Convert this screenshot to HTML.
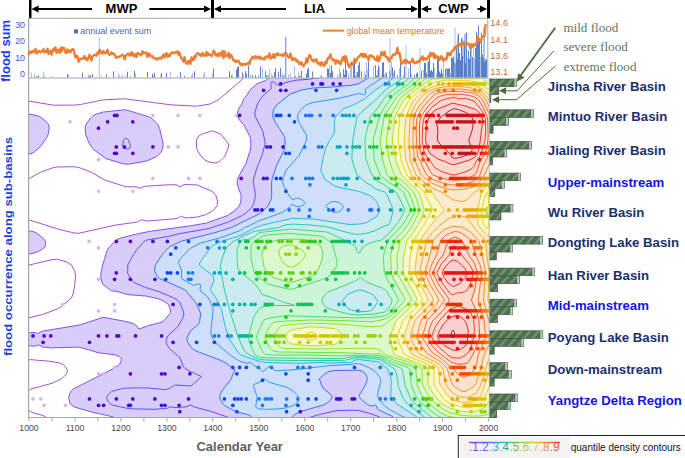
<!DOCTYPE html><html><head><meta charset="utf-8"><style>html,body{margin:0;padding:0;background:#fff;}svg{display:block;}svg{font-family:"Liberation Sans",sans-serif;}</style></head><body>
<svg width="685" height="458" viewBox="0 0 685 458">
<defs><clipPath id="pc"><rect x="28.5" y="78" width="460.5" height="339.5"/></clipPath><pattern id="hatch" patternUnits="userSpaceOnUse" width="6.5" height="6.5" patternTransform="rotate(40)"><rect width="6.5" height="6.5" fill="#4d6f4e"/><rect width="2.6" height="6.5" fill="#6f936f"/></pattern></defs>
<rect width="685" height="458" fill="#fff"/>
<g clip-path="url(#pc)">
<path fill="#d9cefb" fill-rule="evenodd" d="M504.0 428.3 L122.2 428.0 L122.0 422.0 L119.3 419.5 L113.5 417.0 L93.0 412.3 L74.5 407.1 L70.3 404.0 L68.8 398.5 L69.0 396.0 L70.0 393.1 L71.5 390.7 L73.5 388.9 L111.0 369.8 L118.3 365.5 L120.3 363.0 L121.6 360.0 L121.5 359.0 L119.2 356.5 L115.0 354.8 L98.0 352.7 L89.5 349.9 L78.5 347.1 L51.5 347.9 L42.8 347.0 L39.0 344.9 L34.5 346.2 L25.5 345.5 L23.0 344.5 L18.0 340.5 L18.0 339.0 L17.5 338.5 L18.5 338.4 L21.7 335.0 L24.5 333.4 L34.0 332.4 L38.5 333.5 L40.5 332.0 L43.0 331.1 L80.5 324.8 L103.0 317.3 L123.5 321.0 L133.4 323.5 L135.8 325.0 L139.0 329.0 L148.7 325.5 L161.0 322.4 L163.0 321.3 L165.8 318.5 L170.0 313.5 L170.4 310.0 L168.5 304.5 L163.3 301.0 L158.0 298.6 L146.5 296.1 L128.0 294.6 L117.0 291.5 L111.5 290.8 L103.0 284.5 L101.2 280.0 L100.7 274.5 L102.6 265.0 L107.2 250.5 L108.6 248.0 L114.0 242.2 L117.5 239.4 L120.5 238.1 L137.5 233.8 L151.5 231.1 L190.0 225.9 L206.5 223.0 L227.6 215.5 L233.4 211.5 L239.0 206.5 L240.8 202.0 L241.2 195.5 L237.4 185.0 L237.1 180.5 L238.6 176.5 L246.0 163.4 L250.3 150.0 L250.8 146.5 L250.6 139.5 L249.7 136.0 L243.9 125.0 L239.8 120.5 L238.3 118.0 L237.1 115.0 L237.6 112.0 L238.6 109.0 L241.8 104.0 L243.7 99.0 L247.0 95.0 L250.5 89.4 L257.0 83.7 L265.5 80.5 L272.3 76.0 L274.7 71.5 L275.1 66.0 L504.0 65.7 L504.0 428.3ZM129.5 164.1 L124.0 164.0 L106.0 158.7 L94.3 150.0 L91.7 147.5 L88.6 142.0 L85.6 134.5 L85.2 127.0 L86.2 124.0 L90.6 118.0 L92.8 116.0 L96.5 114.0 L103.4 112.0 L125.5 109.7 L149.5 117.0 L153.0 119.5 L157.9 124.5 L159.6 128.5 L163.0 143.0 L163.0 148.0 L160.9 152.5 L156.7 156.5 L147.0 160.9 L129.5 164.1ZM29.0 154.1 L21.0 154.2 L19.2 153.5 L16.0 150.8 L16.0 117.4 L19.0 115.0 L21.4 114.0 L28.5 114.0 L39.0 116.2 L45.6 121.0 L49.0 125.6 L49.1 130.0 L47.8 135.5 L42.5 143.9 L39.7 147.5 L35.5 151.2 L32.5 153.1 L29.0 154.1ZM30.0 254.0 L26.0 254.5 L21.5 254.2 L18.7 253.0 L16.0 250.7 L16.0 234.1 L20.2 231.0 L22.5 230.5 L27.5 230.4 L34.5 231.9 L41.7 237.0 L45.3 241.0 L45.6 245.0 L44.0 248.0 L37.3 252.0 L30.0 254.0Z"/>
<path fill="#d9cefb" fill-rule="evenodd" d="M504.0 428.2 L384.0 428.0 L384.0 426.0 L386.0 423.3 L386.3 422.0 L385.7 420.5 L384.2 419.0 L376.0 415.5 L368.3 413.0 L359.5 410.6 L353.5 410.2 L337.0 410.5 L319.3 414.5 L310.8 417.0 L306.3 419.5 L304.6 421.5 L305.0 423.7 L307.0 426.0 L307.0 428.0 L234.6 428.0 L234.3 422.0 L232.5 420.0 L228.7 417.5 L211.5 411.5 L194.4 407.0 L191.0 404.9 L185.5 406.9 L175.0 407.6 L171.0 406.8 L167.0 408.2 L155.0 409.3 L133.0 408.9 L125.7 408.0 L112.5 405.0 L110.0 403.5 L107.7 401.0 L106.6 397.5 L107.6 395.5 L111.6 391.5 L116.2 390.0 L124.5 388.2 L138.5 387.9 L147.0 387.9 L165.5 389.6 L169.4 388.5 L173.5 385.8 L175.5 385.0 L191.0 386.0 L201.5 376.5 L198.5 375.0 L197.5 375.0 L192.0 372.0 L191.0 372.0 L184.5 368.0 L183.5 367.0 L179.8 357.5 L169.3 348.5 L166.4 343.5 L166.2 340.5 L167.2 337.0 L170.0 333.5 L177.5 327.2 L183.3 317.0 L183.8 314.5 L183.5 312.0 L179.9 302.5 L177.4 300.0 L173.0 297.6 L159.5 291.8 L145.7 287.5 L134.9 283.0 L131.7 280.0 L127.7 273.5 L127.8 265.0 L132.3 256.5 L136.5 250.2 L143.2 242.5 L146.0 240.2 L168.0 236.6 L180.5 233.5 L205.0 229.5 L213.7 227.0 L228.5 222.0 L242.2 215.5 L246.5 212.5 L252.6 206.5 L254.1 203.0 L255.4 195.5 L253.3 183.0 L253.5 179.5 L256.9 168.0 L262.3 154.5 L265.3 143.0 L262.7 131.0 L255.3 117.0 L254.8 113.0 L257.1 105.0 L259.7 100.0 L266.0 92.7 L270.9 89.0 L271.2 87.5 L270.7 83.5 L271.5 81.8 L273.5 81.8 L277.5 85.0 L279.0 85.2 L286.0 82.4 L296.5 80.2 L308.5 79.3 L328.0 76.3 L328.6 75.5 L324.2 71.5 L323.8 66.0 L504.3 66.0 L504.0 428.2ZM128.0 149.0 L124.5 148.4 L122.6 146.5 L123.3 141.0 L124.0 139.5 L125.5 138.3 L127.0 138.6 L128.3 140.0 L130.3 145.0 L130.1 148.0 L128.0 149.0Z"/>
<path fill="#cedffc" fill-rule="evenodd" d="M504.0 428.2 L396.5 428.0 L396.2 421.5 L393.0 416.7 L378.5 409.8 L377.5 409.0 L376.5 406.0 L375.5 405.1 L371.5 406.2 L367.5 404.5 L362.5 400.5 L359.1 396.5 L359.6 394.5 L365.5 385.0 L367.3 379.5 L366.6 376.0 L365.1 373.5 L361.7 371.0 L358.5 370.1 L334.8 370.5 L329.1 371.5 L326.2 373.0 L320.5 377.5 L319.0 379.5 L320.0 380.0 L321.2 384.5 L323.7 389.0 L329.7 393.5 L331.7 396.0 L332.0 397.5 L330.5 400.0 L327.1 403.0 L323.6 405.0 L298.5 412.1 L294.2 415.0 L283.0 426.0 L261.0 426.0 L250.0 415.5 L247.0 414.4 L236.0 411.9 L224.7 405.5 L222.3 403.0 L219.7 397.5 L220.4 393.5 L222.0 390.7 L230.8 379.5 L235.0 369.9 L225.2 362.5 L219.9 360.0 L197.5 351.5 L192.8 349.0 L190.4 346.5 L187.3 341.5 L186.8 338.0 L190.3 331.0 L198.2 324.5 L199.5 322.8 L200.6 313.5 L198.4 307.5 L195.5 302.5 L185.5 290.3 L162.3 280.0 L158.9 278.0 L156.7 275.5 L155.4 273.0 L154.4 270.0 L154.6 268.0 L156.2 263.5 L162.3 254.5 L168.0 248.0 L170.9 246.0 L182.0 241.0 L215.0 232.6 L231.4 227.5 L259.5 213.7 L267.5 206.7 L270.0 202.0 L271.6 197.5 L271.6 182.5 L272.2 178.5 L276.8 165.0 L283.9 150.5 L285.2 142.5 L284.4 136.5 L274.2 120.5 L272.6 116.0 L272.6 113.0 L273.8 109.0 L276.2 105.5 L290.0 94.2 L301.0 90.1 L312.0 88.1 L334.0 86.8 L351.5 85.2 L358.0 84.0 L363.7 81.0 L371.0 75.9 L373.0 72.5 L373.3 66.0 L504.2 66.0 L504.0 428.2Z"/>
<path fill="#cedffc" fill-rule="evenodd" d="M504.0 428.2 L413.6 428.0 L413.4 422.5 L412.0 420.6 L400.5 415.5 L395.5 412.5 L391.5 410.8 L385.3 406.5 L383.3 404.5 L378.8 398.5 L377.6 395.5 L380.8 381.5 L380.7 379.5 L379.6 377.0 L376.6 373.0 L373.1 370.0 L369.0 367.6 L359.5 363.7 L356.5 363.5 L351.0 364.4 L330.5 365.5 L283.0 370.6 L275.0 370.6 L271.5 367.1 L269.5 366.7 L267.5 367.6 L263.5 371.5 L259.0 368.0 L253.7 365.5 L251.5 362.7 L250.5 362.4 L247.0 363.3 L239.5 361.1 L230.2 355.0 L219.2 346.0 L215.4 342.0 L211.9 337.0 L211.0 334.5 L210.9 331.5 L213.1 313.0 L213.0 309.0 L208.4 298.0 L200.3 291.0 L200.0 289.5 L200.8 286.5 L200.5 284.8 L199.0 283.9 L194.5 285.4 L193.0 285.3 L188.0 282.0 L182.6 279.5 L181.4 278.0 L181.6 270.0 L178.4 263.5 L178.2 262.0 L181.3 257.5 L191.4 247.5 L202.0 242.4 L219.6 238.0 L237.8 231.5 L242.0 229.5 L244.5 227.4 L248.0 226.4 L259.5 220.6 L279.9 213.5 L286.9 209.5 L292.0 204.2 L296.2 206.5 L298.0 206.8 L301.5 206.1 L304.0 204.5 L304.8 203.5 L304.3 202.0 L302.3 200.0 L299.5 198.5 L296.5 198.2 L292.5 199.9 L286.5 191.8 L283.4 185.0 L282.5 181.5 L283.3 177.5 L286.0 170.2 L299.1 155.5 L306.7 140.0 L306.4 135.0 L299.5 123.5 L298.2 120.0 L297.3 116.0 L299.1 112.5 L301.1 109.5 L304.6 106.0 L307.2 104.5 L312.5 102.6 L340.0 98.1 L359.5 93.4 L363.5 94.8 L364.9 94.5 L365.7 93.0 L365.3 90.0 L366.1 88.5 L383.5 77.0 L385.8 72.5 L386.0 66.0 L504.2 66.0 L504.0 428.2ZM336.5 212.5 L340.2 211.0 L343.4 207.5 L342.7 205.5 L340.2 203.0 L336.0 201.5 L332.5 201.6 L329.8 202.5 L326.2 205.5 L326.1 206.5 L329.3 210.0 L333.5 212.2 L336.5 212.5ZM275.5 409.0 L264.5 409.4 L258.5 408.6 L256.1 407.5 L255.8 406.0 L257.2 397.0 L253.6 386.5 L254.0 384.5 L262.0 381.0 L265.5 378.8 L268.2 381.5 L270.0 382.5 L287.0 387.3 L293.0 390.9 L296.7 394.5 L298.3 397.5 L298.5 399.0 L297.3 402.5 L294.6 405.0 L286.0 408.0 L275.5 409.0Z"/>
<path fill="#cbecee" fill-rule="evenodd" d="M504.0 428.1 L422.6 428.0 L422.0 422.5 L420.0 419.5 L415.5 416.0 L396.4 403.5 L392.0 399.0 L390.5 394.0 L391.3 379.5 L389.0 372.1 L386.8 368.0 L380.1 362.5 L378.5 361.8 L359.5 359.6 L355.0 360.0 L352.1 362.0 L349.5 362.4 L327.0 363.0 L321.0 362.3 L300.0 363.3 L265.5 362.5 L258.5 361.2 L241.5 355.4 L238.3 352.5 L229.7 339.5 L224.9 325.5 L221.6 309.5 L215.6 297.5 L210.4 290.0 L210.5 288.5 L213.9 281.5 L213.2 276.5 L211.5 274.4 L200.0 266.0 L199.3 265.0 L199.4 263.5 L200.5 261.5 L210.2 248.0 L213.2 245.5 L218.6 242.5 L239.5 235.8 L253.0 228.8 L261.5 225.3 L292.0 218.5 L313.0 219.0 L349.5 224.5 L360.0 224.0 L366.5 222.7 L376.5 216.7 L378.6 213.5 L379.3 208.5 L377.0 202.0 L373.0 197.5 L369.8 195.5 L359.5 191.5 L340.5 187.7 L334.7 186.0 L324.5 179.0 L323.0 174.5 L321.0 171.0 L321.1 169.0 L322.7 159.5 L325.6 148.5 L329.3 141.0 L332.7 136.0 L334.7 132.0 L334.3 122.0 L334.9 118.5 L336.1 116.0 L343.9 108.5 L353.5 104.9 L365.0 98.7 L375.4 90.0 L393.7 78.0 L395.1 76.5 L396.5 73.5 L397.5 66.0 L504.2 66.0 L504.0 428.1Z"/>
<path fill="#cbecee" fill-rule="evenodd" d="M504.0 428.1 L434.2 428.0 L433.3 423.5 L432.3 421.5 L426.0 418.4 L408.3 404.5 L404.5 400.5 L403.0 398.0 L398.4 386.5 L396.7 374.0 L395.3 370.5 L392.4 367.5 L379.5 359.2 L360.0 357.7 L354.0 358.2 L344.5 360.4 L300.5 360.6 L265.5 360.0 L260.0 359.5 L255.0 357.9 L245.7 352.5 L243.0 348.0 L238.1 337.0 L232.0 318.2 L224.5 290.2 L220.3 266.0 L221.0 262.5 L225.6 249.0 L228.0 246.0 L233.2 241.5 L244.3 235.5 L253.0 231.6 L278.9 227.5 L285.0 224.9 L292.0 224.1 L312.0 225.1 L327.0 226.7 L349.5 233.1 L355.5 234.2 L360.5 234.3 L369.5 232.6 L389.1 224.5 L390.1 222.5 L393.2 210.0 L387.4 195.5 L386.4 193.5 L384.8 192.0 L375.5 189.1 L371.5 185.6 L366.3 183.0 L356.8 174.5 L351.8 159.5 L352.6 141.0 L356.6 118.5 L357.5 116.0 L364.0 109.8 L375.0 100.7 L386.3 89.0 L392.3 85.5 L401.8 78.5 L404.0 74.6 L407.5 72.0 L409.1 66.0 L504.1 66.0 L504.0 428.1ZM366.5 311.5 L369.8 311.0 L372.7 309.5 L377.4 302.5 L377.4 301.0 L374.7 297.0 L373.0 295.0 L370.7 293.5 L362.0 290.3 L358.0 290.1 L348.1 294.0 L342.7 300.5 L342.6 302.5 L347.2 307.5 L350.0 309.5 L358.5 311.8 L366.5 311.5Z"/>
<path fill="#ccf5d8" fill-rule="evenodd" d="M504.0 428.1 L450.3 428.0 L450.0 426.5 L449.9 428.0 L445.6 428.0 L444.7 423.0 L443.4 421.0 L441.0 419.8 L434.5 418.5 L431.5 417.0 L415.0 403.7 L411.3 400.0 L405.2 385.5 L402.6 371.0 L401.8 369.0 L399.7 367.5 L391.2 364.0 L380.0 357.6 L360.0 356.4 L348.5 357.2 L343.5 358.5 L260.9 357.5 L256.5 356.1 L254.4 354.0 L251.9 348.5 L248.5 338.5 L248.6 334.5 L253.7 317.0 L256.5 312.1 L261.0 307.0 L270.0 306.0 L270.5 305.5 L295.0 305.5 L289.0 303.5 L285.5 303.0 L284.0 302.0 L281.5 301.5 L280.0 300.5 L277.5 300.0 L276.0 299.0 L261.5 294.0 L260.9 292.0 L255.5 284.5 L239.4 271.0 L238.2 269.0 L237.6 266.5 L236.8 250.5 L238.1 246.5 L242.2 240.0 L249.5 239.2 L254.9 236.5 L258.1 233.5 L260.5 232.5 L286.5 229.4 L292.0 229.2 L323.5 231.5 L329.4 233.0 L348.1 242.0 L355.2 246.0 L355.8 246.5 L356.7 251.0 L358.0 252.5 L359.5 253.0 L361.0 251.5 L363.0 246.8 L363.8 246.0 L370.0 243.0 L380.5 240.3 L382.5 239.4 L390.5 232.1 L398.0 222.5 L404.3 211.5 L404.7 210.0 L404.3 208.0 L396.6 192.5 L388.0 187.6 L383.0 183.9 L377.5 181.7 L371.6 174.5 L366.1 160.0 L364.9 142.5 L365.1 138.5 L370.3 116.5 L377.8 108.0 L384.0 99.0 L390.3 92.0 L407.8 79.5 L410.3 75.5 L418.5 73.3 L423.5 73.5 L425.0 73.0 L426.0 71.0 L426.9 66.0 L504.1 66.0 L504.0 428.1ZM359.4 315.0 L374.0 314.0 L384.0 312.3 L386.3 311.0 L390.7 305.0 L392.1 301.0 L391.5 299.0 L386.0 290.5 L382.5 288.2 L367.0 282.4 L360.5 277.3 L354.5 281.5 L327.8 292.0 L325.4 294.0 L322.7 298.0 L321.8 300.5 L322.1 301.5 L324.5 306.0 L327.0 307.9 L334.5 310.4 L350.5 314.4 L359.4 315.0Z"/>
<path fill="#ccf5d8" fill-rule="evenodd" d="M504.0 428.1 L462.8 428.0 L461.6 422.0 L460.2 420.0 L444.0 418.1 L437.8 416.0 L428.3 409.0 L419.3 401.0 L417.2 398.5 L414.0 392.3 L411.3 385.5 L410.1 370.5 L409.2 368.5 L405.4 366.5 L393.5 362.5 L388.5 359.8 L384.5 358.6 L380.0 355.9 L372.0 356.0 L359.5 355.1 L343.0 355.9 L309.5 355.1 L272.5 355.0 L267.1 354.5 L264.2 353.5 L262.5 351.5 L256.6 338.0 L257.1 334.5 L263.0 321.5 L265.0 319.5 L268.5 318.2 L286.0 315.7 L353.5 317.8 L372.5 317.6 L383.5 316.1 L387.0 314.8 L389.5 312.8 L396.6 303.5 L398.4 300.5 L398.1 298.5 L388.0 281.0 L384.4 272.5 L383.3 256.5 L387.6 240.5 L402.7 225.0 L410.0 212.0 L410.5 209.0 L403.4 192.0 L397.5 187.4 L389.0 182.6 L381.2 176.0 L379.7 174.0 L374.1 159.5 L373.2 139.0 L379.9 115.5 L384.5 107.0 L394.7 93.5 L409.1 83.5 L416.5 76.3 L420.0 75.5 L434.5 74.5 L436.8 73.0 L438.5 69.8 L439.5 73.0 L441.5 73.8 L443.0 73.5 L444.0 71.6 L445.1 66.0 L504.1 66.0 L504.0 428.1ZM292.5 289.1 L288.0 289.1 L267.4 284.0 L261.0 279.0 L254.0 272.0 L250.9 257.5 L251.1 246.0 L251.7 244.5 L253.6 242.5 L262.0 236.4 L266.5 234.9 L290.0 233.4 L319.0 235.9 L321.9 236.5 L324.5 237.9 L330.1 242.0 L332.3 244.5 L335.9 256.5 L337.1 263.5 L335.8 267.5 L331.0 274.6 L327.9 277.0 L320.5 280.1 L292.5 289.1Z"/>
<path fill="#ddf8cc" fill-rule="evenodd" d="M504.0 428.0 L480.0 428.0 L479.0 422.9 L478.5 421.5 L477.5 420.9 L476.9 422.0 L476.9 428.0 L474.6 428.0 L472.8 421.0 L470.5 418.8 L450.0 416.8 L446.0 415.5 L441.0 413.0 L429.1 404.0 L425.2 400.0 L422.7 396.5 L419.9 392.0 L417.2 385.5 L415.7 369.0 L413.5 367.0 L409.5 365.1 L395.0 360.5 L389.6 358.0 L385.0 356.9 L381.0 354.4 L379.0 353.8 L372.5 354.1 L344.0 352.8 L280.5 352.0 L275.0 351.5 L272.5 350.7 L270.5 348.9 L266.2 341.0 L265.0 337.5 L265.9 333.5 L270.9 324.5 L273.0 322.8 L277.5 321.7 L311.0 320.0 L344.0 320.6 L371.0 321.9 L380.0 320.3 L386.0 318.6 L391.0 315.6 L404.3 301.0 L404.9 299.5 L404.5 298.0 L393.6 279.0 L391.3 273.5 L390.6 255.5 L393.8 240.5 L404.0 230.1 L407.6 225.5 L414.2 213.0 L415.1 209.0 L411.6 198.5 L408.3 191.5 L402.0 185.6 L390.0 177.5 L387.4 175.0 L386.4 173.0 L382.4 159.0 L380.1 141.0 L384.1 117.5 L385.3 114.5 L397.5 96.2 L402.4 92.0 L412.5 85.3 L421.0 77.7 L427.0 76.3 L452.5 75.4 L454.4 73.5 L456.1 66.0 L460.3 66.0 L460.5 70.8 L461.0 70.7 L461.5 69.4 L462.1 66.0 L504.0 66.0 L504.0 428.0ZM292.5 282.1 L288.0 282.0 L273.4 277.5 L270.0 275.2 L265.6 270.5 L263.9 266.5 L262.0 254.5 L263.6 247.5 L266.0 244.5 L270.0 242.5 L278.0 239.8 L290.0 239.1 L301.5 239.3 L305.5 240.0 L316.4 243.5 L319.3 245.0 L320.9 246.5 L322.4 251.0 L322.7 257.5 L319.0 268.0 L316.0 273.2 L311.6 276.0 L292.5 282.1Z"/>
<path fill="#ddf8cc" fill-rule="evenodd" d="M480.0 416.0 L468.5 416.1 L459.0 415.0 L450.5 413.0 L442.0 408.6 L431.0 399.6 L422.9 386.5 L422.1 383.5 L422.0 370.0 L421.0 368.0 L417.9 366.0 L410.0 362.6 L385.5 354.6 L381.5 351.3 L377.5 348.9 L368.5 348.2 L312.0 349.0 L283.5 348.4 L280.5 347.6 L278.2 345.5 L274.9 340.0 L274.1 336.5 L276.5 331.1 L280.0 326.6 L282.5 325.5 L288.5 324.7 L311.0 323.1 L340.5 324.2 L368.5 326.6 L381.5 326.2 L384.0 324.8 L397.5 314.4 L402.0 309.2 L410.4 301.5 L411.4 300.0 L411.0 298.0 L397.4 273.5 L397.1 256.0 L400.4 240.5 L409.3 230.5 L412.5 225.7 L418.7 213.0 L419.5 209.0 L416.5 199.0 L413.7 192.0 L404.5 182.7 L394.5 175.0 L392.2 169.5 L389.1 159.0 L386.2 140.5 L390.2 116.0 L398.9 100.5 L401.3 97.5 L406.8 92.5 L416.7 86.0 L426.0 78.4 L429.5 77.6 L435.0 77.1 L460.0 76.8 L464.5 76.1 L470.0 76.4 L471.5 75.7 L472.3 74.5 L474.1 66.0 L504.0 66.0 L504.0 412.5 L491.0 412.6 L486.5 414.8 L480.0 416.0ZM293.0 267.0 L291.0 267.2 L287.0 265.5 L283.0 262.4 L281.0 259.2 L279.2 254.5 L279.0 250.0 L280.0 248.5 L283.9 246.0 L289.5 244.6 L293.0 245.4 L301.9 250.0 L305.4 254.0 L304.4 257.5 L302.4 260.5 L299.5 263.0 L293.0 267.0Z"/>
<path fill="#f9f8ca" fill-rule="evenodd" d="M471.0 411.6 L468.0 411.9 L462.5 411.3 L451.5 408.8 L443.5 404.5 L439.7 401.5 L433.5 393.8 L428.5 385.5 L428.0 383.0 L427.9 370.0 L427.1 368.0 L424.2 366.0 L417.5 362.8 L396.8 355.5 L394.3 354.0 L393.1 352.0 L389.9 338.0 L390.1 336.0 L395.8 321.0 L413.0 304.9 L417.0 300.0 L415.9 296.5 L403.4 273.5 L403.1 270.5 L403.5 257.0 L406.9 240.5 L412.0 234.3 L418.3 224.5 L422.0 217.0 L424.2 210.0 L421.7 200.5 L419.0 192.5 L401.2 174.5 L396.1 161.0 L392.2 140.0 L395.0 117.5 L395.7 115.0 L400.5 105.8 L405.0 98.8 L411.2 93.0 L428.0 81.4 L431.1 79.5 L434.5 78.7 L446.5 78.1 L479.0 78.5 L482.0 78.0 L483.0 78.4 L487.0 82.9 L488.5 83.9 L496.0 82.3 L504.0 81.3 L504.0 399.9 L490.5 400.1 L489.0 401.3 L486.5 405.8 L485.0 407.3 L478.5 410.7 L471.0 411.6ZM487.3 214.5 L488.0 209.9 L487.5 206.9 L487.0 206.5 L485.7 210.5 L486.5 214.2 L487.0 215.0 L487.3 214.5ZM319.0 345.5 L309.0 345.8 L291.5 343.9 L289.4 343.0 L287.4 341.0 L285.8 338.0 L285.8 336.0 L287.6 332.5 L290.8 330.0 L310.5 326.7 L334.5 328.5 L337.6 330.0 L341.5 334.0 L341.5 339.0 L336.1 344.0 L333.0 344.7 L319.0 345.5Z"/>
<path fill="#f9f8ca" fill-rule="evenodd" d="M470.5 407.1 L463.0 407.0 L453.0 404.7 L449.5 403.2 L444.0 399.6 L434.3 385.0 L433.9 370.0 L433.0 368.0 L424.7 363.0 L407.3 356.0 L403.8 354.0 L402.2 351.0 L397.3 337.5 L398.0 334.0 L403.3 320.0 L419.0 304.5 L422.4 300.0 L421.8 297.5 L409.3 273.0 L409.9 257.0 L413.7 240.0 L423.7 225.5 L427.5 218.0 L432.4 210.0 L431.9 208.0 L424.1 192.5 L407.8 176.0 L406.1 173.5 L403.4 167.0 L401.2 159.5 L398.2 140.5 L399.8 117.0 L400.7 114.5 L408.8 100.5 L416.2 93.0 L422.5 88.7 L434.0 82.4 L446.0 80.2 L466.0 80.4 L476.5 81.9 L478.5 82.7 L482.0 85.5 L490.5 90.6 L504.0 89.2 L504.0 385.2 L492.0 385.2 L490.0 385.7 L488.5 387.9 L485.0 397.5 L483.0 401.0 L478.5 405.0 L470.5 407.1ZM487.8 228.5 L488.8 224.5 L489.2 209.5 L488.0 194.5 L487.5 192.6 L487.0 192.4 L486.0 193.8 L484.1 199.5 L481.5 211.0 L483.2 224.5 L486.0 228.0 L487.0 228.7 L487.8 228.5ZM313.0 340.0 L307.2 339.5 L304.8 338.0 L304.4 337.0 L306.0 334.5 L308.5 332.8 L311.0 332.0 L313.5 332.5 L316.4 334.5 L317.6 337.0 L315.4 339.0 L313.0 340.0Z"/>
<path fill="#fbebcc" fill-rule="evenodd" d="M470.0 402.6 L464.0 402.7 L460.5 402.2 L453.0 400.1 L450.1 398.0 L444.8 392.0 L440.3 385.0 L438.9 370.0 L438.2 368.0 L435.0 365.3 L427.5 361.2 L415.1 356.0 L411.8 354.0 L407.0 345.8 L403.9 337.0 L409.4 320.0 L425.0 304.1 L427.9 300.0 L427.5 298.0 L418.2 280.5 L414.7 272.5 L416.4 257.5 L419.8 241.0 L423.0 235.7 L435.5 218.9 L443.3 211.5 L444.2 209.5 L437.5 200.8 L432.4 193.0 L424.0 187.1 L416.5 180.5 L412.2 176.0 L410.5 173.0 L405.8 160.0 L404.1 141.5 L405.8 117.0 L413.0 101.0 L420.8 93.0 L424.5 90.5 L430.0 87.9 L436.5 85.7 L447.0 83.4 L462.5 83.5 L473.5 85.6 L480.5 88.1 L484.5 90.2 L491.0 96.5 L504.0 96.8 L504.0 372.2 L492.5 371.7 L490.0 372.4 L487.5 376.9 L482.5 392.0 L479.2 398.0 L476.5 400.4 L470.0 402.6ZM488.8 235.5 L489.9 229.0 L490.0 209.0 L489.2 190.5 L488.5 186.6 L487.5 185.2 L485.5 186.8 L481.3 193.0 L477.3 210.5 L478.3 225.0 L483.5 231.8 L487.5 235.6 L488.8 235.5Z"/>
<path fill="#fbebcc" fill-rule="evenodd" d="M504.0 228.0 L494.0 227.9 L493.0 227.3 L492.5 226.0 L491.5 216.0 L490.2 187.0 L489.5 181.0 L488.5 178.5 L487.5 178.5 L486.5 179.3 L479.0 188.8 L472.9 193.5 L467.5 199.6 L465.0 200.9 L462.0 201.6 L458.5 200.5 L453.5 200.0 L441.3 192.0 L431.5 187.3 L424.0 182.4 L417.3 176.5 L415.3 174.0 L410.8 162.0 L409.9 158.5 L409.0 140.0 L410.4 116.5 L413.1 109.0 L416.0 103.8 L424.4 94.0 L427.9 91.5 L436.0 88.4 L447.5 86.4 L460.0 86.4 L472.0 88.1 L479.5 90.3 L483.0 92.4 L485.5 95.1 L490.0 101.8 L491.5 103.0 L504.0 103.2 L504.0 228.0ZM467.5 397.5 L462.5 397.5 L459.0 396.5 L455.0 394.6 L451.5 391.7 L446.0 384.5 L443.1 369.5 L442.2 367.5 L439.8 365.0 L435.0 361.9 L419.6 354.0 L414.1 345.5 L410.4 337.0 L415.4 320.0 L430.6 304.0 L433.4 300.0 L433.1 298.5 L429.5 292.5 L419.8 273.0 L420.4 268.5 L426.6 240.5 L432.0 232.7 L440.5 224.6 L449.0 218.5 L457.5 215.4 L465.0 216.9 L467.5 218.1 L474.7 228.5 L485.4 240.5 L489.2 272.5 L488.0 298.5 L488.4 302.0 L490.5 307.6 L492.0 309.0 L504.0 309.2 L504.0 355.2 L492.5 355.2 L490.4 356.0 L488.5 359.8 L481.0 384.5 L479.0 388.8 L475.5 393.3 L470.0 396.8 L467.5 397.5Z"/>
<path fill="#fce1cc" fill-rule="evenodd" d="M453.5 190.0 L450.0 189.6 L442.0 187.4 L433.0 183.9 L425.0 178.4 L420.4 173.5 L415.0 161.2 L414.2 158.0 L412.9 139.5 L413.4 118.0 L414.6 114.0 L419.6 105.5 L430.8 93.0 L436.0 90.8 L445.0 89.2 L460.0 88.9 L473.5 90.7 L480.0 93.4 L484.9 98.5 L489.5 107.6 L491.0 109.2 L504.0 109.6 L504.0 172.0 L493.0 171.6 L490.0 162.7 L484.8 174.5 L477.0 184.9 L472.5 187.1 L464.5 189.3 L453.5 190.0ZM465.0 391.5 L462.5 391.5 L460.0 390.6 L453.0 385.2 L451.0 381.5 L447.4 369.5 L446.4 367.5 L440.5 361.7 L429.3 355.5 L426.8 353.5 L421.0 345.7 L416.9 337.0 L419.8 324.5 L421.4 320.0 L436.0 304.5 L438.7 300.5 L438.3 298.5 L430.5 285.5 L424.8 273.0 L425.3 270.0 L430.0 255.0 L433.0 241.1 L434.6 238.5 L442.5 230.5 L450.5 226.8 L453.0 226.2 L461.0 226.8 L464.0 227.8 L471.5 232.7 L478.8 240.5 L485.8 272.5 L483.6 300.5 L489.5 323.5 L490.5 326.2 L492.0 327.6 L504.0 327.7 L504.0 343.0 L492.0 343.0 L490.5 343.5 L489.0 344.8 L483.9 355.5 L480.7 369.0 L476.0 383.7 L472.7 387.0 L465.0 391.5Z"/>
<path fill="#fce1cc" fill-rule="evenodd" d="M457.5 185.0 L452.0 185.0 L445.0 183.6 L434.5 180.3 L430.0 177.7 L427.3 175.5 L425.5 173.0 L420.0 160.6 L417.9 157.0 L417.4 155.0 L416.2 135.0 L416.5 120.5 L417.7 116.0 L420.5 110.7 L424.3 105.5 L433.5 95.3 L437.0 93.2 L445.0 91.7 L460.5 91.3 L472.5 93.0 L476.0 94.3 L479.9 97.0 L482.7 100.0 L488.5 112.4 L491.4 117.5 L489.8 142.0 L487.7 156.0 L487.0 158.4 L483.0 166.0 L479.9 175.0 L477.0 179.2 L474.5 180.9 L466.0 183.7 L457.5 185.0ZM464.0 377.0 L462.0 376.8 L459.0 374.9 L442.5 359.4 L431.5 352.0 L423.3 339.0 L422.4 336.5 L427.0 320.5 L441.8 304.5 L444.2 300.5 L443.7 298.5 L437.7 290.5 L430.3 276.0 L429.3 272.5 L430.3 268.5 L432.0 263.7 L436.5 255.0 L441.0 240.0 L446.0 235.0 L454.0 231.6 L458.5 231.9 L461.0 232.7 L468.6 238.0 L471.2 240.5 L475.8 255.5 L480.0 264.8 L481.8 273.0 L478.2 300.0 L483.9 320.0 L485.8 337.0 L478.2 355.0 L476.2 365.5 L475.0 368.7 L470.0 374.2 L467.0 376.1 L464.0 377.0Z"/>
<path fill="#fcd9cd" fill-rule="evenodd" d="M458.0 180.0 L453.0 180.2 L444.5 178.8 L436.5 176.4 L432.5 174.6 L430.2 171.5 L421.2 154.5 L420.4 152.0 L419.4 139.5 L419.5 125.0 L419.8 121.5 L421.4 115.5 L428.3 106.0 L436.1 98.5 L439.5 96.3 L446.6 94.5 L461.5 94.2 L472.0 96.1 L475.0 97.3 L478.6 100.0 L481.0 103.3 L484.0 108.8 L487.6 118.0 L488.2 136.5 L487.3 145.0 L485.0 154.0 L480.2 161.0 L476.5 172.7 L474.8 175.0 L470.6 177.0 L466.0 178.6 L458.0 180.0ZM461.5 364.1 L459.0 364.4 L451.0 362.2 L438.0 352.1 L432.5 346.5 L428.7 339.5 L427.8 336.5 L429.5 328.4 L432.6 321.0 L444.5 308.5 L449.3 300.5 L447.7 297.0 L439.5 286.0 L433.8 274.5 L433.5 271.5 L438.0 261.3 L443.1 255.0 L448.1 241.0 L451.0 238.6 L455.0 237.0 L459.0 238.3 L462.7 241.5 L469.2 255.5 L474.0 262.5 L477.7 273.0 L474.6 290.0 L471.5 300.0 L476.0 310.4 L478.8 319.5 L479.8 337.0 L474.4 351.5 L469.0 361.6 L467.0 363.1 L461.5 364.1Z"/>
<path fill="#fcd9cd" fill-rule="evenodd" d="M454.5 175.0 L448.8 174.0 L441.0 171.3 L434.5 167.4 L430.0 160.5 L426.8 157.0 L425.2 154.0 L423.6 150.0 L422.1 140.0 L422.8 124.5 L424.0 118.0 L425.8 114.5 L432.0 107.1 L440.5 100.8 L447.2 98.5 L453.0 97.6 L455.5 97.8 L459.0 99.0 L465.5 98.4 L474.0 100.9 L481.5 110.1 L485.0 117.0 L485.5 119.5 L485.6 133.0 L485.0 139.7 L482.4 150.0 L480.0 156.0 L476.7 160.5 L473.8 166.5 L472.0 168.5 L467.0 171.3 L454.5 175.0ZM453.5 294.6 L452.0 294.6 L450.5 293.8 L443.2 284.5 L437.5 274.5 L437.0 272.5 L441.0 264.3 L449.0 255.5 L451.5 247.6 L454.0 245.7 L456.0 246.9 L465.1 259.5 L470.5 265.7 L473.5 272.5 L470.3 284.0 L467.3 290.0 L464.5 291.8 L461.0 292.7 L457.5 292.8 L453.5 294.6ZM460.0 358.1 L452.5 357.8 L448.2 355.5 L444.2 351.5 L440.1 348.5 L435.9 344.0 L432.7 339.0 L431.9 336.5 L435.2 327.0 L438.7 321.5 L450.0 309.0 L457.5 306.4 L460.5 306.8 L468.0 309.7 L470.0 311.3 L473.6 319.5 L474.4 330.0 L473.9 337.0 L470.1 350.0 L466.0 354.8 L460.0 358.1Z"/>
<path fill="#fcced0" fill-rule="evenodd" d="M454.5 164.5 L450.5 164.3 L443.0 160.7 L438.0 159.1 L430.6 154.0 L428.0 149.8 L425.5 140.5 L426.6 123.5 L429.5 116.4 L433.4 111.5 L435.0 110.2 L452.5 103.1 L466.0 106.2 L476.0 109.5 L480.0 113.5 L482.2 118.0 L482.7 120.5 L479.8 144.0 L478.4 151.0 L476.6 155.5 L475.0 157.0 L470.0 159.9 L454.5 164.5ZM454.5 286.1 L452.5 286.3 L448.0 283.0 L444.0 277.5 L442.4 273.0 L444.0 268.5 L447.5 264.0 L450.0 261.7 L453.5 259.9 L457.5 261.4 L461.0 264.3 L465.1 268.5 L467.0 273.0 L465.4 277.5 L463.9 279.5 L459.0 284.0 L454.5 286.1ZM458.0 350.0 L455.0 350.4 L452.5 350.0 L444.0 345.5 L439.2 340.5 L437.5 336.5 L439.5 330.5 L443.1 324.5 L445.6 321.5 L450.5 317.1 L457.0 315.3 L460.2 316.5 L465.4 321.0 L468.3 330.0 L467.3 341.0 L465.5 345.9 L462.1 348.5 L458.0 350.0Z"/>
<path fill="#fcced0" fill-rule="evenodd" d="M457.5 158.1 L454.0 158.3 L452.0 157.3 L447.9 151.5 L439.8 144.0 L437.8 141.0 L437.3 139.0 L437.9 131.0 L436.8 123.5 L437.3 122.0 L440.8 117.0 L449.0 111.1 L453.5 108.8 L458.5 109.5 L465.9 112.5 L470.0 115.5 L472.4 118.0 L473.5 122.0 L472.4 129.5 L468.9 140.0 L469.2 142.0 L471.8 147.5 L472.1 150.5 L470.3 153.0 L467.8 155.0 L457.5 158.1ZM453.0 337.6 L451.5 337.0 L451.0 335.5 L451.5 332.0 L453.0 330.0 L454.3 332.0 L454.6 335.5 L454.0 337.0 L453.0 337.6Z"/>
<g fill="none" stroke-width="1">
<path stroke="#aa50d2" d="M158.5 66.0 L158.2 73.5 L156.6 74.5 L154.0 75.0 L152.5 74.5 L151.5 73.0 L149.9 66.0M16.0 100.0 L21.0 100.9 L29.5 101.2 L53.5 105.2 L74.5 105.1 L80.5 104.5 L103.0 99.9 L125.0 98.8 L170.5 104.8 L196.5 106.2 L210.0 104.0 L218.9 99.5 L241.1 80.5 L244.6 76.5 L243.7 75.5 L241.0 75.2 L200.0 75.5 L195.0 74.9 L185.0 75.5 L180.0 74.0 L169.0 75.4 L167.5 74.9 L166.1 73.5 L164.2 66.0M216.0 163.0 L220.0 161.3 L224.8 156.5 L228.0 148.4 L228.8 145.0 L227.2 142.0 L220.5 133.9 L212.5 130.8 L201.5 134.3 L198.8 136.0 L196.4 140.0 L196.6 147.5 L197.2 150.0 L200.2 155.0 L205.0 160.2 L210.0 162.2 L216.0 163.0M16.0 215.6 L20.6 219.0 L29.5 220.0 L59.0 229.4 L73.0 232.7 L78.0 233.4 L115.0 225.2 L137.4 222.0 L141.5 219.7 L146.5 221.0 L175.0 218.8 L178.4 218.0 L181.5 216.1 L183.9 217.5 L186.0 218.0 L197.7 217.0 L206.2 214.5 L213.8 210.0 L217.2 205.5 L217.7 202.0 L216.2 196.0 L212.5 191.5 L197.0 184.9 L185.0 184.5 L183.1 185.0 L180.0 187.0 L176.0 184.7 L167.5 184.8 L145.0 186.3 L142.4 187.0 L140.0 188.4 L136.0 186.8 L126.0 186.8 L105.0 180.2 L91.7 172.5 L81.8 168.5 L78.5 167.5 L73.0 166.7 L57.0 167.0 L52.1 168.0 L40.5 172.3 L29.0 178.6 L20.5 180.1 L16.0 183.5M16.0 315.0 L18.3 317.0 L20.5 318.1 L28.2 318.0 L42.5 314.5 L58.7 308.5 L69.0 300.3 L72.0 296.9 L73.1 294.0 L74.6 286.0 L75.6 276.5 L74.9 271.5 L71.5 265.0 L66.0 261.7 L56.5 259.2 L50.2 260.0 L29.0 265.1 L21.0 265.5 L18.7 266.5 L16.0 268.9M49.3 428.0 L49.8 421.5 L49.3 420.0 L48.1 418.5 L43.0 415.5 L32.1 412.5 L25.0 407.5 L25.0 405.5 L24.5 405.0 L24.5 396.0 L24.0 395.5 L24.0 394.0 L30.9 389.0 L52.0 383.3 L61.2 379.0 L64.7 376.0 L66.7 373.0 L67.4 371.0 L66.4 368.0 L63.3 364.5 L59.6 363.0 L50.5 361.3 L31.0 359.7 L25.8 360.0 L23.4 361.5 L20.5 364.3 L16.0 364.5"/>
<path stroke="#8250f0" d="M122.2 428.0 L122.0 422.0 L119.3 419.5 L113.5 417.0 L93.0 412.3 L74.5 407.1 L70.3 404.0 L68.8 398.5 L69.0 396.0 L70.0 393.1 L71.5 390.7 L73.5 388.9 L111.0 369.8 L118.3 365.5 L120.3 363.0 L121.6 360.0 L121.5 359.0 L119.2 356.5 L115.0 354.8 L98.0 352.7 L89.5 349.9 L78.5 347.1 L51.5 347.9 L42.8 347.0 L39.0 344.9 L34.5 346.2 L25.5 345.5 L23.0 344.5 L18.0 340.5 L18.0 339.0 L17.5 338.5 L18.5 338.4 L21.7 335.0 L24.5 333.4 L34.0 332.4 L38.5 333.5 L40.5 332.0 L43.0 331.1 L80.5 324.8 L103.0 317.3 L123.5 321.0 L133.4 323.5 L135.8 325.0 L139.0 329.0 L148.7 325.5 L161.0 322.4 L163.0 321.3 L165.8 318.5 L170.0 313.5 L170.4 310.0 L168.5 304.5 L163.3 301.0 L158.0 298.6 L146.5 296.1 L128.0 294.6 L117.0 291.5 L111.5 290.8 L103.0 284.5 L101.2 280.0 L100.7 274.5 L102.6 265.0 L107.2 250.5 L108.6 248.0 L114.0 242.2 L117.5 239.4 L120.5 238.1 L137.5 233.8 L151.5 231.1 L190.0 225.9 L206.5 223.0 L227.6 215.5 L233.4 211.5 L239.0 206.5 L240.8 202.0 L241.2 195.5 L237.4 185.0 L237.1 180.5 L238.6 176.5 L246.0 163.4 L250.3 150.0 L250.8 146.5 L250.6 139.5 L249.7 136.0 L243.9 125.0 L239.8 120.5 L238.3 118.0 L237.1 115.0 L237.6 112.0 L238.6 109.0 L241.8 104.0 L243.7 99.0 L247.0 95.0 L250.5 89.4 L257.0 83.7 L265.5 80.5 L272.3 76.0 L274.7 71.5 L275.1 66.0M129.5 164.1 L124.0 164.0 L106.0 158.7 L94.3 150.0 L91.7 147.5 L88.6 142.0 L85.6 134.5 L85.2 127.0 L86.2 124.0 L90.6 118.0 L92.8 116.0 L96.5 114.0 L103.4 112.0 L125.5 109.7 L149.5 117.0 L153.0 119.5 L157.9 124.5 L159.6 128.5 L163.0 143.0 L163.0 148.0 L160.9 152.5 L156.7 156.5 L147.0 160.9 L129.5 164.1M16.0 117.4 L19.9 114.5 L22.5 113.9 L28.8 114.0 L38.5 116.0 L41.9 118.0 L47.0 122.5 L48.8 125.0 L49.2 128.5 L48.3 134.0 L46.8 137.5 L40.5 146.6 L34.5 151.9 L32.0 153.3 L29.4 154.0 L22.5 154.4 L19.2 153.5 L16.0 150.8M16.0 234.1 L19.3 231.5 L22.1 230.5 L28.0 230.5 L33.5 231.6 L36.4 233.0 L42.8 238.0 L45.3 241.0 L45.7 243.5 L45.0 246.8 L42.7 249.0 L37.3 252.0 L32.2 253.5 L27.5 254.4 L22.0 254.3 L19.5 253.5 L16.0 250.7"/>
<path stroke="#5f50fa" d="M234.6 428.0 L234.3 422.0 L232.5 420.0 L228.7 417.5 L211.5 411.5 L194.4 407.0 L191.0 404.9 L185.5 406.9 L175.0 407.6 L171.0 406.8 L167.0 408.2 L155.0 409.3 L133.0 408.9 L125.7 408.0 L112.5 405.0 L110.0 403.5 L107.7 401.0 L106.6 397.5 L107.6 395.5 L111.6 391.5 L116.2 390.0 L124.5 388.2 L138.5 387.9 L147.0 387.9 L165.5 389.6 L169.4 388.5 L173.5 385.8 L175.5 385.0 L191.0 386.0 L201.5 376.5 L198.5 375.0 L197.5 375.0 L192.0 372.0 L191.0 372.0 L184.5 368.0 L183.5 367.0 L179.8 357.5 L169.3 348.5 L166.4 343.5 L166.2 340.5 L167.2 337.0 L170.0 333.5 L177.5 327.2 L183.3 317.0 L183.8 314.5 L183.5 312.0 L179.9 302.5 L177.4 300.0 L173.0 297.6 L159.5 291.8 L145.7 287.5 L134.9 283.0 L131.7 280.0 L127.7 273.5 L127.8 265.0 L132.3 256.5 L136.5 250.2 L143.2 242.5 L146.0 240.2 L167.5 236.6 L180.0 233.6 L208.9 228.5 L228.5 222.0 L241.2 216.0 L245.3 213.5 L251.3 208.0 L253.6 204.5 L255.3 196.0 L255.2 192.5 L253.3 183.0 L253.6 179.0 L257.0 167.6 L262.3 154.5 L265.3 143.0 L262.7 131.0 L254.8 115.5 L255.0 112.0 L257.7 103.5 L260.0 99.5 L264.5 94.2 L270.9 89.0 L271.2 87.5 L270.7 83.5 L271.5 81.8 L273.5 81.8 L277.5 85.0 L279.0 85.2 L286.0 82.4 L296.5 80.2 L308.5 79.3 L328.0 76.3 L328.6 75.5 L324.2 71.5 L323.8 66.0M128.0 149.0 L124.5 148.4 L122.6 146.5 L123.3 141.0 L124.0 139.5 L125.5 138.3 L127.0 138.6 L128.3 140.0 L130.3 145.0 L130.1 148.0 L128.0 149.0M384.0 428.0 L384.0 426.0 L386.0 423.3 L386.3 422.0 L385.7 420.5 L384.2 419.0 L376.0 415.5 L368.3 413.0 L359.5 410.6 L353.5 410.2 L337.0 410.5 L319.3 414.5 L310.8 417.0 L306.3 419.5 L304.6 421.5 L305.0 423.7 L307.0 426.0 L307.0 428.0"/>
<path stroke="#3c6efa" d="M396.5 428.0 L396.2 421.5 L393.0 416.7 L378.5 409.8 L377.5 409.0 L376.5 406.0 L375.5 405.1 L371.5 406.2 L367.5 404.5 L362.5 400.5 L359.1 396.5 L359.6 394.5 L365.5 385.0 L367.3 379.5 L366.6 376.0 L365.1 373.5 L362.0 371.1 L359.0 370.2 L335.0 370.5 L329.1 371.5 L326.2 373.0 L320.5 377.5 L319.0 379.5 L320.0 380.0 L321.2 384.5 L323.7 389.0 L329.7 393.5 L331.7 396.0 L332.0 397.5 L330.5 400.0 L327.1 403.0 L323.6 405.0 L298.5 412.1 L294.2 415.0 L283.0 426.0 L261.0 426.0 L249.9 415.5 L246.5 414.2 L236.5 412.1 L224.7 405.5 L222.6 403.5 L220.6 400.0 L219.6 397.0 L219.9 395.0 L221.8 391.0 L230.8 379.5 L235.0 369.9 L225.2 362.5 L219.9 360.0 L198.5 352.0 L193.5 349.5 L190.8 347.0 L187.5 342.0 L186.8 338.0 L190.3 331.0 L198.2 324.5 L199.6 322.5 L200.6 313.5 L198.1 307.0 L195.5 302.5 L186.0 290.7 L183.2 289.0 L159.5 278.5 L156.4 275.0 L154.4 270.0 L155.7 264.5 L159.8 258.0 L163.9 252.5 L170.0 246.5 L181.5 241.1 L215.0 232.6 L231.4 227.5 L259.5 213.7 L267.7 206.5 L270.5 200.8 L271.7 197.0 L271.6 182.5 L272.2 178.5 L276.8 165.0 L283.9 150.5 L285.0 144.5 L285.1 140.0 L284.4 136.5 L274.5 121.0 L272.5 115.5 L273.6 109.5 L277.2 104.5 L290.3 94.0 L301.4 90.0 L313.0 88.0 L332.5 87.0 L351.0 85.3 L359.0 83.6 L368.4 78.0 L371.0 75.9 L373.0 72.5 L373.3 66.0"/>
<path stroke="#3296f5" d="M413.6 428.0 L413.4 422.5 L412.0 420.6 L400.5 415.5 L395.5 412.5 L391.5 410.8 L385.3 406.5 L383.3 404.5 L378.8 398.5 L377.6 395.5 L377.9 392.5 L380.7 382.0 L380.7 379.5 L379.9 377.5 L377.1 373.5 L373.8 370.5 L369.5 367.9 L361.5 364.4 L356.5 363.5 L351.0 364.4 L330.5 365.5 L292.0 369.9 L277.0 370.8 L274.5 370.4 L271.5 367.1 L269.5 366.7 L267.5 367.6 L263.5 371.5 L259.0 368.0 L253.7 365.5 L251.5 362.7 L250.5 362.4 L247.0 363.3 L241.9 362.0 L237.5 360.0 L231.5 356.0 L218.1 345.0 L213.4 339.5 L211.4 336.0 L210.9 331.0 L213.1 310.0 L212.4 307.0 L209.0 299.0 L207.1 296.5 L200.3 291.0 L200.0 289.5 L200.8 286.0 L200.0 284.2 L198.5 283.9 L193.5 285.4 L182.0 279.0 L181.3 277.5 L181.6 270.0 L178.2 262.5 L180.4 258.5 L190.0 248.5 L200.6 243.0 L219.6 238.0 L239.0 231.0 L242.0 229.5 L244.5 227.4 L248.0 226.4 L259.5 220.6 L280.9 213.0 L286.9 209.5 L292.0 204.2 L296.2 206.5 L298.0 206.8 L301.5 206.1 L304.0 204.5 L304.8 203.5 L304.3 202.0 L302.3 200.0 L299.5 198.5 L296.5 198.2 L292.5 199.9 L286.5 191.8 L283.4 185.0 L282.5 181.5 L283.3 177.5 L286.0 170.2 L299.1 155.5 L306.7 140.0 L306.4 135.0 L299.5 123.5 L298.2 120.0 L297.3 116.0 L299.1 112.5 L301.1 109.5 L304.6 106.0 L307.2 104.5 L312.5 102.6 L340.0 98.1 L359.5 93.4 L363.5 94.8 L364.9 94.5 L365.7 93.0 L365.3 90.0 L366.1 88.5 L383.5 77.0 L385.8 72.5 L386.0 66.0M336.5 212.5 L340.2 211.0 L343.4 207.5 L342.7 205.5 L340.2 203.0 L336.0 201.5 L332.5 201.6 L329.8 202.5 L326.2 205.5 L326.1 206.5 L329.3 210.0 L333.5 212.2 L336.5 212.5M275.5 409.0 L264.5 409.4 L258.5 408.6 L256.1 407.5 L255.8 406.0 L257.2 397.0 L253.6 386.5 L254.0 384.5 L262.0 381.0 L265.5 378.8 L268.2 381.5 L270.0 382.5 L287.0 387.3 L293.0 390.9 L296.7 394.5 L298.3 397.5 L298.5 399.0 L297.3 402.5 L294.6 405.0 L286.0 408.0 L275.5 409.0"/>
<path stroke="#28b9dc" d="M422.6 428.0 L422.0 422.5 L420.0 419.5 L415.5 416.0 L396.4 403.5 L392.0 399.0 L390.6 394.5 L391.4 381.5 L390.5 376.3 L387.2 368.5 L379.0 361.9 L359.5 359.6 L355.0 360.0 L352.1 362.0 L349.5 362.4 L327.0 363.0 L321.0 362.3 L300.0 363.3 L265.5 362.5 L257.0 360.7 L240.5 354.8 L237.9 352.0 L229.7 339.5 L224.9 325.5 L221.6 309.5 L215.6 297.5 L210.4 290.0 L210.5 288.5 L213.9 281.5 L213.2 276.5 L211.0 274.0 L200.0 266.0 L199.2 264.5 L200.2 262.0 L209.8 248.5 L213.2 245.5 L218.6 242.5 L239.5 235.8 L253.0 228.8 L261.5 225.3 L292.0 218.5 L313.0 219.0 L349.5 224.5 L360.0 224.0 L366.5 222.7 L376.5 216.7 L378.6 213.5 L379.3 208.5 L377.0 202.0 L373.0 197.5 L369.8 195.5 L359.5 191.5 L340.5 187.7 L334.7 186.0 L324.5 179.0 L323.0 174.5 L321.0 171.0 L321.1 169.0 L322.7 159.5 L325.6 148.5 L329.3 141.0 L332.7 136.0 L334.7 132.0 L334.3 122.0 L334.9 118.5 L336.1 116.0 L343.9 108.5 L353.5 104.9 L365.0 98.7 L375.4 90.0 L393.7 78.0 L395.1 76.5 L396.5 73.5 L397.5 66.0"/>
<path stroke="#28c8b4" d="M434.2 428.0 L433.3 423.5 L432.3 421.5 L426.0 418.4 L408.3 404.5 L404.5 400.5 L403.0 398.0 L398.4 386.5 L396.7 374.0 L395.3 370.5 L393.1 368.0 L380.0 359.4 L360.0 357.7 L354.0 358.2 L344.5 360.4 L301.0 360.6 L266.0 360.0 L260.5 359.5 L256.0 358.3 L245.7 352.5 L243.9 350.0 L238.3 337.5 L231.5 316.5 L224.0 288.1 L220.3 266.5 L220.8 263.0 L225.2 250.0 L227.5 246.5 L233.2 241.5 L244.3 235.5 L254.0 231.3 L278.9 227.5 L285.0 224.9 L292.5 224.1 L312.0 225.1 L327.0 226.7 L349.5 233.1 L355.5 234.2 L360.5 234.3 L369.5 232.6 L376.7 230.0 L382.0 227.1 L389.0 224.7 L390.1 222.5 L393.2 210.0 L387.4 195.5 L386.4 193.5 L384.8 192.0 L375.5 189.1 L371.5 185.6 L366.3 183.0 L356.8 174.5 L351.8 159.5 L352.7 140.5 L356.6 118.5 L357.5 116.0 L364.0 109.8 L375.0 100.7 L386.3 89.0 L392.3 85.5 L401.8 78.5 L404.0 74.6 L407.5 72.0 L409.1 66.0M366.5 311.5 L369.8 311.0 L372.7 309.5 L377.4 302.5 L377.4 301.0 L374.7 297.0 L373.0 295.0 L370.7 293.5 L362.0 290.3 L358.0 290.1 L348.1 294.0 L342.7 300.5 L342.6 302.5 L347.2 307.5 L350.0 309.5 L358.5 311.8 L366.5 311.5"/>
<path stroke="#3cd782" d="M445.6 428.0 L444.7 423.0 L443.4 421.0 L441.0 419.8 L434.5 418.5 L431.5 417.0 L415.0 403.7 L411.3 400.0 L405.2 385.5 L402.6 371.0 L401.8 369.0 L399.7 367.5 L391.2 364.0 L380.0 357.6 L360.0 356.4 L348.5 357.2 L343.5 358.5 L265.0 357.8 L259.5 357.2 L255.7 355.5 L253.8 353.0 L251.9 348.5 L248.8 339.5 L248.3 336.5 L253.6 317.5 L257.5 310.8 L261.0 307.0 L270.0 306.0 L270.5 305.5 L295.0 305.5 L289.0 303.5 L285.5 303.0 L284.0 302.0 L281.5 301.5 L280.0 300.5 L277.5 300.0 L276.0 299.0 L261.5 294.0 L260.9 292.0 L255.5 284.5 L239.0 270.5 L237.7 267.5 L237.2 260.5 L237.0 249.5 L238.1 246.5 L241.7 240.5 L243.5 239.5 L247.5 239.7 L250.0 239.0 L255.0 236.4 L258.5 233.2 L261.5 232.3 L290.5 229.1 L326.5 231.9 L340.0 238.0 L355.2 246.0 L355.8 246.5 L356.7 251.0 L359.0 253.1 L360.7 252.0 L363.0 246.8 L363.8 246.0 L370.0 243.0 L381.5 240.0 L390.0 232.6 L398.5 221.7 L404.1 212.0 L404.7 209.0 L396.6 192.5 L388.0 187.6 L383.0 183.9 L377.5 181.7 L371.4 174.0 L366.0 159.5 L364.9 141.5 L365.7 135.5 L370.3 116.5 L377.5 108.4 L382.7 100.5 L388.2 94.0 L392.5 90.3 L407.8 79.5 L410.3 75.5 L418.5 73.3 L423.5 73.5 L425.0 73.0 L426.0 71.0 L426.9 66.0M359.4 315.0 L374.0 314.0 L384.0 312.3 L386.3 311.0 L390.7 305.0 L392.1 301.0 L391.5 299.0 L386.0 290.5 L382.5 288.2 L367.0 282.4 L360.5 277.3 L354.5 281.5 L327.8 292.0 L325.4 294.0 L322.7 298.0 L321.8 300.5 L322.1 301.5 L324.5 306.0 L327.0 307.9 L334.5 310.4 L350.5 314.4 L359.4 315.0M450.3 428.0 L450.0 426.5 L449.9 428.0"/>
<path stroke="#50e15a" d="M462.8 428.0 L461.6 422.0 L460.2 420.0 L444.5 418.2 L439.0 416.6 L429.0 409.6 L418.5 400.2 L414.5 393.4 L411.3 385.5 L409.8 369.5 L408.6 368.0 L406.6 367.0 L394.0 362.7 L379.0 355.6 L372.5 356.1 L359.0 355.1 L343.0 355.9 L309.5 355.1 L272.5 355.0 L266.5 354.4 L264.2 353.5 L262.2 351.0 L257.3 340.0 L256.5 337.0 L257.3 334.0 L263.0 321.4 L265.0 319.5 L269.0 318.1 L286.0 315.7 L353.5 317.8 L372.5 317.6 L383.5 316.1 L387.0 314.8 L389.5 312.8 L396.6 303.5 L398.4 300.5 L398.1 298.5 L388.0 281.0 L384.4 272.5 L383.3 256.5 L387.6 240.5 L402.7 225.0 L410.0 212.0 L410.5 209.0 L403.4 192.0 L397.5 187.4 L389.0 182.6 L381.2 176.0 L379.7 174.0 L374.1 159.5 L373.2 139.0 L379.9 115.5 L384.5 107.0 L394.7 93.5 L409.1 83.5 L416.5 76.3 L420.0 75.5 L434.5 74.5 L436.8 73.0 L438.5 69.8 L439.5 73.0 L441.5 73.8 L443.0 73.5 L444.0 71.6 L445.1 66.0M292.5 289.1 L288.0 289.1 L267.4 284.0 L261.0 279.0 L254.0 272.0 L250.9 257.5 L251.1 246.0 L251.7 244.5 L253.6 242.5 L262.0 236.4 L266.5 234.9 L290.0 233.4 L319.0 235.9 L321.9 236.5 L324.5 237.9 L330.1 242.0 L332.3 244.5 L335.9 256.5 L337.1 263.5 L335.8 267.5 L331.0 274.6 L327.9 277.0 L320.5 280.1 L292.5 289.1"/>
<path stroke="#6ee13c" d="M474.6 428.0 L472.8 421.0 L471.0 419.0 L468.5 418.3 L452.0 417.1 L447.2 416.0 L440.5 412.6 L427.5 402.5 L424.4 399.0 L421.0 393.9 L417.4 386.0 L415.7 369.0 L414.3 367.5 L411.0 365.7 L395.0 360.5 L389.6 358.0 L385.0 356.9 L379.5 353.9 L372.5 354.1 L344.0 352.8 L280.5 352.0 L275.0 351.5 L272.1 350.5 L270.2 348.5 L265.9 340.5 L264.9 337.0 L265.9 333.5 L271.0 324.4 L273.5 322.6 L278.0 321.6 L311.0 320.0 L344.0 320.6 L371.0 321.9 L380.0 320.3 L386.0 318.6 L391.0 315.6 L404.3 301.0 L404.9 299.5 L404.5 298.0 L393.6 279.0 L391.3 273.5 L390.6 255.5 L393.8 240.5 L404.0 230.1 L407.6 225.5 L414.2 213.0 L415.1 209.0 L411.6 198.5 L408.3 191.5 L402.0 185.6 L390.0 177.5 L387.4 175.0 L386.4 173.0 L382.4 159.0 L380.1 141.0 L384.1 117.5 L385.3 114.5 L397.5 96.2 L402.4 92.0 L412.5 85.3 L421.0 77.7 L427.0 76.3 L452.5 75.4 L454.4 73.5 L456.1 66.0M460.3 66.0 L460.5 70.8 L461.0 70.7 L461.5 69.4 L462.1 66.0M292.5 282.1 L288.0 282.0 L273.4 277.5 L270.0 275.2 L265.6 270.5 L263.9 266.5 L262.0 254.5 L263.6 247.5 L266.0 244.5 L270.0 242.5 L278.0 239.8 L290.0 239.1 L301.5 239.3 L305.5 240.0 L316.4 243.5 L319.3 245.0 L320.9 246.5 L322.4 251.0 L322.7 257.5 L319.0 268.0 L316.0 273.2 L311.6 276.0 L292.5 282.1M480.0 428.0 L479.0 422.9 L478.5 421.5 L477.5 420.9 L476.9 422.0 L476.9 428.0"/>
<path stroke="#96e128" d="M504.0 412.5 L491.0 412.6 L487.0 414.6 L481.0 415.9 L471.0 416.1 L460.0 415.2 L449.5 412.5 L441.5 408.2 L432.4 401.0 L429.8 398.0 L422.4 385.0 L422.0 370.5 L421.0 368.0 L417.9 366.0 L410.0 362.6 L385.5 354.6 L381.5 351.3 L377.5 348.9 L368.5 348.2 L312.0 349.0 L283.5 348.4 L280.5 347.6 L278.6 346.0 L275.4 341.0 L274.1 337.5 L275.1 333.5 L279.5 327.0 L282.5 325.5 L288.0 324.7 L311.0 323.1 L340.5 324.2 L368.5 326.6 L381.5 326.2 L384.0 324.8 L397.5 314.4 L402.0 309.2 L410.8 301.0 L411.4 299.5 L411.0 298.0 L397.4 273.5 L397.1 256.0 L400.4 240.5 L409.3 230.5 L412.5 225.7 L418.7 213.0 L419.5 209.0 L416.5 199.0 L413.7 192.0 L404.0 182.3 L395.0 175.5 L392.9 171.5 L389.2 159.5 L386.2 140.5 L389.9 117.0 L398.6 101.0 L400.8 98.0 L406.8 92.5 L416.7 86.0 L425.5 78.7 L428.5 77.7 L434.0 77.2 L460.0 76.8 L464.5 76.1 L470.5 76.3 L471.8 75.5 L472.5 74.0 L474.1 66.0M293.0 267.0 L291.0 267.2 L287.0 265.5 L283.0 262.4 L281.0 259.2 L279.2 254.5 L279.0 250.0 L280.0 248.5 L283.9 246.0 L289.5 244.6 L293.0 245.4 L301.9 250.0 L305.4 254.0 L304.4 257.5 L302.4 260.5 L299.5 263.0 L293.0 267.0"/>
<path stroke="#bedc1e" d="M504.0 399.9 L490.5 400.1 L489.0 401.3 L485.5 406.9 L478.0 410.8 L469.0 411.9 L466.0 411.8 L459.5 410.8 L449.5 407.9 L443.0 404.2 L438.2 400.0 L433.0 393.1 L429.2 387.0 L428.1 384.0 L428.0 370.5 L427.1 368.0 L424.2 366.0 L417.5 362.8 L396.8 355.5 L394.3 354.0 L393.0 351.5 L389.9 337.5 L395.8 321.0 L413.0 304.9 L417.0 300.0 L415.9 296.5 L403.4 273.5 L403.1 270.5 L403.5 257.0 L406.9 240.5 L412.0 234.3 L418.3 224.5 L422.0 217.0 L424.2 210.0 L421.7 200.5 L419.0 192.5 L401.2 174.5 L396.1 161.0 L392.2 140.0 L394.9 118.0 L395.7 115.0 L402.5 102.1 L405.0 98.8 L411.9 92.5 L429.0 80.7 L432.5 79.0 L445.5 78.2 L478.5 78.5 L482.0 78.0 L483.0 78.4 L487.0 82.9 L488.5 83.9 L496.0 82.3 L504.0 81.3M487.3 214.5 L488.0 209.9 L487.5 206.9 L487.0 206.5 L485.7 210.5 L486.5 214.2 L487.0 215.0 L487.3 214.5M319.0 345.5 L309.0 345.8 L291.5 343.9 L289.4 343.0 L287.4 341.0 L285.8 338.0 L285.8 336.0 L287.6 332.5 L290.8 330.0 L310.5 326.7 L334.5 328.5 L337.6 330.0 L341.5 334.0 L341.5 339.0 L336.1 344.0 L333.0 344.7 L319.0 345.5"/>
<path stroke="#e1d21e" d="M504.0 385.2 L492.0 385.2 L490.0 385.7 L488.5 387.9 L483.8 400.0 L480.0 404.0 L478.0 405.2 L470.0 407.2 L466.0 407.3 L460.5 406.6 L451.0 404.0 L445.8 401.0 L443.5 399.0 L434.7 386.0 L434.0 383.0 L433.9 370.0 L433.0 368.0 L424.7 363.0 L407.3 356.0 L403.8 354.0 L398.7 342.0 L397.3 337.0 L401.9 323.0 L403.3 320.0 L419.0 304.5 L422.4 300.0 L421.8 297.5 L409.3 273.0 L409.9 257.0 L413.7 240.0 L423.7 225.5 L427.5 218.0 L432.4 210.0 L431.9 208.0 L424.1 192.5 L407.8 176.0 L406.1 173.5 L403.3 166.5 L401.2 159.5 L398.1 140.0 L399.6 118.5 L400.2 115.5 L408.8 100.5 L413.0 95.8 L422.0 89.0 L435.5 81.9 L446.5 80.1 L467.0 80.4 L477.5 82.2 L490.5 90.6 L504.0 89.2M487.8 228.5 L488.8 224.5 L489.2 209.5 L488.0 194.5 L487.5 192.6 L487.0 192.4 L486.0 193.8 L484.1 199.5 L481.5 211.0 L483.2 224.5 L486.0 228.0 L487.0 228.7 L487.8 228.5M313.0 340.0 L307.2 339.5 L304.8 338.0 L304.4 337.0 L306.0 334.5 L308.5 332.8 L311.0 332.0 L313.5 332.5 L316.4 334.5 L317.6 337.0 L315.4 339.0 L313.0 340.0"/>
<path stroke="#f0be28" d="M504.0 372.2 L492.5 371.7 L490.0 372.4 L487.5 376.9 L482.3 392.5 L479.0 398.2 L477.0 400.1 L471.0 402.4 L467.5 402.8 L461.5 402.4 L453.5 400.2 L450.6 398.5 L446.0 393.5 L440.5 385.5 L439.7 382.5 L438.9 370.0 L438.2 368.0 L435.0 365.3 L427.5 361.2 L415.1 356.0 L411.8 354.0 L407.0 345.8 L403.9 337.0 L409.4 320.0 L425.0 304.1 L427.9 300.0 L427.5 298.0 L418.2 280.5 L414.7 272.5 L416.4 257.5 L419.8 241.0 L423.0 235.7 L435.5 218.9 L443.3 211.5 L444.2 209.5 L437.5 200.8 L432.4 193.0 L424.0 187.1 L416.5 180.5 L412.2 176.0 L410.5 173.0 L405.8 160.0 L404.1 141.0 L405.6 118.5 L406.4 115.0 L413.3 100.5 L421.5 92.5 L429.5 88.1 L436.0 85.8 L445.5 83.6 L462.0 83.5 L473.5 85.6 L480.5 88.1 L484.5 90.2 L491.0 96.5 L504.0 96.8M488.8 235.5 L489.9 229.0 L490.0 209.0 L489.2 190.5 L488.5 186.6 L487.5 185.2 L485.5 186.8 L481.3 193.0 L477.3 210.5 L478.3 225.0 L483.5 231.8 L487.5 235.6 L488.8 235.5"/>
<path stroke="#f5a52d" d="M504.0 228.0 L494.0 227.9 L493.0 227.3 L492.5 226.0 L491.5 216.0 L490.2 187.0 L489.5 181.0 L488.5 178.5 L487.5 178.5 L486.5 179.3 L479.0 188.8 L473.4 193.0 L466.5 200.3 L462.0 201.6 L453.0 199.8 L442.1 192.5 L432.5 187.9 L426.0 183.9 L416.0 175.0 L410.2 160.0 L409.0 140.0 L410.3 117.0 L412.7 110.0 L415.0 105.3 L418.9 100.0 L425.0 93.5 L430.0 90.5 L436.5 88.3 L447.5 86.4 L460.0 86.4 L472.5 88.1 L479.5 90.3 L483.0 92.4 L491.0 102.8 L493.0 103.2 L504.0 103.2M504.0 355.2 L492.5 355.2 L490.5 355.9 L488.0 361.3 L480.8 385.0 L477.5 391.3 L475.5 393.3 L469.0 397.2 L462.0 397.4 L457.0 395.7 L454.0 393.9 L451.0 391.2 L446.8 386.0 L445.4 382.5 L443.1 369.5 L441.9 367.0 L439.5 364.8 L434.5 361.6 L419.6 354.0 L414.7 346.5 L410.8 338.5 L410.6 335.0 L415.1 320.5 L431.1 303.5 L433.4 300.0 L433.1 298.5 L429.5 292.5 L419.8 273.0 L420.2 269.0 L426.4 241.0 L428.0 238.0 L433.2 231.5 L440.0 225.0 L448.5 218.7 L457.5 215.4 L461.5 216.0 L467.0 217.7 L475.0 228.9 L485.1 240.0 L485.9 242.5 L486.9 255.5 L489.2 272.5 L488.0 298.5 L488.4 302.0 L490.5 307.6 L492.0 309.0 L504.0 309.2"/>
<path stroke="#f58c32" d="M504.0 172.0 L493.0 171.6 L490.0 162.7 L483.8 176.0 L478.0 183.9 L474.5 186.3 L464.0 189.4 L453.5 190.0 L449.5 189.5 L439.0 186.4 L431.0 182.7 L424.0 177.6 L420.4 173.5 L414.3 159.0 L412.9 139.0 L413.4 118.0 L414.5 114.2 L420.0 105.0 L429.0 94.5 L431.0 92.9 L435.5 90.9 L446.0 89.1 L455.5 88.8 L461.0 89.0 L474.0 90.8 L479.4 93.0 L482.5 95.6 L485.6 99.5 L489.2 107.0 L491.0 109.2 L504.0 109.6M504.0 343.0 L492.0 343.0 L490.5 343.5 L489.0 344.8 L483.9 355.5 L480.7 369.0 L476.0 383.7 L474.5 385.6 L470.5 388.5 L466.5 391.0 L464.0 391.6 L459.5 390.3 L453.0 385.2 L451.2 382.0 L447.4 369.5 L446.0 367.0 L440.0 361.4 L427.3 354.0 L420.0 343.9 L417.3 338.5 L416.9 336.5 L420.8 321.0 L422.6 318.5 L436.0 304.5 L438.7 300.5 L438.5 299.0 L430.2 285.0 L425.3 274.5 L424.8 272.0 L430.0 255.0 L433.2 240.5 L435.5 237.5 L443.2 230.0 L452.5 226.2 L462.5 227.2 L471.0 232.3 L478.5 240.0 L479.6 243.0 L485.7 272.0 L483.5 300.0 L489.5 323.5 L490.5 326.2 L492.0 327.6 L504.0 327.7"/>
<path stroke="#f57337" d="M457.5 185.0 L452.0 185.0 L445.0 183.6 L434.5 180.3 L430.0 177.7 L427.3 175.5 L425.5 173.0 L420.0 160.6 L417.9 157.0 L417.4 155.0 L416.2 135.0 L416.5 120.5 L417.7 116.0 L420.5 110.7 L424.3 105.5 L433.5 95.3 L437.0 93.2 L445.0 91.7 L460.5 91.3 L472.5 93.0 L476.0 94.3 L479.9 97.0 L482.7 100.0 L488.5 112.4 L491.4 117.5 L489.8 142.0 L487.7 156.0 L487.0 158.4 L483.0 166.0 L479.9 175.0 L477.0 179.2 L474.5 180.9 L466.0 183.7 L457.5 185.0M464.0 377.0 L462.0 376.8 L459.0 374.9 L442.5 359.4 L431.5 352.0 L423.3 339.0 L422.4 336.5 L427.0 320.5 L441.8 304.5 L444.2 300.5 L443.7 298.5 L437.7 290.5 L430.3 276.0 L429.3 272.5 L430.3 268.5 L432.0 263.7 L436.5 255.0 L441.0 240.0 L446.0 235.0 L454.0 231.6 L458.5 231.9 L461.0 232.7 L468.6 238.0 L471.2 240.5 L475.8 255.5 L480.0 264.8 L481.8 273.0 L478.2 300.0 L483.9 320.0 L485.8 337.0 L478.2 355.0 L476.2 365.5 L475.0 368.7 L470.0 374.2 L467.0 376.1 L464.0 377.0"/>
<path stroke="#f05a37" d="M458.0 180.0 L453.0 180.2 L444.5 178.8 L436.5 176.4 L432.5 174.6 L430.2 171.5 L421.2 154.5 L420.4 152.0 L419.4 139.5 L419.5 125.0 L419.8 121.5 L421.4 115.5 L428.3 106.0 L436.1 98.5 L439.5 96.3 L446.6 94.5 L461.5 94.2 L472.0 96.1 L475.0 97.3 L478.6 100.0 L481.0 103.3 L484.0 108.8 L487.6 118.0 L488.2 136.5 L487.3 145.0 L485.0 154.0 L480.2 161.0 L476.5 172.7 L474.8 175.0 L470.6 177.0 L466.0 178.6 L458.0 180.0M461.5 364.1 L459.0 364.4 L451.0 362.2 L438.0 352.1 L432.5 346.5 L428.7 339.5 L427.8 336.5 L429.5 328.4 L432.6 321.0 L444.5 308.5 L449.3 300.5 L447.7 297.0 L439.5 286.0 L433.8 274.5 L433.5 271.5 L438.0 261.3 L443.1 255.0 L448.1 241.0 L451.0 238.6 L455.0 237.0 L459.0 238.3 L462.7 241.5 L469.2 255.5 L474.0 262.5 L477.7 273.0 L474.6 290.0 L471.5 300.0 L476.0 310.4 L478.8 319.5 L479.8 337.0 L474.4 351.5 L469.0 361.6 L467.0 363.1 L461.5 364.1"/>
<path stroke="#eb4137" d="M454.5 175.0 L448.8 174.0 L441.0 171.3 L434.5 167.4 L430.0 160.5 L426.8 157.0 L425.2 154.0 L423.6 150.0 L422.1 140.0 L422.8 124.5 L424.0 118.0 L425.8 114.5 L432.0 107.1 L440.5 100.8 L447.2 98.5 L453.0 97.6 L455.5 97.8 L459.0 99.0 L465.5 98.4 L474.0 100.9 L481.5 110.1 L485.0 117.0 L485.5 119.5 L485.6 133.0 L485.0 139.7 L482.4 150.0 L480.0 156.0 L476.7 160.5 L473.8 166.5 L472.0 168.5 L467.0 171.3 L454.5 175.0M453.5 294.6 L452.0 294.6 L450.5 293.8 L443.2 284.5 L437.5 274.5 L437.0 272.5 L441.0 264.3 L449.0 255.5 L451.5 247.6 L454.0 245.7 L456.0 246.9 L465.1 259.5 L470.5 265.7 L473.5 272.5 L470.3 284.0 L467.3 290.0 L464.5 291.8 L461.0 292.7 L457.5 292.8 L453.5 294.6M460.0 358.1 L452.5 357.8 L448.2 355.5 L444.2 351.5 L440.1 348.5 L435.9 344.0 L432.7 339.0 L431.9 336.5 L435.2 327.0 L438.7 321.5 L450.0 309.0 L457.5 306.4 L460.5 306.8 L468.0 309.7 L470.0 311.3 L473.6 319.5 L474.4 330.0 L473.9 337.0 L470.1 350.0 L466.0 354.8 L460.0 358.1"/>
<path stroke="#e12d32" d="M454.5 164.5 L450.5 164.3 L443.0 160.7 L438.0 159.1 L430.6 154.0 L428.0 149.8 L425.5 140.5 L426.6 123.5 L429.5 116.4 L433.4 111.5 L435.0 110.2 L452.5 103.1 L466.0 106.2 L476.0 109.5 L480.0 113.5 L482.2 118.0 L482.7 120.5 L479.8 144.0 L478.4 151.0 L476.6 155.5 L475.0 157.0 L470.0 159.9 L454.5 164.5M454.5 286.1 L452.5 286.3 L448.0 283.0 L444.0 277.5 L442.4 273.0 L444.0 268.5 L447.5 264.0 L450.0 261.7 L453.5 259.9 L457.5 261.4 L461.0 264.3 L465.1 268.5 L467.0 273.0 L465.4 277.5 L463.9 279.5 L459.0 284.0 L454.5 286.1M458.0 350.0 L455.0 350.4 L452.5 350.0 L444.0 345.5 L439.2 340.5 L437.5 336.5 L439.5 330.5 L443.1 324.5 L445.6 321.5 L450.5 317.1 L457.0 315.3 L460.2 316.5 L465.4 321.0 L468.3 330.0 L467.3 341.0 L465.5 345.9 L462.1 348.5 L458.0 350.0"/>
<path stroke="#aa282d" d="M457.5 158.1 L454.0 158.3 L452.0 157.3 L447.9 151.5 L439.8 144.0 L437.8 141.0 L437.3 139.0 L437.9 131.0 L436.8 123.5 L437.3 122.0 L440.8 117.0 L449.0 111.1 L453.5 108.8 L458.5 109.5 L465.9 112.5 L470.0 115.5 L472.4 118.0 L473.5 122.0 L472.4 129.5 L468.9 140.0 L469.2 142.0 L471.8 147.5 L472.1 150.5 L470.3 153.0 L467.8 155.0 L457.5 158.1M453.0 337.6 L451.5 337.0 L451.0 335.5 L451.5 332.0 L453.0 330.0 L454.3 332.0 L454.6 335.5 L454.0 337.0 L453.0 337.6"/>
</g></g>
<g>
<circle cx="280.7" cy="83.9" r="1.85" fill="#5800cc"/>
<circle cx="312.6" cy="83.9" r="1.85" fill="#3410e4"/>
<circle cx="320.9" cy="83.9" r="1.85" fill="#3410e4"/>
<circle cx="322.6" cy="83.9" r="1.85" fill="#3410e4"/>
<circle cx="333.2" cy="83.9" r="1.85" fill="#3410e4"/>
<circle cx="340.1" cy="83.9" r="1.85" fill="#3410e4"/>
<circle cx="385.4" cy="83.9" r="1.85" fill="#1a78ee"/>
<circle cx="388.8" cy="83.9" r="1.85" fill="#12a2cc"/>
<circle cx="397.4" cy="83.9" r="1.85" fill="#10b2a0"/>
<circle cx="399.1" cy="83.9" r="1.85" fill="#10b2a0"/>
<circle cx="402.5" cy="83.9" r="1.85" fill="#14c25c"/>
<circle cx="414.5" cy="83.9" r="1.85" fill="#22cc18"/>
<circle cx="419.7" cy="83.9" r="1.85" fill="#5cd010"/>
<circle cx="430.0" cy="83.9" r="1.85" fill="#c4cc0c"/>
<circle cx="438.5" cy="83.9" r="1.85" fill="#dcc004"/>
<circle cx="443.0" cy="83.9" r="1.85" fill="#dcc004"/>
<circle cx="448.8" cy="83.9" r="1.85" fill="#e8ac00"/>
<circle cx="454.0" cy="83.9" r="1.85" fill="#e8ac00"/>
<circle cx="456.2" cy="83.9" r="1.85" fill="#e8ac00"/>
<circle cx="458.5" cy="83.9" r="1.85" fill="#e8ac00"/>
<circle cx="460.7" cy="83.9" r="1.85" fill="#e8ac00"/>
<circle cx="462.9" cy="83.9" r="1.85" fill="#dcc004"/>
<circle cx="465.2" cy="83.9" r="1.85" fill="#dcc004"/>
<circle cx="467.4" cy="83.9" r="1.85" fill="#dcc004"/>
<circle cx="469.6" cy="83.9" r="1.85" fill="#dcc004"/>
<circle cx="471.8" cy="83.9" r="1.85" fill="#dcc004"/>
<circle cx="474.1" cy="83.9" r="1.85" fill="#dcc004"/>
<circle cx="476.3" cy="83.9" r="1.85" fill="#dcc004"/>
<circle cx="478.5" cy="83.9" r="1.85" fill="#dcc004"/>
<circle cx="480.8" cy="83.9" r="1.85" fill="#c4cc0c"/>
<circle cx="483.0" cy="83.9" r="1.85" fill="#c4cc0c"/>
<circle cx="484.8" cy="83.9" r="1.85" fill="#c4cc0c"/>
<circle cx="263.6" cy="90.3" r="1.85" fill="#5800cc"/>
<circle cx="280.7" cy="90.3" r="1.85" fill="#3410e4"/>
<circle cx="285.9" cy="90.3" r="1.85" fill="#3410e4"/>
<circle cx="316.0" cy="90.3" r="1.85" fill="#1444f0"/>
<circle cx="336.6" cy="90.3" r="1.85" fill="#1444f0"/>
<circle cx="423.1" cy="90.3" r="1.85" fill="#dcc004"/>
<circle cx="424.8" cy="90.3" r="1.85" fill="#dcc004"/>
<circle cx="438.5" cy="90.3" r="1.85" fill="#f09000"/>
<circle cx="444.7" cy="90.3" r="1.85" fill="#f07000"/>
<circle cx="453.3" cy="90.3" r="1.85" fill="#f07000"/>
<circle cx="474.6" cy="90.3" r="1.85" fill="#f09000"/>
<circle cx="479.7" cy="90.3" r="1.85" fill="#e8ac00"/>
<circle cx="390.5" cy="96.7" r="1.85" fill="#14c25c"/>
<circle cx="408.7" cy="96.7" r="1.85" fill="#c4cc0c"/>
<circle cx="114.6" cy="115.4" r="1.85" fill="#5800cc"/>
<circle cx="117.0" cy="115.4" r="1.85" fill="#5800cc"/>
<circle cx="152.9" cy="115.4" r="1.85" fill="#d6b8e2"/>
<circle cx="178.1" cy="115.4" r="1.85" fill="#d6b8e2"/>
<circle cx="199.9" cy="115.4" r="1.85" fill="#d6b8e2"/>
<circle cx="236.9" cy="115.4" r="1.85" fill="#d6b8e2"/>
<circle cx="239.6" cy="115.4" r="1.85" fill="#5800cc"/>
<circle cx="276.3" cy="115.4" r="1.85" fill="#1444f0"/>
<circle cx="278.3" cy="115.4" r="1.85" fill="#1444f0"/>
<circle cx="280.7" cy="115.4" r="1.85" fill="#1444f0"/>
<circle cx="289.3" cy="115.4" r="1.85" fill="#1444f0"/>
<circle cx="305.8" cy="115.4" r="1.85" fill="#1a78ee"/>
<circle cx="309.2" cy="115.4" r="1.85" fill="#1a78ee"/>
<circle cx="311.6" cy="115.4" r="1.85" fill="#1a78ee"/>
<circle cx="320.2" cy="115.4" r="1.85" fill="#1a78ee"/>
<circle cx="333.2" cy="115.4" r="1.85" fill="#1a78ee"/>
<circle cx="342.5" cy="115.4" r="1.85" fill="#12a2cc"/>
<circle cx="345.9" cy="115.4" r="1.85" fill="#12a2cc"/>
<circle cx="349.3" cy="115.4" r="1.85" fill="#12a2cc"/>
<circle cx="353.8" cy="115.4" r="1.85" fill="#12a2cc"/>
<circle cx="375.0" cy="115.4" r="1.85" fill="#14c25c"/>
<circle cx="378.5" cy="115.4" r="1.85" fill="#14c25c"/>
<circle cx="385.4" cy="115.4" r="1.85" fill="#22cc18"/>
<circle cx="387.1" cy="115.4" r="1.85" fill="#5cd010"/>
<circle cx="390.5" cy="115.4" r="1.85" fill="#5cd010"/>
<circle cx="399.1" cy="115.4" r="1.85" fill="#c4cc0c"/>
<circle cx="402.5" cy="115.4" r="1.85" fill="#dcc004"/>
<circle cx="407.7" cy="115.4" r="1.85" fill="#e8ac00"/>
<circle cx="411.1" cy="115.4" r="1.85" fill="#f09000"/>
<circle cx="414.5" cy="115.4" r="1.85" fill="#f07000"/>
<circle cx="419.7" cy="115.4" r="1.85" fill="#f04c00"/>
<circle cx="426.5" cy="115.4" r="1.85" fill="#f01010"/>
<circle cx="428.8" cy="115.4" r="1.85" fill="#f01010"/>
<circle cx="431.1" cy="115.4" r="1.85" fill="#e41414"/>
<circle cx="433.4" cy="115.4" r="1.85" fill="#e41414"/>
<circle cx="438.5" cy="115.4" r="1.85" fill="#e41414"/>
<circle cx="447.1" cy="115.4" r="1.85" fill="#c01616"/>
<circle cx="449.4" cy="115.4" r="1.85" fill="#c01616"/>
<circle cx="451.7" cy="115.4" r="1.85" fill="#c01616"/>
<circle cx="454.0" cy="115.4" r="1.85" fill="#c01616"/>
<circle cx="456.2" cy="115.4" r="1.85" fill="#c01616"/>
<circle cx="458.5" cy="115.4" r="1.85" fill="#c01616"/>
<circle cx="460.8" cy="115.4" r="1.85" fill="#c01616"/>
<circle cx="463.1" cy="115.4" r="1.85" fill="#c01616"/>
<circle cx="465.4" cy="115.4" r="1.85" fill="#c01616"/>
<circle cx="467.7" cy="115.4" r="1.85" fill="#c01616"/>
<circle cx="470.0" cy="115.4" r="1.85" fill="#e41414"/>
<circle cx="472.3" cy="115.4" r="1.85" fill="#e41414"/>
<circle cx="474.5" cy="115.4" r="1.85" fill="#e41414"/>
<circle cx="476.8" cy="115.4" r="1.85" fill="#e41414"/>
<circle cx="479.1" cy="115.4" r="1.85" fill="#e41414"/>
<circle cx="481.4" cy="115.4" r="1.85" fill="#f01010"/>
<circle cx="483.1" cy="115.4" r="1.85" fill="#f01010"/>
<circle cx="70.0" cy="121.8" r="1.85" fill="#d6b8e2"/>
<circle cx="107.6" cy="121.8" r="1.85" fill="#5800cc"/>
<circle cx="132.8" cy="121.8" r="1.85" fill="#5800cc"/>
<circle cx="294.5" cy="121.8" r="1.85" fill="#1444f0"/>
<circle cx="364.8" cy="121.8" r="1.85" fill="#10b2a0"/>
<circle cx="371.0" cy="121.8" r="1.85" fill="#14c25c"/>
<circle cx="390.5" cy="121.8" r="1.85" fill="#98d00e"/>
<circle cx="395.6" cy="121.8" r="1.85" fill="#c4cc0c"/>
<circle cx="426.5" cy="121.8" r="1.85" fill="#f01010"/>
<circle cx="436.8" cy="121.8" r="1.85" fill="#e41414"/>
<circle cx="439.0" cy="121.8" r="1.85" fill="#c01616"/>
<circle cx="441.2" cy="121.8" r="1.85" fill="#c01616"/>
<circle cx="443.4" cy="121.8" r="1.85" fill="#c01616"/>
<circle cx="445.7" cy="121.8" r="1.85" fill="#c01616"/>
<circle cx="447.9" cy="121.8" r="1.85" fill="#c01616"/>
<circle cx="450.1" cy="121.8" r="1.85" fill="#c01616"/>
<circle cx="452.3" cy="121.8" r="1.85" fill="#c01616"/>
<circle cx="457.4" cy="121.8" r="1.85" fill="#c01616"/>
<circle cx="459.9" cy="121.8" r="1.85" fill="#c01616"/>
<circle cx="462.3" cy="121.8" r="1.85" fill="#c01616"/>
<circle cx="464.8" cy="121.8" r="1.85" fill="#c01616"/>
<circle cx="467.2" cy="121.8" r="1.85" fill="#c01616"/>
<circle cx="469.7" cy="121.8" r="1.85" fill="#c01616"/>
<circle cx="472.1" cy="121.8" r="1.85" fill="#c01616"/>
<circle cx="474.6" cy="121.8" r="1.85" fill="#e41414"/>
<circle cx="479.7" cy="121.8" r="1.85" fill="#e41414"/>
<circle cx="483.1" cy="121.8" r="1.85" fill="#f01010"/>
<circle cx="98.5" cy="128.2" r="1.85" fill="#5800cc"/>
<circle cx="388.8" cy="128.2" r="1.85" fill="#98d00e"/>
<circle cx="414.5" cy="128.2" r="1.85" fill="#f07000"/>
<circle cx="426.5" cy="128.2" r="1.85" fill="#e41414"/>
<circle cx="454.0" cy="128.2" r="1.85" fill="#c01616"/>
<circle cx="457.4" cy="128.2" r="1.85" fill="#c01616"/>
<circle cx="116.3" cy="146.9" r="1.85" fill="#5800cc"/>
<circle cx="124.4" cy="146.9" r="1.85" fill="#3410e4"/>
<circle cx="152.9" cy="146.9" r="1.85" fill="#5800cc"/>
<circle cx="168.4" cy="146.9" r="1.85" fill="#d6b8e2"/>
<circle cx="178.1" cy="146.9" r="1.85" fill="#d6b8e2"/>
<circle cx="267.0" cy="146.9" r="1.85" fill="#3410e4"/>
<circle cx="270.4" cy="146.9" r="1.85" fill="#3410e4"/>
<circle cx="283.1" cy="146.9" r="1.85" fill="#3410e4"/>
<circle cx="304.7" cy="146.9" r="1.85" fill="#1a78ee"/>
<circle cx="318.5" cy="146.9" r="1.85" fill="#1a78ee"/>
<circle cx="321.9" cy="146.9" r="1.85" fill="#1a78ee"/>
<circle cx="337.3" cy="146.9" r="1.85" fill="#12a2cc"/>
<circle cx="340.1" cy="146.9" r="1.85" fill="#12a2cc"/>
<circle cx="346.9" cy="146.9" r="1.85" fill="#12a2cc"/>
<circle cx="352.8" cy="146.9" r="1.85" fill="#10b2a0"/>
<circle cx="356.2" cy="146.9" r="1.85" fill="#10b2a0"/>
<circle cx="359.6" cy="146.9" r="1.85" fill="#10b2a0"/>
<circle cx="369.9" cy="146.9" r="1.85" fill="#14c25c"/>
<circle cx="373.4" cy="146.9" r="1.85" fill="#14c25c"/>
<circle cx="376.8" cy="146.9" r="1.85" fill="#22cc18"/>
<circle cx="387.1" cy="146.9" r="1.85" fill="#5cd010"/>
<circle cx="390.5" cy="146.9" r="1.85" fill="#98d00e"/>
<circle cx="395.6" cy="146.9" r="1.85" fill="#c4cc0c"/>
<circle cx="400.8" cy="146.9" r="1.85" fill="#dcc004"/>
<circle cx="409.4" cy="146.9" r="1.85" fill="#e8ac00"/>
<circle cx="412.8" cy="146.9" r="1.85" fill="#f09000"/>
<circle cx="416.2" cy="146.9" r="1.85" fill="#f07000"/>
<circle cx="419.7" cy="146.9" r="1.85" fill="#f04c00"/>
<circle cx="424.8" cy="146.9" r="1.85" fill="#f01010"/>
<circle cx="428.2" cy="146.9" r="1.85" fill="#e41414"/>
<circle cx="433.4" cy="146.9" r="1.85" fill="#e41414"/>
<circle cx="435.7" cy="146.9" r="1.85" fill="#e41414"/>
<circle cx="438.0" cy="146.9" r="1.85" fill="#e41414"/>
<circle cx="440.3" cy="146.9" r="1.85" fill="#e41414"/>
<circle cx="442.5" cy="146.9" r="1.85" fill="#c01616"/>
<circle cx="444.8" cy="146.9" r="1.85" fill="#c01616"/>
<circle cx="447.1" cy="146.9" r="1.85" fill="#c01616"/>
<circle cx="449.4" cy="146.9" r="1.85" fill="#c01616"/>
<circle cx="451.7" cy="146.9" r="1.85" fill="#c01616"/>
<circle cx="454.0" cy="146.9" r="1.85" fill="#c01616"/>
<circle cx="456.3" cy="146.9" r="1.85" fill="#c01616"/>
<circle cx="458.5" cy="146.9" r="1.85" fill="#c01616"/>
<circle cx="460.8" cy="146.9" r="1.85" fill="#c01616"/>
<circle cx="463.1" cy="146.9" r="1.85" fill="#c01616"/>
<circle cx="465.4" cy="146.9" r="1.85" fill="#c01616"/>
<circle cx="467.7" cy="146.9" r="1.85" fill="#c01616"/>
<circle cx="470.0" cy="146.9" r="1.85" fill="#c01616"/>
<circle cx="472.3" cy="146.9" r="1.85" fill="#e41414"/>
<circle cx="474.5" cy="146.9" r="1.85" fill="#e41414"/>
<circle cx="476.8" cy="146.9" r="1.85" fill="#e41414"/>
<circle cx="479.1" cy="146.9" r="1.85" fill="#e41414"/>
<circle cx="481.4" cy="146.9" r="1.85" fill="#f01010"/>
<circle cx="484.8" cy="146.9" r="1.85" fill="#f02800"/>
<circle cx="488.0" cy="146.9" r="1.85" fill="#f04c00"/>
<circle cx="114.6" cy="153.3" r="1.85" fill="#5800cc"/>
<circle cx="116.3" cy="153.3" r="1.85" fill="#5800cc"/>
<circle cx="132.8" cy="153.3" r="1.85" fill="#5800cc"/>
<circle cx="285.9" cy="153.3" r="1.85" fill="#1444f0"/>
<circle cx="289.3" cy="153.3" r="1.85" fill="#1444f0"/>
<circle cx="346.9" cy="153.3" r="1.85" fill="#12a2cc"/>
<circle cx="382.6" cy="153.3" r="1.85" fill="#5cd010"/>
<circle cx="392.2" cy="153.3" r="1.85" fill="#98d00e"/>
<circle cx="395.6" cy="153.3" r="1.85" fill="#c4cc0c"/>
<circle cx="423.1" cy="153.3" r="1.85" fill="#f02800"/>
<circle cx="445.4" cy="153.3" r="1.85" fill="#e41414"/>
<circle cx="452.3" cy="153.3" r="1.85" fill="#c01616"/>
<circle cx="459.1" cy="153.3" r="1.85" fill="#c01616"/>
<circle cx="461.3" cy="153.3" r="1.85" fill="#c01616"/>
<circle cx="463.5" cy="153.3" r="1.85" fill="#c01616"/>
<circle cx="465.7" cy="153.3" r="1.85" fill="#c01616"/>
<circle cx="468.0" cy="153.3" r="1.85" fill="#c01616"/>
<circle cx="470.2" cy="153.3" r="1.85" fill="#c01616"/>
<circle cx="472.4" cy="153.3" r="1.85" fill="#e41414"/>
<circle cx="474.6" cy="153.3" r="1.85" fill="#e41414"/>
<circle cx="481.4" cy="153.3" r="1.85" fill="#f01010"/>
<circle cx="483.6" cy="153.3" r="1.85" fill="#f02800"/>
<circle cx="485.8" cy="153.3" r="1.85" fill="#f04c00"/>
<circle cx="488.0" cy="153.3" r="1.85" fill="#f04c00"/>
<circle cx="98.5" cy="159.7" r="1.85" fill="#d6b8e2"/>
<circle cx="414.5" cy="159.7" r="1.85" fill="#f07000"/>
<circle cx="423.1" cy="159.7" r="1.85" fill="#f04c00"/>
<circle cx="428.2" cy="159.7" r="1.85" fill="#f02800"/>
<circle cx="479.7" cy="159.7" r="1.85" fill="#f02800"/>
<circle cx="152.9" cy="178.4" r="1.85" fill="#d6b8e2"/>
<circle cx="188.5" cy="178.4" r="1.85" fill="#d6b8e2"/>
<circle cx="199.9" cy="178.4" r="1.85" fill="#d6b8e2"/>
<circle cx="241.2" cy="178.4" r="1.85" fill="#5800cc"/>
<circle cx="263.6" cy="178.4" r="1.85" fill="#3410e4"/>
<circle cx="267.0" cy="178.4" r="1.85" fill="#3410e4"/>
<circle cx="276.3" cy="178.4" r="1.85" fill="#1444f0"/>
<circle cx="280.7" cy="178.4" r="1.85" fill="#1444f0"/>
<circle cx="292.0" cy="178.4" r="1.85" fill="#1a78ee"/>
<circle cx="305.8" cy="178.4" r="1.85" fill="#1a78ee"/>
<circle cx="309.2" cy="178.4" r="1.85" fill="#1a78ee"/>
<circle cx="312.6" cy="178.4" r="1.85" fill="#1a78ee"/>
<circle cx="333.2" cy="178.4" r="1.85" fill="#12a2cc"/>
<circle cx="337.3" cy="178.4" r="1.85" fill="#12a2cc"/>
<circle cx="340.8" cy="178.4" r="1.85" fill="#12a2cc"/>
<circle cx="343.5" cy="178.4" r="1.85" fill="#12a2cc"/>
<circle cx="345.9" cy="178.4" r="1.85" fill="#12a2cc"/>
<circle cx="348.3" cy="178.4" r="1.85" fill="#12a2cc"/>
<circle cx="357.2" cy="178.4" r="1.85" fill="#12a2cc"/>
<circle cx="375.0" cy="178.4" r="1.85" fill="#14c25c"/>
<circle cx="378.5" cy="178.4" r="1.85" fill="#14c25c"/>
<circle cx="391.5" cy="178.4" r="1.85" fill="#5cd010"/>
<circle cx="395.6" cy="178.4" r="1.85" fill="#5cd010"/>
<circle cx="411.1" cy="178.4" r="1.85" fill="#dcc004"/>
<circle cx="414.5" cy="178.4" r="1.85" fill="#e8ac00"/>
<circle cx="419.0" cy="178.4" r="1.85" fill="#e8ac00"/>
<circle cx="430.0" cy="178.4" r="1.85" fill="#f07000"/>
<circle cx="440.2" cy="178.4" r="1.85" fill="#f04c00"/>
<circle cx="450.5" cy="178.4" r="1.85" fill="#f02800"/>
<circle cx="452.8" cy="178.4" r="1.85" fill="#f02800"/>
<circle cx="455.2" cy="178.4" r="1.85" fill="#f02800"/>
<circle cx="457.5" cy="178.4" r="1.85" fill="#f02800"/>
<circle cx="459.9" cy="178.4" r="1.85" fill="#f02800"/>
<circle cx="462.2" cy="178.4" r="1.85" fill="#f02800"/>
<circle cx="464.6" cy="178.4" r="1.85" fill="#f02800"/>
<circle cx="466.9" cy="178.4" r="1.85" fill="#f02800"/>
<circle cx="469.2" cy="178.4" r="1.85" fill="#f04c00"/>
<circle cx="471.6" cy="178.4" r="1.85" fill="#f04c00"/>
<circle cx="473.9" cy="178.4" r="1.85" fill="#f04c00"/>
<circle cx="476.3" cy="178.4" r="1.85" fill="#f04c00"/>
<circle cx="478.6" cy="178.4" r="1.85" fill="#f07000"/>
<circle cx="481.0" cy="178.4" r="1.85" fill="#f07000"/>
<circle cx="483.3" cy="178.4" r="1.85" fill="#f09000"/>
<circle cx="485.7" cy="178.4" r="1.85" fill="#f09000"/>
<circle cx="488.0" cy="178.4" r="1.85" fill="#f09000"/>
<circle cx="309.9" cy="184.8" r="1.85" fill="#1a78ee"/>
<circle cx="345.9" cy="184.8" r="1.85" fill="#12a2cc"/>
<circle cx="396.3" cy="184.8" r="1.85" fill="#22cc18"/>
<circle cx="416.2" cy="184.8" r="1.85" fill="#dcc004"/>
<circle cx="424.8" cy="184.8" r="1.85" fill="#e8ac00"/>
<circle cx="428.2" cy="184.8" r="1.85" fill="#f09000"/>
<circle cx="445.4" cy="184.8" r="1.85" fill="#f07000"/>
<circle cx="457.4" cy="184.8" r="1.85" fill="#f04c00"/>
<circle cx="459.8" cy="184.8" r="1.85" fill="#f04c00"/>
<circle cx="462.1" cy="184.8" r="1.85" fill="#f04c00"/>
<circle cx="464.5" cy="184.8" r="1.85" fill="#f07000"/>
<circle cx="466.8" cy="184.8" r="1.85" fill="#f07000"/>
<circle cx="469.2" cy="184.8" r="1.85" fill="#f07000"/>
<circle cx="471.5" cy="184.8" r="1.85" fill="#f07000"/>
<circle cx="473.9" cy="184.8" r="1.85" fill="#f07000"/>
<circle cx="476.2" cy="184.8" r="1.85" fill="#f07000"/>
<circle cx="478.6" cy="184.8" r="1.85" fill="#f09000"/>
<circle cx="480.9" cy="184.8" r="1.85" fill="#f09000"/>
<circle cx="483.3" cy="184.8" r="1.85" fill="#e8ac00"/>
<circle cx="485.6" cy="184.8" r="1.85" fill="#e8ac00"/>
<circle cx="488.0" cy="184.8" r="1.85" fill="#e8ac00"/>
<circle cx="98.5" cy="191.2" r="1.85" fill="#dcc4e6"/>
<circle cx="132.8" cy="191.2" r="1.85" fill="#dcc4e6"/>
<circle cx="285.9" cy="191.2" r="1.85" fill="#1444f0"/>
<circle cx="390.5" cy="191.2" r="1.85" fill="#10b2a0"/>
<circle cx="392.2" cy="191.2" r="1.85" fill="#10b2a0"/>
<circle cx="426.5" cy="191.2" r="1.85" fill="#dcc004"/>
<circle cx="430.0" cy="191.2" r="1.85" fill="#dcc004"/>
<circle cx="445.4" cy="191.2" r="1.85" fill="#f09000"/>
<circle cx="481.4" cy="191.2" r="1.85" fill="#e8ac00"/>
<circle cx="255.0" cy="209.9" r="1.85" fill="#3410e4"/>
<circle cx="257.7" cy="209.9" r="1.85" fill="#3410e4"/>
<circle cx="261.9" cy="209.9" r="1.85" fill="#3410e4"/>
<circle cx="270.4" cy="209.9" r="1.85" fill="#1444f0"/>
<circle cx="272.8" cy="209.9" r="1.85" fill="#1444f0"/>
<circle cx="289.3" cy="209.9" r="1.85" fill="#1a78ee"/>
<circle cx="298.9" cy="209.9" r="1.85" fill="#1a78ee"/>
<circle cx="309.9" cy="209.9" r="1.85" fill="#1a78ee"/>
<circle cx="328.8" cy="209.9" r="1.85" fill="#1a78ee"/>
<circle cx="333.2" cy="209.9" r="1.85" fill="#1444f0"/>
<circle cx="348.3" cy="209.9" r="1.85" fill="#1a78ee"/>
<circle cx="369.9" cy="209.9" r="1.85" fill="#1a78ee"/>
<circle cx="371.6" cy="209.9" r="1.85" fill="#1a78ee"/>
<circle cx="378.5" cy="209.9" r="1.85" fill="#1a78ee"/>
<circle cx="390.5" cy="209.9" r="1.85" fill="#12a2cc"/>
<circle cx="400.8" cy="209.9" r="1.85" fill="#10b2a0"/>
<circle cx="411.1" cy="209.9" r="1.85" fill="#22cc18"/>
<circle cx="414.5" cy="209.9" r="1.85" fill="#22cc18"/>
<circle cx="419.0" cy="209.9" r="1.85" fill="#5cd010"/>
<circle cx="426.5" cy="209.9" r="1.85" fill="#c4cc0c"/>
<circle cx="430.0" cy="209.9" r="1.85" fill="#c4cc0c"/>
<circle cx="435.1" cy="209.9" r="1.85" fill="#dcc004"/>
<circle cx="448.8" cy="209.9" r="1.85" fill="#e8ac00"/>
<circle cx="457.4" cy="209.9" r="1.85" fill="#e8ac00"/>
<circle cx="464.3" cy="209.9" r="1.85" fill="#e8ac00"/>
<circle cx="466.7" cy="209.9" r="1.85" fill="#e8ac00"/>
<circle cx="469.2" cy="209.9" r="1.85" fill="#e8ac00"/>
<circle cx="471.6" cy="209.9" r="1.85" fill="#e8ac00"/>
<circle cx="474.1" cy="209.9" r="1.85" fill="#e8ac00"/>
<circle cx="476.5" cy="209.9" r="1.85" fill="#e8ac00"/>
<circle cx="479.0" cy="209.9" r="1.85" fill="#dcc004"/>
<circle cx="481.4" cy="209.9" r="1.85" fill="#dcc004"/>
<circle cx="484.8" cy="209.9" r="1.85" fill="#c4cc0c"/>
<circle cx="309.2" cy="216.3" r="1.85" fill="#1a78ee"/>
<circle cx="424.1" cy="216.3" r="1.85" fill="#c4cc0c"/>
<circle cx="433.4" cy="216.3" r="1.85" fill="#dcc004"/>
<circle cx="454.0" cy="216.3" r="1.85" fill="#e8ac00"/>
<circle cx="459.1" cy="216.3" r="1.85" fill="#f09000"/>
<circle cx="467.7" cy="216.3" r="1.85" fill="#e8ac00"/>
<circle cx="470.0" cy="216.3" r="1.85" fill="#e8ac00"/>
<circle cx="472.2" cy="216.3" r="1.85" fill="#e8ac00"/>
<circle cx="474.5" cy="216.3" r="1.85" fill="#e8ac00"/>
<circle cx="476.7" cy="216.3" r="1.85" fill="#e8ac00"/>
<circle cx="479.0" cy="216.3" r="1.85" fill="#dcc004"/>
<circle cx="481.2" cy="216.3" r="1.85" fill="#dcc004"/>
<circle cx="483.5" cy="216.3" r="1.85" fill="#c4cc0c"/>
<circle cx="485.7" cy="216.3" r="1.85" fill="#c4cc0c"/>
<circle cx="488.0" cy="216.3" r="1.85" fill="#c4cc0c"/>
<circle cx="89.1" cy="241.4" r="1.85" fill="#d6b8e2"/>
<circle cx="116.3" cy="241.4" r="1.85" fill="#5800cc"/>
<circle cx="130.4" cy="241.4" r="1.85" fill="#5800cc"/>
<circle cx="152.9" cy="241.4" r="1.85" fill="#3410e4"/>
<circle cx="167.4" cy="241.4" r="1.85" fill="#3410e4"/>
<circle cx="188.5" cy="241.4" r="1.85" fill="#1444f0"/>
<circle cx="217.0" cy="241.4" r="1.85" fill="#1a78ee"/>
<circle cx="224.4" cy="241.4" r="1.85" fill="#12a2cc"/>
<circle cx="239.6" cy="241.4" r="1.85" fill="#10b2a0"/>
<circle cx="245.6" cy="241.4" r="1.85" fill="#14c25c"/>
<circle cx="248.0" cy="241.4" r="1.85" fill="#14c25c"/>
<circle cx="256.3" cy="241.4" r="1.85" fill="#22cc18"/>
<circle cx="258.4" cy="241.4" r="1.85" fill="#22cc18"/>
<circle cx="261.9" cy="241.4" r="1.85" fill="#22cc18"/>
<circle cx="267.0" cy="241.4" r="1.85" fill="#22cc18"/>
<circle cx="270.4" cy="241.4" r="1.85" fill="#22cc18"/>
<circle cx="279.0" cy="241.4" r="1.85" fill="#5cd010"/>
<circle cx="282.4" cy="241.4" r="1.85" fill="#5cd010"/>
<circle cx="287.6" cy="241.4" r="1.85" fill="#5cd010"/>
<circle cx="291.0" cy="241.4" r="1.85" fill="#5cd010"/>
<circle cx="301.3" cy="241.4" r="1.85" fill="#5cd010"/>
<circle cx="303.9" cy="241.4" r="1.85" fill="#5cd010"/>
<circle cx="306.5" cy="241.4" r="1.85" fill="#5cd010"/>
<circle cx="309.0" cy="241.4" r="1.85" fill="#22cc18"/>
<circle cx="311.6" cy="241.4" r="1.85" fill="#22cc18"/>
<circle cx="315.0" cy="241.4" r="1.85" fill="#22cc18"/>
<circle cx="320.2" cy="241.4" r="1.85" fill="#22cc18"/>
<circle cx="332.2" cy="241.4" r="1.85" fill="#14c25c"/>
<circle cx="334.6" cy="241.4" r="1.85" fill="#14c25c"/>
<circle cx="337.1" cy="241.4" r="1.85" fill="#14c25c"/>
<circle cx="339.5" cy="241.4" r="1.85" fill="#14c25c"/>
<circle cx="342.0" cy="241.4" r="1.85" fill="#14c25c"/>
<circle cx="344.4" cy="241.4" r="1.85" fill="#14c25c"/>
<circle cx="346.9" cy="241.4" r="1.85" fill="#10b2a0"/>
<circle cx="349.3" cy="241.4" r="1.85" fill="#10b2a0"/>
<circle cx="354.5" cy="241.4" r="1.85" fill="#10b2a0"/>
<circle cx="362.0" cy="241.4" r="1.85" fill="#10b2a0"/>
<circle cx="387.1" cy="241.4" r="1.85" fill="#14c25c"/>
<circle cx="393.9" cy="241.4" r="1.85" fill="#22cc18"/>
<circle cx="398.4" cy="241.4" r="1.85" fill="#5cd010"/>
<circle cx="412.8" cy="241.4" r="1.85" fill="#c4cc0c"/>
<circle cx="415.2" cy="241.4" r="1.85" fill="#dcc004"/>
<circle cx="417.5" cy="241.4" r="1.85" fill="#dcc004"/>
<circle cx="419.9" cy="241.4" r="1.85" fill="#dcc004"/>
<circle cx="422.2" cy="241.4" r="1.85" fill="#e8ac00"/>
<circle cx="424.6" cy="241.4" r="1.85" fill="#e8ac00"/>
<circle cx="427.0" cy="241.4" r="1.85" fill="#f09000"/>
<circle cx="429.3" cy="241.4" r="1.85" fill="#f09000"/>
<circle cx="431.7" cy="241.4" r="1.85" fill="#f09000"/>
<circle cx="442.0" cy="241.4" r="1.85" fill="#f04c00"/>
<circle cx="444.4" cy="241.4" r="1.85" fill="#f04c00"/>
<circle cx="446.7" cy="241.4" r="1.85" fill="#f04c00"/>
<circle cx="449.1" cy="241.4" r="1.85" fill="#f02800"/>
<circle cx="451.4" cy="241.4" r="1.85" fill="#f02800"/>
<circle cx="453.8" cy="241.4" r="1.85" fill="#f02800"/>
<circle cx="456.1" cy="241.4" r="1.85" fill="#f02800"/>
<circle cx="458.4" cy="241.4" r="1.85" fill="#f02800"/>
<circle cx="460.8" cy="241.4" r="1.85" fill="#f02800"/>
<circle cx="471.1" cy="241.4" r="1.85" fill="#f04c00"/>
<circle cx="474.6" cy="241.4" r="1.85" fill="#f07000"/>
<circle cx="483.1" cy="241.4" r="1.85" fill="#f09000"/>
<circle cx="488.0" cy="241.4" r="1.85" fill="#e8ac00"/>
<circle cx="98.5" cy="247.8" r="1.85" fill="#d6b8e2"/>
<circle cx="175.8" cy="247.8" r="1.85" fill="#1444f0"/>
<circle cx="207.7" cy="247.8" r="1.85" fill="#1a78ee"/>
<circle cx="219.4" cy="247.8" r="1.85" fill="#12a2cc"/>
<circle cx="224.4" cy="247.8" r="1.85" fill="#12a2cc"/>
<circle cx="246.3" cy="247.8" r="1.85" fill="#14c25c"/>
<circle cx="258.4" cy="247.8" r="1.85" fill="#22cc18"/>
<circle cx="265.3" cy="247.8" r="1.85" fill="#5cd010"/>
<circle cx="296.2" cy="247.8" r="1.85" fill="#98d00e"/>
<circle cx="308.2" cy="247.8" r="1.85" fill="#5cd010"/>
<circle cx="381.9" cy="247.8" r="1.85" fill="#14c25c"/>
<circle cx="392.2" cy="247.8" r="1.85" fill="#22cc18"/>
<circle cx="411.1" cy="247.8" r="1.85" fill="#c4cc0c"/>
<circle cx="420.7" cy="247.8" r="1.85" fill="#e8ac00"/>
<circle cx="433.4" cy="247.8" r="1.85" fill="#f07000"/>
<circle cx="436.8" cy="247.8" r="1.85" fill="#f07000"/>
<circle cx="450.5" cy="247.8" r="1.85" fill="#f02800"/>
<circle cx="453.0" cy="247.8" r="1.85" fill="#f01010"/>
<circle cx="455.4" cy="247.8" r="1.85" fill="#f01010"/>
<circle cx="457.9" cy="247.8" r="1.85" fill="#f02800"/>
<circle cx="460.3" cy="247.8" r="1.85" fill="#f02800"/>
<circle cx="462.8" cy="247.8" r="1.85" fill="#f02800"/>
<circle cx="465.2" cy="247.8" r="1.85" fill="#f02800"/>
<circle cx="467.7" cy="247.8" r="1.85" fill="#f04c00"/>
<circle cx="474.6" cy="247.8" r="1.85" fill="#f07000"/>
<circle cx="476.9" cy="247.8" r="1.85" fill="#f07000"/>
<circle cx="479.1" cy="247.8" r="1.85" fill="#f07000"/>
<circle cx="481.4" cy="247.8" r="1.85" fill="#f09000"/>
<circle cx="170.7" cy="254.2" r="1.85" fill="#1444f0"/>
<circle cx="285.9" cy="254.2" r="1.85" fill="#98d00e"/>
<circle cx="289.3" cy="254.2" r="1.85" fill="#98d00e"/>
<circle cx="296.2" cy="254.2" r="1.85" fill="#98d00e"/>
<circle cx="421.4" cy="254.2" r="1.85" fill="#e8ac00"/>
<circle cx="426.5" cy="254.2" r="1.85" fill="#f09000"/>
<circle cx="452.3" cy="254.2" r="1.85" fill="#f01010"/>
<circle cx="459.1" cy="254.2" r="1.85" fill="#f01010"/>
<circle cx="474.6" cy="254.2" r="1.85" fill="#f04c00"/>
<circle cx="481.4" cy="254.2" r="1.85" fill="#f07000"/>
<circle cx="116.3" cy="272.9" r="1.85" fill="#5800cc"/>
<circle cx="167.4" cy="272.9" r="1.85" fill="#1444f0"/>
<circle cx="170.7" cy="272.9" r="1.85" fill="#1444f0"/>
<circle cx="177.4" cy="272.9" r="1.85" fill="#1444f0"/>
<circle cx="188.5" cy="272.9" r="1.85" fill="#1a78ee"/>
<circle cx="192.5" cy="272.9" r="1.85" fill="#1a78ee"/>
<circle cx="214.4" cy="272.9" r="1.85" fill="#12a2cc"/>
<circle cx="219.4" cy="272.9" r="1.85" fill="#12a2cc"/>
<circle cx="226.1" cy="272.9" r="1.85" fill="#10b2a0"/>
<circle cx="239.6" cy="272.9" r="1.85" fill="#10b2a0"/>
<circle cx="244.6" cy="272.9" r="1.85" fill="#14c25c"/>
<circle cx="256.3" cy="272.9" r="1.85" fill="#22cc18"/>
<circle cx="257.7" cy="272.9" r="1.85" fill="#22cc18"/>
<circle cx="260.1" cy="272.9" r="1.85" fill="#22cc18"/>
<circle cx="265.3" cy="272.9" r="1.85" fill="#22cc18"/>
<circle cx="267.6" cy="272.9" r="1.85" fill="#5cd010"/>
<circle cx="269.9" cy="272.9" r="1.85" fill="#5cd010"/>
<circle cx="272.2" cy="272.9" r="1.85" fill="#5cd010"/>
<circle cx="280.7" cy="272.9" r="1.85" fill="#5cd010"/>
<circle cx="289.3" cy="272.9" r="1.85" fill="#5cd010"/>
<circle cx="292.7" cy="272.9" r="1.85" fill="#5cd010"/>
<circle cx="301.3" cy="272.9" r="1.85" fill="#5cd010"/>
<circle cx="303.0" cy="272.9" r="1.85" fill="#5cd010"/>
<circle cx="309.9" cy="272.9" r="1.85" fill="#5cd010"/>
<circle cx="315.0" cy="272.9" r="1.85" fill="#5cd010"/>
<circle cx="332.2" cy="272.9" r="1.85" fill="#22cc18"/>
<circle cx="334.6" cy="272.9" r="1.85" fill="#14c25c"/>
<circle cx="337.0" cy="272.9" r="1.85" fill="#14c25c"/>
<circle cx="339.4" cy="272.9" r="1.85" fill="#14c25c"/>
<circle cx="341.8" cy="272.9" r="1.85" fill="#14c25c"/>
<circle cx="344.2" cy="272.9" r="1.85" fill="#14c25c"/>
<circle cx="347.6" cy="272.9" r="1.85" fill="#14c25c"/>
<circle cx="354.5" cy="272.9" r="1.85" fill="#14c25c"/>
<circle cx="359.6" cy="272.9" r="1.85" fill="#14c25c"/>
<circle cx="364.8" cy="272.9" r="1.85" fill="#14c25c"/>
<circle cx="387.1" cy="272.9" r="1.85" fill="#22cc18"/>
<circle cx="390.5" cy="272.9" r="1.85" fill="#22cc18"/>
<circle cx="395.6" cy="272.9" r="1.85" fill="#5cd010"/>
<circle cx="402.5" cy="272.9" r="1.85" fill="#98d00e"/>
<circle cx="409.4" cy="272.9" r="1.85" fill="#c4cc0c"/>
<circle cx="411.8" cy="272.9" r="1.85" fill="#dcc004"/>
<circle cx="414.3" cy="272.9" r="1.85" fill="#dcc004"/>
<circle cx="416.7" cy="272.9" r="1.85" fill="#e8ac00"/>
<circle cx="419.2" cy="272.9" r="1.85" fill="#e8ac00"/>
<circle cx="421.6" cy="272.9" r="1.85" fill="#f09000"/>
<circle cx="424.1" cy="272.9" r="1.85" fill="#f09000"/>
<circle cx="426.5" cy="272.9" r="1.85" fill="#f07000"/>
<circle cx="433.4" cy="272.9" r="1.85" fill="#f04c00"/>
<circle cx="445.4" cy="272.9" r="1.85" fill="#e41414"/>
<circle cx="447.6" cy="272.9" r="1.85" fill="#e41414"/>
<circle cx="449.9" cy="272.9" r="1.85" fill="#e41414"/>
<circle cx="452.1" cy="272.9" r="1.85" fill="#e41414"/>
<circle cx="454.4" cy="272.9" r="1.85" fill="#e41414"/>
<circle cx="456.6" cy="272.9" r="1.85" fill="#e41414"/>
<circle cx="458.9" cy="272.9" r="1.85" fill="#e41414"/>
<circle cx="461.1" cy="272.9" r="1.85" fill="#e41414"/>
<circle cx="463.4" cy="272.9" r="1.85" fill="#e41414"/>
<circle cx="465.6" cy="272.9" r="1.85" fill="#e41414"/>
<circle cx="467.9" cy="272.9" r="1.85" fill="#f01010"/>
<circle cx="470.1" cy="272.9" r="1.85" fill="#f01010"/>
<circle cx="472.4" cy="272.9" r="1.85" fill="#f01010"/>
<circle cx="474.6" cy="272.9" r="1.85" fill="#f02800"/>
<circle cx="476.9" cy="272.9" r="1.85" fill="#f02800"/>
<circle cx="479.1" cy="272.9" r="1.85" fill="#f04c00"/>
<circle cx="481.4" cy="272.9" r="1.85" fill="#f04c00"/>
<circle cx="484.8" cy="272.9" r="1.85" fill="#f07000"/>
<circle cx="98.5" cy="279.3" r="1.85" fill="#d6b8e2"/>
<circle cx="114.6" cy="279.3" r="1.85" fill="#5800cc"/>
<circle cx="130.4" cy="279.3" r="1.85" fill="#5800cc"/>
<circle cx="154.9" cy="279.3" r="1.85" fill="#3410e4"/>
<circle cx="165.7" cy="279.3" r="1.85" fill="#1444f0"/>
<circle cx="188.5" cy="279.3" r="1.85" fill="#1a78ee"/>
<circle cx="190.9" cy="279.3" r="1.85" fill="#1a78ee"/>
<circle cx="232.8" cy="279.3" r="1.85" fill="#10b2a0"/>
<circle cx="256.7" cy="279.3" r="1.85" fill="#14c25c"/>
<circle cx="265.3" cy="279.3" r="1.85" fill="#22cc18"/>
<circle cx="285.9" cy="279.3" r="1.85" fill="#5cd010"/>
<circle cx="291.0" cy="279.3" r="1.85" fill="#5cd010"/>
<circle cx="308.2" cy="279.3" r="1.85" fill="#22cc18"/>
<circle cx="309.9" cy="279.3" r="1.85" fill="#22cc18"/>
<circle cx="327.0" cy="279.3" r="1.85" fill="#14c25c"/>
<circle cx="335.6" cy="279.3" r="1.85" fill="#14c25c"/>
<circle cx="406.0" cy="279.3" r="1.85" fill="#98d00e"/>
<circle cx="411.1" cy="279.3" r="1.85" fill="#c4cc0c"/>
<circle cx="419.7" cy="279.3" r="1.85" fill="#e8ac00"/>
<circle cx="423.1" cy="279.3" r="1.85" fill="#f09000"/>
<circle cx="440.2" cy="279.3" r="1.85" fill="#f02800"/>
<circle cx="454.0" cy="279.3" r="1.85" fill="#e41414"/>
<circle cx="460.8" cy="279.3" r="1.85" fill="#e41414"/>
<circle cx="467.7" cy="279.3" r="1.85" fill="#f01010"/>
<circle cx="470.0" cy="279.3" r="1.85" fill="#f01010"/>
<circle cx="472.2" cy="279.3" r="1.85" fill="#f02800"/>
<circle cx="474.5" cy="279.3" r="1.85" fill="#f02800"/>
<circle cx="476.7" cy="279.3" r="1.85" fill="#f02800"/>
<circle cx="479.0" cy="279.3" r="1.85" fill="#f04c00"/>
<circle cx="481.2" cy="279.3" r="1.85" fill="#f04c00"/>
<circle cx="483.5" cy="279.3" r="1.85" fill="#f07000"/>
<circle cx="485.7" cy="279.3" r="1.85" fill="#f09000"/>
<circle cx="488.0" cy="279.3" r="1.85" fill="#f09000"/>
<circle cx="285.9" cy="285.7" r="1.85" fill="#22cc18"/>
<circle cx="287.6" cy="285.7" r="1.85" fill="#22cc18"/>
<circle cx="299.6" cy="285.7" r="1.85" fill="#22cc18"/>
<circle cx="392.2" cy="285.7" r="1.85" fill="#22cc18"/>
<circle cx="418.0" cy="285.7" r="1.85" fill="#dcc004"/>
<circle cx="424.8" cy="285.7" r="1.85" fill="#e8ac00"/>
<circle cx="471.1" cy="285.7" r="1.85" fill="#f02800"/>
<circle cx="62.6" cy="304.4" r="1.85" fill="#dcc4e6"/>
<circle cx="114.6" cy="304.4" r="1.85" fill="#d6b8e2"/>
<circle cx="173.1" cy="304.4" r="1.85" fill="#5800cc"/>
<circle cx="199.9" cy="304.4" r="1.85" fill="#1444f0"/>
<circle cx="214.4" cy="304.4" r="1.85" fill="#1a78ee"/>
<circle cx="217.7" cy="304.4" r="1.85" fill="#1a78ee"/>
<circle cx="224.4" cy="304.4" r="1.85" fill="#12a2cc"/>
<circle cx="232.8" cy="304.4" r="1.85" fill="#10b2a0"/>
<circle cx="239.6" cy="304.4" r="1.85" fill="#10b2a0"/>
<circle cx="244.6" cy="304.4" r="1.85" fill="#10b2a0"/>
<circle cx="251.3" cy="304.4" r="1.85" fill="#10b2a0"/>
<circle cx="255.0" cy="304.4" r="1.85" fill="#10b2a0"/>
<circle cx="265.3" cy="304.4" r="1.85" fill="#14c25c"/>
<circle cx="267.6" cy="304.4" r="1.85" fill="#14c25c"/>
<circle cx="269.9" cy="304.4" r="1.85" fill="#14c25c"/>
<circle cx="272.2" cy="304.4" r="1.85" fill="#14c25c"/>
<circle cx="297.9" cy="304.4" r="1.85" fill="#14c25c"/>
<circle cx="300.2" cy="304.4" r="1.85" fill="#14c25c"/>
<circle cx="302.5" cy="304.4" r="1.85" fill="#14c25c"/>
<circle cx="304.8" cy="304.4" r="1.85" fill="#14c25c"/>
<circle cx="307.0" cy="304.4" r="1.85" fill="#14c25c"/>
<circle cx="309.3" cy="304.4" r="1.85" fill="#14c25c"/>
<circle cx="311.6" cy="304.4" r="1.85" fill="#14c25c"/>
<circle cx="339.0" cy="304.4" r="1.85" fill="#10b2a0"/>
<circle cx="344.2" cy="304.4" r="1.85" fill="#12a2cc"/>
<circle cx="369.9" cy="304.4" r="1.85" fill="#12a2cc"/>
<circle cx="381.2" cy="304.4" r="1.85" fill="#10b2a0"/>
<circle cx="408.7" cy="304.4" r="1.85" fill="#98d00e"/>
<circle cx="416.2" cy="304.4" r="1.85" fill="#c4cc0c"/>
<circle cx="423.1" cy="304.4" r="1.85" fill="#dcc004"/>
<circle cx="431.7" cy="304.4" r="1.85" fill="#f09000"/>
<circle cx="447.1" cy="304.4" r="1.85" fill="#f04c00"/>
<circle cx="449.4" cy="304.4" r="1.85" fill="#f02800"/>
<circle cx="451.7" cy="304.4" r="1.85" fill="#f02800"/>
<circle cx="454.0" cy="304.4" r="1.85" fill="#f02800"/>
<circle cx="456.2" cy="304.4" r="1.85" fill="#f02800"/>
<circle cx="458.5" cy="304.4" r="1.85" fill="#f02800"/>
<circle cx="460.8" cy="304.4" r="1.85" fill="#f02800"/>
<circle cx="479.7" cy="304.4" r="1.85" fill="#f07000"/>
<circle cx="98.5" cy="310.8" r="1.85" fill="#d6b8e2"/>
<circle cx="114.6" cy="310.8" r="1.85" fill="#d6b8e2"/>
<circle cx="232.8" cy="310.8" r="1.85" fill="#10b2a0"/>
<circle cx="291.0" cy="310.8" r="1.85" fill="#14c25c"/>
<circle cx="325.3" cy="310.8" r="1.85" fill="#14c25c"/>
<circle cx="357.9" cy="310.8" r="1.85" fill="#12a2cc"/>
<circle cx="391.5" cy="310.8" r="1.85" fill="#22cc18"/>
<circle cx="395.6" cy="310.8" r="1.85" fill="#22cc18"/>
<circle cx="424.8" cy="310.8" r="1.85" fill="#e8ac00"/>
<circle cx="435.1" cy="310.8" r="1.85" fill="#f07000"/>
<circle cx="450.5" cy="310.8" r="1.85" fill="#f01010"/>
<circle cx="452.8" cy="310.8" r="1.85" fill="#f01010"/>
<circle cx="455.2" cy="310.8" r="1.85" fill="#f01010"/>
<circle cx="457.5" cy="310.8" r="1.85" fill="#f01010"/>
<circle cx="459.9" cy="310.8" r="1.85" fill="#f01010"/>
<circle cx="462.2" cy="310.8" r="1.85" fill="#f01010"/>
<circle cx="464.6" cy="310.8" r="1.85" fill="#f01010"/>
<circle cx="466.9" cy="310.8" r="1.85" fill="#f01010"/>
<circle cx="469.2" cy="310.8" r="1.85" fill="#f01010"/>
<circle cx="471.6" cy="310.8" r="1.85" fill="#f02800"/>
<circle cx="473.9" cy="310.8" r="1.85" fill="#f02800"/>
<circle cx="476.3" cy="310.8" r="1.85" fill="#f02800"/>
<circle cx="478.6" cy="310.8" r="1.85" fill="#f04c00"/>
<circle cx="481.0" cy="310.8" r="1.85" fill="#f04c00"/>
<circle cx="483.3" cy="310.8" r="1.85" fill="#f07000"/>
<circle cx="485.7" cy="310.8" r="1.85" fill="#f07000"/>
<circle cx="488.0" cy="310.8" r="1.85" fill="#f09000"/>
<circle cx="285.9" cy="317.2" r="1.85" fill="#22cc18"/>
<circle cx="411.1" cy="317.2" r="1.85" fill="#dcc004"/>
<circle cx="424.8" cy="317.2" r="1.85" fill="#f07000"/>
<circle cx="448.8" cy="317.2" r="1.85" fill="#f01010"/>
<circle cx="457.4" cy="317.2" r="1.85" fill="#e41414"/>
<circle cx="467.7" cy="317.2" r="1.85" fill="#f01010"/>
<circle cx="474.6" cy="317.2" r="1.85" fill="#f02800"/>
<circle cx="481.4" cy="317.2" r="1.85" fill="#f04c00"/>
<circle cx="33.0" cy="335.9" r="1.85" fill="#5800cc"/>
<circle cx="44.1" cy="335.9" r="1.85" fill="#5800cc"/>
<circle cx="50.8" cy="335.9" r="1.85" fill="#5800cc"/>
<circle cx="98.5" cy="335.9" r="1.85" fill="#5800cc"/>
<circle cx="106.9" cy="335.9" r="1.85" fill="#5800cc"/>
<circle cx="117.0" cy="335.9" r="1.85" fill="#5800cc"/>
<circle cx="118.7" cy="335.9" r="1.85" fill="#5800cc"/>
<circle cx="135.5" cy="335.9" r="1.85" fill="#5800cc"/>
<circle cx="161.6" cy="335.9" r="1.85" fill="#5800cc"/>
<circle cx="214.4" cy="335.9" r="1.85" fill="#1a78ee"/>
<circle cx="218.7" cy="335.9" r="1.85" fill="#1a78ee"/>
<circle cx="227.8" cy="335.9" r="1.85" fill="#1a78ee"/>
<circle cx="231.2" cy="335.9" r="1.85" fill="#12a2cc"/>
<circle cx="239.6" cy="335.9" r="1.85" fill="#10b2a0"/>
<circle cx="241.7" cy="335.9" r="1.85" fill="#10b2a0"/>
<circle cx="243.8" cy="335.9" r="1.85" fill="#10b2a0"/>
<circle cx="245.9" cy="335.9" r="1.85" fill="#10b2a0"/>
<circle cx="248.0" cy="335.9" r="1.85" fill="#10b2a0"/>
<circle cx="251.3" cy="335.9" r="1.85" fill="#14c25c"/>
<circle cx="267.0" cy="335.9" r="1.85" fill="#5cd010"/>
<circle cx="269.5" cy="335.9" r="1.85" fill="#5cd010"/>
<circle cx="271.9" cy="335.9" r="1.85" fill="#5cd010"/>
<circle cx="274.4" cy="335.9" r="1.85" fill="#5cd010"/>
<circle cx="276.8" cy="335.9" r="1.85" fill="#98d00e"/>
<circle cx="279.3" cy="335.9" r="1.85" fill="#98d00e"/>
<circle cx="281.7" cy="335.9" r="1.85" fill="#98d00e"/>
<circle cx="284.2" cy="335.9" r="1.85" fill="#98d00e"/>
<circle cx="294.5" cy="335.9" r="1.85" fill="#c4cc0c"/>
<circle cx="296.8" cy="335.9" r="1.85" fill="#c4cc0c"/>
<circle cx="299.1" cy="335.9" r="1.85" fill="#c4cc0c"/>
<circle cx="301.3" cy="335.9" r="1.85" fill="#c4cc0c"/>
<circle cx="303.6" cy="335.9" r="1.85" fill="#c4cc0c"/>
<circle cx="305.9" cy="335.9" r="1.85" fill="#dcc004"/>
<circle cx="308.2" cy="335.9" r="1.85" fill="#dcc004"/>
<circle cx="310.4" cy="335.9" r="1.85" fill="#dcc004"/>
<circle cx="312.7" cy="335.9" r="1.85" fill="#dcc004"/>
<circle cx="315.0" cy="335.9" r="1.85" fill="#dcc004"/>
<circle cx="320.2" cy="335.9" r="1.85" fill="#c4cc0c"/>
<circle cx="322.4" cy="335.9" r="1.85" fill="#c4cc0c"/>
<circle cx="324.5" cy="335.9" r="1.85" fill="#c4cc0c"/>
<circle cx="326.6" cy="335.9" r="1.85" fill="#c4cc0c"/>
<circle cx="328.8" cy="335.9" r="1.85" fill="#c4cc0c"/>
<circle cx="332.2" cy="335.9" r="1.85" fill="#c4cc0c"/>
<circle cx="334.4" cy="335.9" r="1.85" fill="#c4cc0c"/>
<circle cx="336.6" cy="335.9" r="1.85" fill="#c4cc0c"/>
<circle cx="338.8" cy="335.9" r="1.85" fill="#c4cc0c"/>
<circle cx="341.0" cy="335.9" r="1.85" fill="#c4cc0c"/>
<circle cx="343.2" cy="335.9" r="1.85" fill="#c4cc0c"/>
<circle cx="345.4" cy="335.9" r="1.85" fill="#c4cc0c"/>
<circle cx="347.6" cy="335.9" r="1.85" fill="#c4cc0c"/>
<circle cx="354.5" cy="335.9" r="1.85" fill="#98d00e"/>
<circle cx="357.9" cy="335.9" r="1.85" fill="#98d00e"/>
<circle cx="368.2" cy="335.9" r="1.85" fill="#98d00e"/>
<circle cx="370.5" cy="335.9" r="1.85" fill="#98d00e"/>
<circle cx="372.7" cy="335.9" r="1.85" fill="#98d00e"/>
<circle cx="375.0" cy="335.9" r="1.85" fill="#98d00e"/>
<circle cx="380.2" cy="335.9" r="1.85" fill="#98d00e"/>
<circle cx="390.5" cy="335.9" r="1.85" fill="#c4cc0c"/>
<circle cx="393.1" cy="335.9" r="1.85" fill="#c4cc0c"/>
<circle cx="395.6" cy="335.9" r="1.85" fill="#c4cc0c"/>
<circle cx="402.5" cy="335.9" r="1.85" fill="#dcc004"/>
<circle cx="412.8" cy="335.9" r="1.85" fill="#f09000"/>
<circle cx="415.3" cy="335.9" r="1.85" fill="#f09000"/>
<circle cx="417.7" cy="335.9" r="1.85" fill="#f07000"/>
<circle cx="420.2" cy="335.9" r="1.85" fill="#f07000"/>
<circle cx="422.6" cy="335.9" r="1.85" fill="#f07000"/>
<circle cx="425.1" cy="335.9" r="1.85" fill="#f04c00"/>
<circle cx="427.5" cy="335.9" r="1.85" fill="#f04c00"/>
<circle cx="430.0" cy="335.9" r="1.85" fill="#f02800"/>
<circle cx="440.2" cy="335.9" r="1.85" fill="#e41414"/>
<circle cx="442.5" cy="335.9" r="1.85" fill="#e41414"/>
<circle cx="444.8" cy="335.9" r="1.85" fill="#e41414"/>
<circle cx="447.1" cy="335.9" r="1.85" fill="#e41414"/>
<circle cx="449.4" cy="335.9" r="1.85" fill="#e41414"/>
<circle cx="451.7" cy="335.9" r="1.85" fill="#c01616"/>
<circle cx="454.0" cy="335.9" r="1.85" fill="#c01616"/>
<circle cx="456.3" cy="335.9" r="1.85" fill="#e41414"/>
<circle cx="458.5" cy="335.9" r="1.85" fill="#e41414"/>
<circle cx="460.8" cy="335.9" r="1.85" fill="#e41414"/>
<circle cx="463.1" cy="335.9" r="1.85" fill="#e41414"/>
<circle cx="465.4" cy="335.9" r="1.85" fill="#e41414"/>
<circle cx="467.7" cy="335.9" r="1.85" fill="#e41414"/>
<circle cx="470.0" cy="335.9" r="1.85" fill="#f01010"/>
<circle cx="472.3" cy="335.9" r="1.85" fill="#f01010"/>
<circle cx="474.6" cy="335.9" r="1.85" fill="#f02800"/>
<circle cx="479.7" cy="335.9" r="1.85" fill="#f02800"/>
<circle cx="481.8" cy="335.9" r="1.85" fill="#f04c00"/>
<circle cx="483.9" cy="335.9" r="1.85" fill="#f04c00"/>
<circle cx="485.9" cy="335.9" r="1.85" fill="#f04c00"/>
<circle cx="488.0" cy="335.9" r="1.85" fill="#f07000"/>
<circle cx="43.1" cy="342.3" r="1.85" fill="#5800cc"/>
<circle cx="89.5" cy="342.3" r="1.85" fill="#5800cc"/>
<circle cx="173.1" cy="342.3" r="1.85" fill="#3410e4"/>
<circle cx="196.6" cy="342.3" r="1.85" fill="#1444f0"/>
<circle cx="214.4" cy="342.3" r="1.85" fill="#1444f0"/>
<circle cx="251.3" cy="342.3" r="1.85" fill="#14c25c"/>
<circle cx="265.3" cy="342.3" r="1.85" fill="#22cc18"/>
<circle cx="275.6" cy="342.3" r="1.85" fill="#5cd010"/>
<circle cx="279.0" cy="342.3" r="1.85" fill="#98d00e"/>
<circle cx="284.2" cy="342.3" r="1.85" fill="#98d00e"/>
<circle cx="299.6" cy="342.3" r="1.85" fill="#c4cc0c"/>
<circle cx="308.2" cy="342.3" r="1.85" fill="#c4cc0c"/>
<circle cx="320.2" cy="342.3" r="1.85" fill="#c4cc0c"/>
<circle cx="327.0" cy="342.3" r="1.85" fill="#c4cc0c"/>
<circle cx="330.5" cy="342.3" r="1.85" fill="#c4cc0c"/>
<circle cx="340.8" cy="342.3" r="1.85" fill="#98d00e"/>
<circle cx="356.2" cy="342.3" r="1.85" fill="#98d00e"/>
<circle cx="364.8" cy="342.3" r="1.85" fill="#98d00e"/>
<circle cx="390.5" cy="342.3" r="1.85" fill="#98d00e"/>
<circle cx="395.0" cy="342.3" r="1.85" fill="#c4cc0c"/>
<circle cx="404.2" cy="342.3" r="1.85" fill="#dcc004"/>
<circle cx="407.7" cy="342.3" r="1.85" fill="#e8ac00"/>
<circle cx="419.7" cy="342.3" r="1.85" fill="#f07000"/>
<circle cx="430.0" cy="342.3" r="1.85" fill="#f02800"/>
<circle cx="432.4" cy="342.3" r="1.85" fill="#f02800"/>
<circle cx="434.8" cy="342.3" r="1.85" fill="#f01010"/>
<circle cx="437.2" cy="342.3" r="1.85" fill="#f01010"/>
<circle cx="439.6" cy="342.3" r="1.85" fill="#f01010"/>
<circle cx="442.0" cy="342.3" r="1.85" fill="#e41414"/>
<circle cx="444.4" cy="342.3" r="1.85" fill="#e41414"/>
<circle cx="446.8" cy="342.3" r="1.85" fill="#e41414"/>
<circle cx="449.2" cy="342.3" r="1.85" fill="#e41414"/>
<circle cx="451.6" cy="342.3" r="1.85" fill="#e41414"/>
<circle cx="454.0" cy="342.3" r="1.85" fill="#e41414"/>
<circle cx="460.8" cy="342.3" r="1.85" fill="#e41414"/>
<circle cx="463.1" cy="342.3" r="1.85" fill="#e41414"/>
<circle cx="465.3" cy="342.3" r="1.85" fill="#e41414"/>
<circle cx="467.6" cy="342.3" r="1.85" fill="#f01010"/>
<circle cx="469.9" cy="342.3" r="1.85" fill="#f01010"/>
<circle cx="472.1" cy="342.3" r="1.85" fill="#f01010"/>
<circle cx="474.4" cy="342.3" r="1.85" fill="#f02800"/>
<circle cx="476.7" cy="342.3" r="1.85" fill="#f02800"/>
<circle cx="478.9" cy="342.3" r="1.85" fill="#f04c00"/>
<circle cx="481.2" cy="342.3" r="1.85" fill="#f04c00"/>
<circle cx="483.5" cy="342.3" r="1.85" fill="#f04c00"/>
<circle cx="485.7" cy="342.3" r="1.85" fill="#f07000"/>
<circle cx="488.0" cy="342.3" r="1.85" fill="#f07000"/>
<circle cx="395.6" cy="348.7" r="1.85" fill="#c4cc0c"/>
<circle cx="411.1" cy="348.7" r="1.85" fill="#e8ac00"/>
<circle cx="416.2" cy="348.7" r="1.85" fill="#f09000"/>
<circle cx="421.4" cy="348.7" r="1.85" fill="#f09000"/>
<circle cx="457.4" cy="348.7" r="1.85" fill="#e41414"/>
<circle cx="471.1" cy="348.7" r="1.85" fill="#f02800"/>
<circle cx="477.9" cy="348.7" r="1.85" fill="#f04c00"/>
<circle cx="483.1" cy="348.7" r="1.85" fill="#f07000"/>
<circle cx="114.6" cy="367.4" r="1.85" fill="#d6b8e2"/>
<circle cx="179.1" cy="367.4" r="1.85" fill="#5800cc"/>
<circle cx="232.8" cy="367.4" r="1.85" fill="#1444f0"/>
<circle cx="239.6" cy="367.4" r="1.85" fill="#1444f0"/>
<circle cx="246.3" cy="367.4" r="1.85" fill="#1444f0"/>
<circle cx="258.4" cy="367.4" r="1.85" fill="#1a78ee"/>
<circle cx="271.5" cy="367.4" r="1.85" fill="#1a78ee"/>
<circle cx="297.9" cy="367.4" r="1.85" fill="#1a78ee"/>
<circle cx="303.0" cy="367.4" r="1.85" fill="#1a78ee"/>
<circle cx="309.9" cy="367.4" r="1.85" fill="#1a78ee"/>
<circle cx="354.5" cy="367.4" r="1.85" fill="#1444f0"/>
<circle cx="380.2" cy="367.4" r="1.85" fill="#1a78ee"/>
<circle cx="415.5" cy="367.4" r="1.85" fill="#5cd010"/>
<circle cx="424.8" cy="367.4" r="1.85" fill="#98d00e"/>
<circle cx="430.0" cy="367.4" r="1.85" fill="#c4cc0c"/>
<circle cx="433.4" cy="367.4" r="1.85" fill="#dcc004"/>
<circle cx="450.5" cy="367.4" r="1.85" fill="#f07000"/>
<circle cx="452.8" cy="367.4" r="1.85" fill="#f04c00"/>
<circle cx="455.1" cy="367.4" r="1.85" fill="#f04c00"/>
<circle cx="457.4" cy="367.4" r="1.85" fill="#f04c00"/>
<circle cx="459.7" cy="367.4" r="1.85" fill="#f04c00"/>
<circle cx="462.0" cy="367.4" r="1.85" fill="#f04c00"/>
<circle cx="464.3" cy="367.4" r="1.85" fill="#f04c00"/>
<circle cx="474.6" cy="367.4" r="1.85" fill="#f04c00"/>
<circle cx="481.4" cy="367.4" r="1.85" fill="#f07000"/>
<circle cx="98.5" cy="373.8" r="1.85" fill="#d6b8e2"/>
<circle cx="103.6" cy="373.8" r="1.85" fill="#d6b8e2"/>
<circle cx="130.4" cy="373.8" r="1.85" fill="#5800cc"/>
<circle cx="161.6" cy="373.8" r="1.85" fill="#5800cc"/>
<circle cx="165.0" cy="373.8" r="1.85" fill="#5800cc"/>
<circle cx="189.9" cy="373.8" r="1.85" fill="#3410e4"/>
<circle cx="236.9" cy="373.8" r="1.85" fill="#1444f0"/>
<circle cx="285.9" cy="373.8" r="1.85" fill="#1444f0"/>
<circle cx="308.2" cy="373.8" r="1.85" fill="#1444f0"/>
<circle cx="391.5" cy="373.8" r="1.85" fill="#12a2cc"/>
<circle cx="411.1" cy="373.8" r="1.85" fill="#22cc18"/>
<circle cx="428.2" cy="373.8" r="1.85" fill="#98d00e"/>
<circle cx="440.2" cy="373.8" r="1.85" fill="#e8ac00"/>
<circle cx="452.3" cy="373.8" r="1.85" fill="#f07000"/>
<circle cx="460.8" cy="373.8" r="1.85" fill="#f04c00"/>
<circle cx="463.1" cy="373.8" r="1.85" fill="#f04c00"/>
<circle cx="465.3" cy="373.8" r="1.85" fill="#f04c00"/>
<circle cx="467.6" cy="373.8" r="1.85" fill="#f04c00"/>
<circle cx="469.9" cy="373.8" r="1.85" fill="#f04c00"/>
<circle cx="472.1" cy="373.8" r="1.85" fill="#f07000"/>
<circle cx="474.4" cy="373.8" r="1.85" fill="#f07000"/>
<circle cx="476.7" cy="373.8" r="1.85" fill="#f07000"/>
<circle cx="478.9" cy="373.8" r="1.85" fill="#f07000"/>
<circle cx="481.2" cy="373.8" r="1.85" fill="#f09000"/>
<circle cx="483.5" cy="373.8" r="1.85" fill="#f09000"/>
<circle cx="485.7" cy="373.8" r="1.85" fill="#e8ac00"/>
<circle cx="488.0" cy="373.8" r="1.85" fill="#e8ac00"/>
<circle cx="262.5" cy="380.2" r="1.85" fill="#1444f0"/>
<circle cx="308.2" cy="380.2" r="1.85" fill="#1444f0"/>
<circle cx="419.0" cy="380.2" r="1.85" fill="#5cd010"/>
<circle cx="445.4" cy="380.2" r="1.85" fill="#f09000"/>
<circle cx="457.4" cy="380.2" r="1.85" fill="#f07000"/>
<circle cx="484.8" cy="380.2" r="1.85" fill="#e8ac00"/>
<circle cx="33.0" cy="398.9" r="1.85" fill="#d6b8e2"/>
<circle cx="40.8" cy="398.9" r="1.85" fill="#d6b8e2"/>
<circle cx="89.5" cy="398.9" r="1.85" fill="#5800cc"/>
<circle cx="116.3" cy="398.9" r="1.85" fill="#3410e4"/>
<circle cx="132.8" cy="398.9" r="1.85" fill="#3410e4"/>
<circle cx="154.9" cy="398.9" r="1.85" fill="#3410e4"/>
<circle cx="188.5" cy="398.9" r="1.85" fill="#3410e4"/>
<circle cx="224.4" cy="398.9" r="1.85" fill="#1444f0"/>
<circle cx="234.5" cy="398.9" r="1.85" fill="#1444f0"/>
<circle cx="237.9" cy="398.9" r="1.85" fill="#1444f0"/>
<circle cx="241.2" cy="398.9" r="1.85" fill="#1444f0"/>
<circle cx="246.3" cy="398.9" r="1.85" fill="#1444f0"/>
<circle cx="259.1" cy="398.9" r="1.85" fill="#1a78ee"/>
<circle cx="265.3" cy="398.9" r="1.85" fill="#1a78ee"/>
<circle cx="268.0" cy="398.9" r="1.85" fill="#1a78ee"/>
<circle cx="271.5" cy="398.9" r="1.85" fill="#1a78ee"/>
<circle cx="286.6" cy="398.9" r="1.85" fill="#1a78ee"/>
<circle cx="297.9" cy="398.9" r="1.85" fill="#1a78ee"/>
<circle cx="308.2" cy="398.9" r="1.85" fill="#1444f0"/>
<circle cx="316.1" cy="398.9" r="1.85" fill="#1444f0"/>
<circle cx="336.6" cy="398.9" r="1.85" fill="#3410e4"/>
<circle cx="338.7" cy="398.9" r="1.85" fill="#3410e4"/>
<circle cx="340.8" cy="398.9" r="1.85" fill="#3410e4"/>
<circle cx="352.1" cy="398.9" r="1.85" fill="#3410e4"/>
<circle cx="354.5" cy="398.9" r="1.85" fill="#3410e4"/>
<circle cx="380.2" cy="398.9" r="1.85" fill="#1a78ee"/>
<circle cx="385.4" cy="398.9" r="1.85" fill="#1a78ee"/>
<circle cx="391.5" cy="398.9" r="1.85" fill="#1a78ee"/>
<circle cx="393.9" cy="398.9" r="1.85" fill="#12a2cc"/>
<circle cx="414.5" cy="398.9" r="1.85" fill="#14c25c"/>
<circle cx="423.1" cy="398.9" r="1.85" fill="#22cc18"/>
<circle cx="425.2" cy="398.9" r="1.85" fill="#5cd010"/>
<circle cx="427.4" cy="398.9" r="1.85" fill="#5cd010"/>
<circle cx="429.6" cy="398.9" r="1.85" fill="#5cd010"/>
<circle cx="431.7" cy="398.9" r="1.85" fill="#98d00e"/>
<circle cx="452.3" cy="398.9" r="1.85" fill="#e8ac00"/>
<circle cx="457.4" cy="398.9" r="1.85" fill="#e8ac00"/>
<circle cx="469.4" cy="398.9" r="1.85" fill="#e8ac00"/>
<circle cx="471.8" cy="398.9" r="1.85" fill="#e8ac00"/>
<circle cx="474.2" cy="398.9" r="1.85" fill="#e8ac00"/>
<circle cx="476.6" cy="398.9" r="1.85" fill="#e8ac00"/>
<circle cx="479.0" cy="398.9" r="1.85" fill="#dcc004"/>
<circle cx="481.4" cy="398.9" r="1.85" fill="#dcc004"/>
<circle cx="484.8" cy="398.9" r="1.85" fill="#dcc004"/>
<circle cx="44.1" cy="405.3" r="1.85" fill="#d6b8e2"/>
<circle cx="65.6" cy="405.3" r="1.85" fill="#d6b8e2"/>
<circle cx="98.5" cy="405.3" r="1.85" fill="#5800cc"/>
<circle cx="103.6" cy="405.3" r="1.85" fill="#5800cc"/>
<circle cx="128.7" cy="405.3" r="1.85" fill="#3410e4"/>
<circle cx="130.4" cy="405.3" r="1.85" fill="#3410e4"/>
<circle cx="161.6" cy="405.3" r="1.85" fill="#3410e4"/>
<circle cx="165.0" cy="405.3" r="1.85" fill="#3410e4"/>
<circle cx="179.1" cy="405.3" r="1.85" fill="#3410e4"/>
<circle cx="232.8" cy="405.3" r="1.85" fill="#1444f0"/>
<circle cx="262.5" cy="405.3" r="1.85" fill="#1a78ee"/>
<circle cx="285.9" cy="405.3" r="1.85" fill="#1a78ee"/>
<circle cx="297.9" cy="405.3" r="1.85" fill="#1444f0"/>
<circle cx="411.1" cy="405.3" r="1.85" fill="#10b2a0"/>
<circle cx="419.7" cy="405.3" r="1.85" fill="#14c25c"/>
<circle cx="428.2" cy="405.3" r="1.85" fill="#22cc18"/>
<circle cx="438.5" cy="405.3" r="1.85" fill="#98d00e"/>
<circle cx="452.3" cy="405.3" r="1.85" fill="#c4cc0c"/>
<circle cx="464.3" cy="405.3" r="1.85" fill="#dcc004"/>
<circle cx="466.7" cy="405.3" r="1.85" fill="#dcc004"/>
<circle cx="469.2" cy="405.3" r="1.85" fill="#dcc004"/>
<circle cx="471.6" cy="405.3" r="1.85" fill="#dcc004"/>
<circle cx="474.1" cy="405.3" r="1.85" fill="#dcc004"/>
<circle cx="476.5" cy="405.3" r="1.85" fill="#dcc004"/>
<circle cx="479.0" cy="405.3" r="1.85" fill="#dcc004"/>
<circle cx="481.4" cy="405.3" r="1.85" fill="#c4cc0c"/>
<circle cx="484.8" cy="405.3" r="1.85" fill="#c4cc0c"/>
<circle cx="179.8" cy="411.7" r="1.85" fill="#5800cc"/>
<circle cx="236.9" cy="411.7" r="1.85" fill="#1444f0"/>
<circle cx="286.6" cy="411.7" r="1.85" fill="#1444f0"/>
<circle cx="300.3" cy="411.7" r="1.85" fill="#3410e4"/>
<circle cx="419.0" cy="411.7" r="1.85" fill="#10b2a0"/>
<circle cx="457.4" cy="411.7" r="1.85" fill="#98d00e"/>
<circle cx="471.1" cy="411.7" r="1.85" fill="#c4cc0c"/>
<circle cx="481.4" cy="411.7" r="1.85" fill="#98d00e"/>
<circle cx="484.8" cy="411.7" r="1.85" fill="#98d00e"/>
</g>
<g fill="#000">
<rect x="29.0" y="0" width="2.5" height="18.3"/>
<rect x="211.0" y="0" width="3.0" height="18.3"/>
<rect x="418.0" y="0" width="3.0" height="18.3"/>
<rect x="487.0" y="0" width="3.0" height="18.3"/>
</g>
<line x1="35.5" y1="9.0" x2="92.0" y2="9.0" stroke="#000" stroke-width="1.8"/><path d="M31.5 9.0 L38.5 5.4 L38.5 12.6 Z" fill="#000"/>
<line x1="207.0" y1="9.0" x2="149.3" y2="9.0" stroke="#000" stroke-width="1.8"/><path d="M211.0 9.0 L204.0 5.4 L204.0 12.6 Z" fill="#000"/>
<line x1="218.0" y1="9.0" x2="286.0" y2="9.0" stroke="#000" stroke-width="1.8"/><path d="M214.0 9.0 L221.0 5.4 L221.0 12.6 Z" fill="#000"/>
<line x1="414.0" y1="9.0" x2="346.0" y2="9.0" stroke="#000" stroke-width="1.8"/><path d="M418.0 9.0 L411.0 5.4 L411.0 12.6 Z" fill="#000"/>
<line x1="425.0" y1="9.0" x2="431.4" y2="9.0" stroke="#000" stroke-width="1.8"/><path d="M421.0 9.0 L428.0 5.4 L428.0 12.6 Z" fill="#000"/>
<line x1="483.0" y1="9.0" x2="477.4" y2="9.0" stroke="#000" stroke-width="1.8"/><path d="M487.0 9.0 L480.0 5.4 L480.0 12.6 Z" fill="#000"/>
<g font-weight="bold" font-size="13" fill="#000">
<text x="121.5" y="12.7" text-anchor="middle">MWP</text>
<text x="314.6" y="12.7" text-anchor="middle">LIA</text>
<text x="453.5" y="12.5" text-anchor="middle">CWP</text>
</g>
<line x1="28.5" y1="18.3" x2="488" y2="18.3" stroke="#a6a6a6" stroke-width="1"/>
<line x1="487.8" y1="18.3" x2="487.8" y2="78" stroke="#a6a6a6" stroke-width="1"/>
<line x1="28.6" y1="18.3" x2="28.6" y2="417.5" stroke="#a6a6a6" stroke-width="1.2"/>
<line x1="31.5" y1="77.6" x2="31.5" y2="73.0" stroke="#a8c0ea" stroke-width="1"/>
<line x1="34.5" y1="77.6" x2="34.5" y2="73.8" stroke="#a8c0ea" stroke-width="1"/>
<line x1="36.5" y1="77.6" x2="36.5" y2="75.9" stroke="#4a74c8" stroke-width="0.9"/>
<line x1="38.5" y1="77.6" x2="38.5" y2="75.3" stroke="#4a74c8" stroke-width="0.9"/>
<line x1="43.5" y1="77.6" x2="43.5" y2="71.6" stroke="#a8c0ea" stroke-width="1"/>
<line x1="44.5" y1="77.6" x2="44.5" y2="75.8" stroke="#a8c0ea" stroke-width="1"/>
<line x1="51.5" y1="77.6" x2="51.5" y2="76.0" stroke="#a8c0ea" stroke-width="1"/>
<line x1="67.5" y1="77.6" x2="67.5" y2="74.3" stroke="#4a74c8" stroke-width="0.9"/>
<line x1="68.5" y1="77.6" x2="68.5" y2="73.9" stroke="#a8c0ea" stroke-width="1"/>
<line x1="82.5" y1="77.6" x2="82.5" y2="72.6" stroke="#4a74c8" stroke-width="0.9"/>
<line x1="88.5" y1="77.6" x2="88.5" y2="74.1" stroke="#a8c0ea" stroke-width="1"/>
<line x1="89.5" y1="77.6" x2="89.5" y2="76.0" stroke="#4a74c8" stroke-width="0.9"/>
<line x1="90.5" y1="77.6" x2="90.5" y2="75.2" stroke="#4a74c8" stroke-width="0.9"/>
<line x1="92.5" y1="77.6" x2="92.5" y2="74.2" stroke="#4a74c8" stroke-width="0.9"/>
<line x1="101.5" y1="77.6" x2="101.5" y2="75.5" stroke="#a8c0ea" stroke-width="1"/>
<line x1="106.5" y1="77.6" x2="106.5" y2="74.3" stroke="#4a74c8" stroke-width="0.9"/>
<line x1="113.5" y1="77.6" x2="113.5" y2="71.3" stroke="#4a74c8" stroke-width="0.9"/>
<line x1="118.5" y1="77.6" x2="118.5" y2="73.1" stroke="#a8c0ea" stroke-width="1"/>
<line x1="119.5" y1="77.6" x2="119.5" y2="75.4" stroke="#a8c0ea" stroke-width="1"/>
<line x1="121.5" y1="77.6" x2="121.5" y2="76.1" stroke="#a8c0ea" stroke-width="1"/>
<line x1="122.5" y1="77.6" x2="122.5" y2="74.6" stroke="#a8c0ea" stroke-width="1"/>
<line x1="125.5" y1="77.6" x2="125.5" y2="75.2" stroke="#a8c0ea" stroke-width="1"/>
<line x1="127.5" y1="77.6" x2="127.5" y2="71.7" stroke="#4a74c8" stroke-width="0.9"/>
<line x1="130.5" y1="77.6" x2="130.5" y2="75.8" stroke="#a8c0ea" stroke-width="1"/>
<line x1="134.5" y1="77.6" x2="134.5" y2="70.9" stroke="#4a74c8" stroke-width="0.9"/>
<line x1="135.5" y1="77.6" x2="135.5" y2="73.6" stroke="#a8c0ea" stroke-width="1"/>
<line x1="147.5" y1="77.6" x2="147.5" y2="71.9" stroke="#4a74c8" stroke-width="0.9"/>
<line x1="152.5" y1="77.6" x2="152.5" y2="73.8" stroke="#4a74c8" stroke-width="0.9"/>
<line x1="153.5" y1="77.6" x2="153.5" y2="76.0" stroke="#a8c0ea" stroke-width="1"/>
<line x1="154.5" y1="77.6" x2="154.5" y2="72.7" stroke="#4a74c8" stroke-width="0.9"/>
<line x1="160.5" y1="77.6" x2="160.5" y2="75.3" stroke="#a8c0ea" stroke-width="1"/>
<line x1="161.5" y1="77.6" x2="161.5" y2="73.1" stroke="#4a74c8" stroke-width="0.9"/>
<line x1="166.5" y1="77.6" x2="166.5" y2="72.9" stroke="#4a74c8" stroke-width="0.9"/>
<line x1="170.5" y1="77.6" x2="170.5" y2="72.1" stroke="#a8c0ea" stroke-width="1"/>
<line x1="177.5" y1="77.6" x2="177.5" y2="75.7" stroke="#a8c0ea" stroke-width="1"/>
<line x1="180.5" y1="77.6" x2="180.5" y2="71.8" stroke="#4a74c8" stroke-width="0.9"/>
<line x1="184.5" y1="77.6" x2="184.5" y2="76.1" stroke="#4a74c8" stroke-width="0.9"/>
<line x1="191.5" y1="77.6" x2="191.5" y2="75.2" stroke="#a8c0ea" stroke-width="1"/>
<line x1="192.5" y1="77.6" x2="192.5" y2="73.4" stroke="#a8c0ea" stroke-width="1"/>
<line x1="194.5" y1="77.6" x2="194.5" y2="71.2" stroke="#4a74c8" stroke-width="0.9"/>
<line x1="203.5" y1="77.6" x2="203.5" y2="74.2" stroke="#a8c0ea" stroke-width="1"/>
<line x1="204.5" y1="77.6" x2="204.5" y2="72.0" stroke="#a8c0ea" stroke-width="1"/>
<line x1="212.5" y1="77.6" x2="212.5" y2="73.5" stroke="#a8c0ea" stroke-width="1"/>
<line x1="213.5" y1="77.6" x2="213.5" y2="68.6" stroke="#4a74c8" stroke-width="0.9"/>
<line x1="229.5" y1="77.6" x2="229.5" y2="71.2" stroke="#4a74c8" stroke-width="0.9"/>
<line x1="231.5" y1="77.6" x2="231.5" y2="75.4" stroke="#4a74c8" stroke-width="0.9"/>
<line x1="232.5" y1="77.6" x2="232.5" y2="74.5" stroke="#a8c0ea" stroke-width="1"/>
<line x1="236.5" y1="77.6" x2="236.5" y2="69.3" stroke="#4a74c8" stroke-width="0.9"/>
<line x1="237.5" y1="77.6" x2="237.5" y2="67.2" stroke="#4a74c8" stroke-width="0.9"/>
<line x1="238.5" y1="77.6" x2="238.5" y2="66.2" stroke="#4a74c8" stroke-width="0.9"/>
<line x1="242.5" y1="77.6" x2="242.5" y2="72.6" stroke="#4a74c8" stroke-width="0.9"/>
<line x1="243.5" y1="77.6" x2="243.5" y2="74.8" stroke="#a8c0ea" stroke-width="1"/>
<line x1="245.5" y1="77.6" x2="245.5" y2="71.2" stroke="#4a74c8" stroke-width="0.9"/>
<line x1="246.5" y1="77.6" x2="246.5" y2="73.6" stroke="#4a74c8" stroke-width="0.9"/>
<line x1="248.5" y1="77.6" x2="248.5" y2="65.8" stroke="#4a74c8" stroke-width="0.9"/>
<line x1="250.5" y1="77.6" x2="250.5" y2="74.2" stroke="#a8c0ea" stroke-width="1"/>
<line x1="252.5" y1="77.6" x2="252.5" y2="75.4" stroke="#4a74c8" stroke-width="0.9"/>
<line x1="255.5" y1="77.6" x2="255.5" y2="75.2" stroke="#4a74c8" stroke-width="0.9"/>
<line x1="258.5" y1="77.6" x2="258.5" y2="75.8" stroke="#4a74c8" stroke-width="0.9"/>
<line x1="260.5" y1="77.6" x2="260.5" y2="66.4" stroke="#4a74c8" stroke-width="0.9"/>
<line x1="262.5" y1="77.6" x2="262.5" y2="67.5" stroke="#a8c0ea" stroke-width="1"/>
<line x1="265.5" y1="77.6" x2="265.5" y2="71.2" stroke="#4a74c8" stroke-width="0.9"/>
<line x1="266.5" y1="77.6" x2="266.5" y2="75.4" stroke="#4a74c8" stroke-width="0.9"/>
<line x1="267.5" y1="77.6" x2="267.5" y2="75.5" stroke="#a8c0ea" stroke-width="1"/>
<line x1="268.5" y1="77.6" x2="268.5" y2="74.8" stroke="#a8c0ea" stroke-width="1"/>
<line x1="269.5" y1="77.6" x2="269.5" y2="68.8" stroke="#a8c0ea" stroke-width="1"/>
<line x1="271.5" y1="77.6" x2="271.5" y2="73.4" stroke="#a8c0ea" stroke-width="1"/>
<line x1="272.5" y1="77.6" x2="272.5" y2="76.1" stroke="#4a74c8" stroke-width="0.9"/>
<line x1="274.5" y1="77.6" x2="274.5" y2="72.1" stroke="#4a74c8" stroke-width="0.9"/>
<line x1="275.5" y1="77.6" x2="275.5" y2="68.0" stroke="#4a74c8" stroke-width="0.9"/>
<line x1="278.5" y1="77.6" x2="278.5" y2="71.8" stroke="#4a74c8" stroke-width="0.9"/>
<line x1="280.5" y1="77.6" x2="280.5" y2="67.8" stroke="#4a74c8" stroke-width="0.9"/>
<line x1="282.5" y1="77.6" x2="282.5" y2="73.4" stroke="#a8c0ea" stroke-width="1"/>
<line x1="283.5" y1="77.6" x2="283.5" y2="75.8" stroke="#4a74c8" stroke-width="0.9"/>
<line x1="284.5" y1="77.6" x2="284.5" y2="75.1" stroke="#a8c0ea" stroke-width="1"/>
<line x1="288.5" y1="77.6" x2="288.5" y2="74.4" stroke="#a8c0ea" stroke-width="1"/>
<line x1="290.5" y1="77.6" x2="290.5" y2="72.4" stroke="#a8c0ea" stroke-width="1"/>
<line x1="294.5" y1="77.6" x2="294.5" y2="66.1" stroke="#a8c0ea" stroke-width="1"/>
<line x1="295.5" y1="77.6" x2="295.5" y2="76.1" stroke="#4a74c8" stroke-width="0.9"/>
<line x1="298.5" y1="77.6" x2="298.5" y2="71.8" stroke="#a8c0ea" stroke-width="1"/>
<line x1="299.5" y1="77.6" x2="299.5" y2="75.6" stroke="#4a74c8" stroke-width="0.9"/>
<line x1="300.5" y1="77.6" x2="300.5" y2="76.0" stroke="#a8c0ea" stroke-width="1"/>
<line x1="301.5" y1="77.6" x2="301.5" y2="70.9" stroke="#4a74c8" stroke-width="0.9"/>
<line x1="306.5" y1="77.6" x2="306.5" y2="73.7" stroke="#4a74c8" stroke-width="0.9"/>
<line x1="307.5" y1="77.6" x2="307.5" y2="69.2" stroke="#4a74c8" stroke-width="0.9"/>
<line x1="308.5" y1="77.6" x2="308.5" y2="67.8" stroke="#4a74c8" stroke-width="0.9"/>
<line x1="312.5" y1="77.6" x2="312.5" y2="71.6" stroke="#4a74c8" stroke-width="0.9"/>
<line x1="320.5" y1="77.6" x2="320.5" y2="76.0" stroke="#a8c0ea" stroke-width="1"/>
<line x1="321.5" y1="77.6" x2="321.5" y2="75.5" stroke="#4a74c8" stroke-width="0.9"/>
<line x1="327.5" y1="77.6" x2="327.5" y2="68.3" stroke="#4a74c8" stroke-width="0.9"/>
<line x1="328.5" y1="77.6" x2="328.5" y2="68.9" stroke="#4a74c8" stroke-width="0.9"/>
<line x1="329.5" y1="77.6" x2="329.5" y2="65.5" stroke="#a8c0ea" stroke-width="1"/>
<line x1="330.5" y1="77.6" x2="330.5" y2="72.9" stroke="#4a74c8" stroke-width="0.9"/>
<line x1="331.5" y1="77.6" x2="331.5" y2="65.5" stroke="#4a74c8" stroke-width="0.9"/>
<line x1="332.5" y1="77.6" x2="332.5" y2="71.3" stroke="#4a74c8" stroke-width="0.9"/>
<line x1="337.5" y1="77.6" x2="337.5" y2="74.4" stroke="#a8c0ea" stroke-width="1"/>
<line x1="339.5" y1="77.6" x2="339.5" y2="68.4" stroke="#a8c0ea" stroke-width="1"/>
<line x1="340.5" y1="77.6" x2="340.5" y2="72.9" stroke="#4a74c8" stroke-width="0.9"/>
<line x1="343.5" y1="77.6" x2="343.5" y2="69.2" stroke="#4a74c8" stroke-width="0.9"/>
<line x1="344.5" y1="77.6" x2="344.5" y2="74.7" stroke="#4a74c8" stroke-width="0.9"/>
<line x1="345.5" y1="77.6" x2="345.5" y2="61.0" stroke="#4a74c8" stroke-width="0.9"/>
<line x1="346.5" y1="77.6" x2="346.5" y2="70.1" stroke="#4a74c8" stroke-width="0.9"/>
<line x1="348.5" y1="77.6" x2="348.5" y2="72.9" stroke="#a8c0ea" stroke-width="1"/>
<line x1="350.5" y1="77.6" x2="350.5" y2="68.2" stroke="#a8c0ea" stroke-width="1"/>
<line x1="351.5" y1="77.6" x2="351.5" y2="61.5" stroke="#a8c0ea" stroke-width="1"/>
<line x1="353.5" y1="77.6" x2="353.5" y2="62.8" stroke="#4a74c8" stroke-width="0.9"/>
<line x1="354.5" y1="77.6" x2="354.5" y2="62.6" stroke="#4a74c8" stroke-width="0.9"/>
<line x1="355.5" y1="77.6" x2="355.5" y2="75.6" stroke="#4a74c8" stroke-width="0.9"/>
<line x1="356.5" y1="77.6" x2="356.5" y2="72.4" stroke="#a8c0ea" stroke-width="1"/>
<line x1="357.5" y1="77.6" x2="357.5" y2="72.2" stroke="#4a74c8" stroke-width="0.9"/>
<line x1="358.5" y1="77.6" x2="358.5" y2="65.3" stroke="#4a74c8" stroke-width="0.9"/>
<line x1="359.5" y1="77.6" x2="359.5" y2="62.0" stroke="#4a74c8" stroke-width="0.9"/>
<line x1="361.5" y1="77.6" x2="361.5" y2="71.4" stroke="#4a74c8" stroke-width="0.9"/>
<line x1="364.5" y1="77.6" x2="364.5" y2="70.6" stroke="#a8c0ea" stroke-width="1"/>
<line x1="365.5" y1="77.6" x2="365.5" y2="74.8" stroke="#4a74c8" stroke-width="0.9"/>
<line x1="366.5" y1="77.6" x2="366.5" y2="61.8" stroke="#a8c0ea" stroke-width="1"/>
<line x1="367.5" y1="77.6" x2="367.5" y2="69.3" stroke="#a8c0ea" stroke-width="1"/>
<line x1="368.5" y1="77.6" x2="368.5" y2="61.4" stroke="#4a74c8" stroke-width="0.9"/>
<line x1="373.5" y1="77.6" x2="373.5" y2="65.8" stroke="#a8c0ea" stroke-width="1"/>
<line x1="375.5" y1="77.6" x2="375.5" y2="65.2" stroke="#4a74c8" stroke-width="0.9"/>
<line x1="376.5" y1="77.6" x2="376.5" y2="75.3" stroke="#4a74c8" stroke-width="0.9"/>
<line x1="377.5" y1="77.6" x2="377.5" y2="69.9" stroke="#a8c0ea" stroke-width="1"/>
<line x1="378.5" y1="77.6" x2="378.5" y2="65.5" stroke="#4a74c8" stroke-width="0.9"/>
<line x1="379.5" y1="77.6" x2="379.5" y2="66.9" stroke="#a8c0ea" stroke-width="1"/>
<line x1="381.5" y1="77.6" x2="381.5" y2="74.1" stroke="#a8c0ea" stroke-width="1"/>
<line x1="382.5" y1="77.6" x2="382.5" y2="62.4" stroke="#4a74c8" stroke-width="0.9"/>
<line x1="383.5" y1="77.6" x2="383.5" y2="62.4" stroke="#4a74c8" stroke-width="0.9"/>
<line x1="384.5" y1="77.6" x2="384.5" y2="74.4" stroke="#a8c0ea" stroke-width="1"/>
<line x1="385.5" y1="77.6" x2="385.5" y2="71.9" stroke="#a8c0ea" stroke-width="1"/>
<line x1="386.5" y1="77.6" x2="386.5" y2="73.0" stroke="#4a74c8" stroke-width="0.9"/>
<line x1="389.5" y1="77.6" x2="389.5" y2="70.8" stroke="#4a74c8" stroke-width="0.9"/>
<line x1="390.5" y1="77.6" x2="390.5" y2="71.9" stroke="#a8c0ea" stroke-width="1"/>
<line x1="391.5" y1="77.6" x2="391.5" y2="61.2" stroke="#a8c0ea" stroke-width="1"/>
<line x1="392.5" y1="77.6" x2="392.5" y2="67.4" stroke="#4a74c8" stroke-width="0.9"/>
<line x1="393.5" y1="77.6" x2="393.5" y2="72.9" stroke="#a8c0ea" stroke-width="1"/>
<line x1="394.5" y1="77.6" x2="394.5" y2="70.4" stroke="#4a74c8" stroke-width="0.9"/>
<line x1="397.5" y1="77.6" x2="397.5" y2="75.4" stroke="#4a74c8" stroke-width="0.9"/>
<line x1="399.5" y1="77.6" x2="399.5" y2="68.1" stroke="#a8c0ea" stroke-width="1"/>
<line x1="400.5" y1="77.6" x2="400.5" y2="62.0" stroke="#4a74c8" stroke-width="0.9"/>
<line x1="403.5" y1="77.6" x2="403.5" y2="74.8" stroke="#a8c0ea" stroke-width="1"/>
<line x1="404.5" y1="77.6" x2="404.5" y2="66.5" stroke="#4a74c8" stroke-width="0.9"/>
<line x1="408.5" y1="77.6" x2="408.5" y2="68.7" stroke="#a8c0ea" stroke-width="1"/>
<line x1="410.5" y1="77.6" x2="410.5" y2="62.1" stroke="#4a74c8" stroke-width="0.9"/>
<line x1="411.5" y1="77.6" x2="411.5" y2="74.6" stroke="#a8c0ea" stroke-width="1"/>
<line x1="414.5" y1="77.6" x2="414.5" y2="75.1" stroke="#4a74c8" stroke-width="0.9"/>
<line x1="416.5" y1="77.6" x2="416.5" y2="73.5" stroke="#4a74c8" stroke-width="0.9"/>
<line x1="417.5" y1="77.6" x2="417.5" y2="72.4" stroke="#4a74c8" stroke-width="0.9"/>
<line x1="421.5" y1="77.6" x2="421.5" y2="70.9" stroke="#4a74c8" stroke-width="0.9"/>
<line x1="423.5" y1="77.6" x2="423.5" y2="69.7" stroke="#a8c0ea" stroke-width="1"/>
<line x1="424.5" y1="77.6" x2="424.5" y2="62.8" stroke="#4a74c8" stroke-width="0.9"/>
<line x1="425.5" y1="77.6" x2="425.5" y2="63.0" stroke="#4a74c8" stroke-width="0.9"/>
<line x1="426.5" y1="77.6" x2="426.5" y2="73.4" stroke="#4a74c8" stroke-width="0.9"/>
<line x1="427.5" y1="77.6" x2="427.5" y2="62.6" stroke="#a8c0ea" stroke-width="1"/>
<line x1="428.5" y1="77.6" x2="428.5" y2="61.4" stroke="#4a74c8" stroke-width="0.9"/>
<line x1="429.5" y1="77.6" x2="429.5" y2="56.3" stroke="#4a74c8" stroke-width="0.9"/>
<line x1="430.5" y1="77.6" x2="430.5" y2="70.9" stroke="#4a74c8" stroke-width="0.9"/>
<line x1="431.5" y1="77.6" x2="431.5" y2="69.9" stroke="#4a74c8" stroke-width="0.9"/>
<line x1="432.5" y1="77.6" x2="432.5" y2="71.6" stroke="#4a74c8" stroke-width="0.9"/>
<line x1="433.5" y1="77.6" x2="433.5" y2="63.0" stroke="#4a74c8" stroke-width="0.9"/>
<line x1="434.5" y1="77.6" x2="434.5" y2="68.2" stroke="#a8c0ea" stroke-width="1"/>
<line x1="436.5" y1="77.6" x2="436.5" y2="73.2" stroke="#a8c0ea" stroke-width="1"/>
<line x1="437.5" y1="77.6" x2="437.5" y2="57.9" stroke="#4a74c8" stroke-width="0.9"/>
<line x1="438.5" y1="77.6" x2="438.5" y2="55.7" stroke="#4a74c8" stroke-width="0.9"/>
<line x1="439.5" y1="77.6" x2="439.5" y2="71.6" stroke="#4a74c8" stroke-width="0.9"/>
<line x1="440.5" y1="77.6" x2="440.5" y2="73.4" stroke="#4a74c8" stroke-width="0.9"/>
<line x1="441.5" y1="77.6" x2="441.5" y2="68.6" stroke="#4a74c8" stroke-width="0.9"/>
<line x1="442.5" y1="77.6" x2="442.5" y2="73.6" stroke="#4a74c8" stroke-width="0.9"/>
<line x1="443.5" y1="77.6" x2="443.5" y2="56.6" stroke="#a8c0ea" stroke-width="1"/>
<line x1="445.5" y1="77.6" x2="445.5" y2="68.9" stroke="#4a74c8" stroke-width="0.9"/>
<line x1="446.5" y1="77.6" x2="446.5" y2="67.5" stroke="#a8c0ea" stroke-width="1"/>
<line x1="447.5" y1="77.6" x2="447.5" y2="68.6" stroke="#4a74c8" stroke-width="0.9"/>
<line x1="448.5" y1="77.6" x2="448.5" y2="68.8" stroke="#4a74c8" stroke-width="0.9"/>
<line x1="449.5" y1="77.6" x2="449.5" y2="67.9" stroke="#4a74c8" stroke-width="0.9"/>
<line x1="450.5" y1="77.6" x2="450.5" y2="73.3" stroke="#a8c0ea" stroke-width="1"/>
<line x1="451.5" y1="77.6" x2="451.5" y2="57.4" stroke="#4a74c8" stroke-width="0.9"/>
<line x1="452.5" y1="77.6" x2="452.5" y2="57.9" stroke="#4a74c8" stroke-width="0.9"/>
<line x1="453.5" y1="77.6" x2="453.5" y2="56.6" stroke="#4a74c8" stroke-width="0.9"/>
<line x1="454.5" y1="77.6" x2="454.5" y2="61.9" stroke="#4a74c8" stroke-width="0.9"/>
<line x1="455.5" y1="77.6" x2="455.5" y2="63.6" stroke="#4a74c8" stroke-width="0.9"/>
<line x1="456.5" y1="77.6" x2="456.5" y2="45.9" stroke="#4a74c8" stroke-width="0.9"/>
<line x1="457.5" y1="77.6" x2="457.5" y2="58.8" stroke="#4a74c8" stroke-width="0.9"/>
<line x1="458.5" y1="77.6" x2="458.5" y2="33.5" stroke="#4a74c8" stroke-width="0.9"/>
<line x1="459.5" y1="77.6" x2="459.5" y2="52.9" stroke="#4a74c8" stroke-width="0.9"/>
<line x1="460.5" y1="77.6" x2="460.5" y2="60.1" stroke="#4a74c8" stroke-width="0.9"/>
<line x1="461.5" y1="77.6" x2="461.5" y2="38.8" stroke="#4a74c8" stroke-width="0.9"/>
<line x1="462.5" y1="77.6" x2="462.5" y2="56.1" stroke="#4a74c8" stroke-width="0.9"/>
<line x1="463.5" y1="77.6" x2="463.5" y2="40.3" stroke="#a8c0ea" stroke-width="1"/>
<line x1="464.5" y1="77.6" x2="464.5" y2="41.5" stroke="#4a74c8" stroke-width="0.9"/>
<line x1="465.5" y1="77.6" x2="465.5" y2="63.2" stroke="#4a74c8" stroke-width="0.9"/>
<line x1="466.5" y1="77.6" x2="466.5" y2="32.4" stroke="#4a74c8" stroke-width="0.9"/>
<line x1="467.5" y1="77.6" x2="467.5" y2="57.9" stroke="#a8c0ea" stroke-width="1"/>
<line x1="468.5" y1="77.6" x2="468.5" y2="50.7" stroke="#4a74c8" stroke-width="0.9"/>
<line x1="469.5" y1="77.6" x2="469.5" y2="58.8" stroke="#4a74c8" stroke-width="0.9"/>
<line x1="470.5" y1="77.6" x2="470.5" y2="44.4" stroke="#4a74c8" stroke-width="0.9"/>
<line x1="471.5" y1="77.6" x2="471.5" y2="44.8" stroke="#a8c0ea" stroke-width="1"/>
<line x1="472.5" y1="77.6" x2="472.5" y2="57.1" stroke="#4a74c8" stroke-width="0.9"/>
<line x1="473.5" y1="77.6" x2="473.5" y2="42.0" stroke="#a8c0ea" stroke-width="1"/>
<line x1="474.5" y1="77.6" x2="474.5" y2="58.4" stroke="#a8c0ea" stroke-width="1"/>
<line x1="475.5" y1="77.6" x2="475.5" y2="47.9" stroke="#4a74c8" stroke-width="0.9"/>
<line x1="476.5" y1="77.6" x2="476.5" y2="31.9" stroke="#4a74c8" stroke-width="0.9"/>
<line x1="477.5" y1="77.6" x2="477.5" y2="39.3" stroke="#4a74c8" stroke-width="0.9"/>
<line x1="478.5" y1="77.6" x2="478.5" y2="61.9" stroke="#4a74c8" stroke-width="0.9"/>
<line x1="479.5" y1="77.6" x2="479.5" y2="38.1" stroke="#4a74c8" stroke-width="0.9"/>
<line x1="480.5" y1="77.6" x2="480.5" y2="57.1" stroke="#a8c0ea" stroke-width="1"/>
<line x1="481.5" y1="77.6" x2="481.5" y2="32.7" stroke="#4a74c8" stroke-width="0.9"/>
<line x1="482.5" y1="77.6" x2="482.5" y2="54.7" stroke="#4a74c8" stroke-width="0.9"/>
<line x1="483.5" y1="77.6" x2="483.5" y2="58.0" stroke="#4a74c8" stroke-width="0.9"/>
<line x1="484.5" y1="77.6" x2="484.5" y2="61.9" stroke="#4a74c8" stroke-width="0.9"/>
<line x1="485.5" y1="77.6" x2="485.5" y2="59.2" stroke="#4a74c8" stroke-width="0.9"/>
<line x1="486.5" y1="77.6" x2="486.5" y2="59.5" stroke="#4a74c8" stroke-width="0.9"/>
<line x1="99.3" y1="77.6" x2="99.3" y2="37.1" stroke="#a8c0ea" stroke-width="1"/>
<line x1="285.8" y1="77.6" x2="285.8" y2="37.1" stroke="#4a74c8" stroke-width="0.9"/>
<line x1="420.0" y1="77.6" x2="420.0" y2="47.6" stroke="#a8c0ea" stroke-width="1"/>
<line x1="390.0" y1="77.6" x2="390.0" y2="37.6" stroke="#a8c0ea" stroke-width="1"/>
<line x1="406.0" y1="77.6" x2="406.0" y2="44.6" stroke="#a8c0ea" stroke-width="1"/>
<line x1="478.5" y1="77.6" x2="478.5" y2="25.6" stroke="#4a74c8" stroke-width="0.9"/>
<line x1="484.0" y1="77.6" x2="484.0" y2="27.6" stroke="#4a74c8" stroke-width="0.9"/>
<line x1="455.0" y1="77.6" x2="455.0" y2="27.6" stroke="#a8c0ea" stroke-width="1"/>
<line x1="465.0" y1="77.6" x2="465.0" y2="33.6" stroke="#4a74c8" stroke-width="0.9"/>
<line x1="458.0" y1="77.6" x2="458.0" y2="35.6" stroke="#4a74c8" stroke-width="0.9"/>
<line x1="462.0" y1="77.6" x2="462.0" y2="37.6" stroke="#4a74c8" stroke-width="0.9"/>
<polyline points="28.5,55.1 29.5,51.4 30.5,52.2 31.5,52.8 32.5,50.7 33.5,52.0 34.5,51.9 35.5,48.9 36.5,53.6 37.5,52.8 38.5,50.7 39.5,51.4 40.5,52.5 41.5,51.2 42.5,51.2 43.5,49.1 44.5,52.5 45.5,51.7 46.5,51.9 47.5,48.8 48.5,54.2 49.5,51.6 50.5,50.7 51.5,54.7 52.5,51.2 53.5,48.8 54.5,50.5 55.5,47.3 56.5,52.9 57.5,50.4 58.5,49.8 59.5,52.8 60.5,48.1 61.5,51.7 62.5,47.2 63.5,49.4 64.5,48.3 65.5,52.7 66.5,53.1 67.5,49.5 68.5,51.9 69.5,50.5 70.5,52.2 71.5,50.3 72.5,49.1 73.5,49.3 74.5,53.5 75.5,57.6 76.5,55.8 77.5,56.1 78.5,61.8 79.5,59.3 80.5,59.0 81.5,59.2 82.5,58.4 83.5,58.1 84.5,56.1 85.5,59.3 86.5,58.2 87.5,60.3 88.5,57.5 89.5,54.8 90.5,57.7 91.5,60.5 92.5,56.6 93.5,55.5 94.5,54.7 95.5,54.6 96.5,55.6 97.5,52.5 98.5,54.0 99.5,49.7 100.5,50.7 101.5,53.3 102.5,53.7 103.5,51.1 104.5,52.4 105.5,53.4 106.5,52.1 107.5,49.7 108.5,54.1 109.5,54.8 110.5,54.3 111.5,52.3 112.5,53.8 113.5,53.4 114.5,54.2 115.5,57.2 116.5,57.9 117.5,56.7 118.5,56.8 119.5,57.1 120.5,55.8 121.5,55.6 122.5,54.5 123.5,55.4 124.5,59.2 125.5,56.7 126.5,54.6 127.5,54.2 128.5,53.4 129.5,55.4 130.5,55.3 131.5,52.1 132.5,55.3 133.5,53.4 134.5,56.6 135.5,54.4 136.5,56.9 137.5,53.1 138.5,53.3 139.5,54.1 140.5,55.3 141.5,54.4 142.5,51.2 143.5,53.5 144.5,53.1 145.5,52.5 146.5,52.6 147.5,57.1 148.5,53.9 149.5,53.6 150.5,56.5 151.5,56.1 152.5,56.2 153.5,58.1 154.5,58.0 155.5,58.3 156.5,59.7 157.5,59.0 158.5,57.9 159.5,58.4 160.5,57.8 161.5,58.7 162.5,56.1 163.5,54.5 164.5,57.4 165.5,54.6 166.5,53.2 167.5,56.8 168.5,54.6 169.5,56.3 170.5,54.2 171.5,52.9 172.5,52.3 173.5,53.2 174.5,53.2 175.5,52.0 176.5,52.5 177.5,51.2 178.5,54.7 179.5,52.5 180.5,56.0 181.5,58.4 182.5,59.9 183.5,61.8 184.5,57.1 185.5,61.9 186.5,63.5 187.5,63.9 188.5,60.7 189.5,62.2 190.5,63.8 191.5,57.3 192.5,59.8 193.5,60.1 194.5,56.2 195.5,57.5 196.5,53.9 197.5,53.5 198.5,53.4 199.5,55.0 200.5,54.5 201.5,56.2 202.5,53.0 203.5,54.3 204.5,56.1 205.5,55.4 206.5,52.1 207.5,55.5 208.5,53.5 209.5,54.9 210.5,54.7 211.5,56.2 212.5,54.3 213.5,50.9 214.5,51.7 215.5,55.3 216.5,53.7 217.5,56.1 218.5,54.7 219.5,53.0 220.5,56.2 221.5,53.1 222.5,51.0 223.5,58.1 224.5,51.4 225.5,55.8 226.5,56.3 227.5,55.2 228.5,52.8 229.5,58.1 230.5,54.6 231.5,55.5 232.5,57.9 233.5,60.5 234.5,60.4 235.5,62.0 236.5,60.6 237.5,61.7 238.5,60.8 239.5,62.9 240.5,64.8 241.5,63.6 242.5,65.3 243.5,63.8 244.5,64.1 245.5,64.9 246.5,63.6 247.5,64.0 248.5,62.4 249.5,64.1 250.5,59.9 251.5,58.9 252.5,56.6 253.5,57.5 254.5,58.6 255.5,56.1 256.5,57.3 257.5,58.6 258.5,57.2 259.5,56.5 260.5,59.1 261.5,57.6 262.5,58.1 263.5,59.4 264.5,59.3 265.5,56.7 266.5,56.3 267.5,57.5 268.5,56.6 269.5,53.5 270.5,58.7 271.5,56.4 272.5,57.5 273.5,54.0 274.5,58.1 275.5,54.7 276.5,55.4 277.5,53.0 278.5,55.0 279.5,54.7 280.5,54.6 281.5,55.5 282.5,54.7 283.5,56.1 284.5,53.5 285.5,52.4 286.5,54.1 287.5,55.8 288.5,57.5 289.5,57.3 290.5,53.6 291.5,57.8 292.5,60.3 293.5,58.5 294.5,58.2 295.5,60.2 296.5,59.4 297.5,62.0 298.5,61.5 299.5,64.5 300.5,63.6 301.5,62.1 302.5,65.0 303.5,66.2 304.5,64.2 305.5,63.3 306.5,58.5 307.5,62.3 308.5,58.1 309.5,54.9 310.5,55.9 311.5,59.0 312.5,61.1 313.5,60.1 314.5,61.5 315.5,59.3 316.5,59.3 317.5,63.5 318.5,63.3 319.5,62.8 320.5,65.5 321.5,62.1 322.5,63.5 323.5,65.6 324.5,65.8 325.5,61.6 326.5,63.3 327.5,58.3 328.5,58.8 329.5,56.8 330.5,54.2 331.5,58.3 332.5,60.3 333.5,59.4 334.5,60.4 335.5,63.8 336.5,60.2 337.5,60.7 338.5,63.0 339.5,61.4 340.5,64.3 341.5,61.1 342.5,57.7 343.5,56.8 344.5,61.3 345.5,55.9 346.5,58.3 347.5,62.6 348.5,65.8 349.5,67.3 350.5,64.3 351.5,62.8 352.5,64.7 353.5,62.5 354.5,58.8 355.5,62.5 356.5,60.7 357.5,58.0 358.5,56.9 359.5,56.6 360.5,54.6 361.5,53.7 362.5,56.7 363.5,53.9 364.5,57.1 365.5,54.2 366.5,56.7 367.5,56.8 368.5,60.2 369.5,55.5 370.5,55.1 371.5,56.6 372.5,56.0 373.5,57.0 374.5,58.9 375.5,59.4 376.5,60.5 377.5,56.1 378.5,61.4 379.5,59.9 380.5,55.8 381.5,51.8 382.5,55.2 383.5,55.0 384.5,51.6 385.5,56.6 386.5,57.2 387.5,57.2 388.5,60.6 389.5,61.2 390.5,57.7 391.5,57.9 392.5,55.4 393.5,54.2 394.5,54.7 395.5,54.5 396.5,51.6 397.5,47.8 398.5,54.1 399.5,52.9 400.5,58.3 401.5,63.6 402.5,63.1 403.5,61.7 404.5,60.0 405.5,63.2 406.5,60.0 407.5,61.6 408.5,63.0 409.5,62.0 410.5,62.3 411.5,61.9 412.5,59.0 413.5,61.4 414.5,63.3 415.5,62.5 416.5,62.9 417.5,61.5 418.5,61.4 419.5,61.9 420.5,58.5 421.5,59.0 422.5,56.3 423.5,60.2 424.5,58.1 425.5,58.4 426.5,59.7 427.5,58.4 428.5,55.9 429.5,56.9 430.5,52.6 431.5,55.7 432.5,55.6 433.5,53.0 434.5,58.4 435.5,55.3 436.5,58.0 437.5,56.5 438.5,59.3 439.5,60.2 440.5,56.9 441.5,56.1 442.5,58.8 443.5,60.9 444.5,59.2 445.5,58.5 446.5,59.3 447.5,52.8 448.5,55.4 449.5,53.1 450.5,55.0 451.5,52.2 452.5,50.5 453.5,50.5 454.5,47.4 455.5,48.6 456.5,46.2 457.5,45.5 458.5,43.7 459.5,45.8 460.5,43.9 461.5,44.9 462.5,44.7 463.5,42.4 464.5,44.6 465.5,44.1 466.5,44.1 467.5,43.3 468.5,43.6 469.5,46.0 470.5,48.8 471.5,44.0 472.5,46.7 473.5,44.8 474.5,45.6 475.5,43.9 476.5,43.8 477.5,36.2 478.5,39.1 479.5,40.6 480.5,42.0 481.5,38.7 482.5,36.5 483.5,36.4 484.5,36.1 485.5,24.9 486.5,26.1" fill="none" stroke="#ed7d31" stroke-width="2.3" stroke-linejoin="round"/>
<line x1="28.5" y1="78" x2="488" y2="78" stroke="#a6a6a6" stroke-width="1.2"/>
<rect x="74" y="29.4" width="4" height="4" fill="#4472c4"/>
<text x="80.2" y="34.4" font-size="9" fill="#4a66b0">annual event sum</text>
<line x1="322.7" y1="30.6" x2="344" y2="30.6" stroke="#ed7d31" stroke-width="2"/>
<text x="346.7" y="34" font-size="8.8" fill="#d0773a">global mean temperature</text>
<g font-size="8.9" fill="#3b55d6" text-anchor="end">
<text x="25" y="27.8">30</text>
<text x="25" y="44.3">20</text>
<text x="25" y="61.0">10</text>
<text x="25" y="77.1">0</text>
</g><g font-size="9.2" fill="#d06a28">
<text x="490.2" y="25.6">14.6</text>
<text x="490.2" y="42.5">14.1</text>
<text x="490.2" y="59.3">13.6</text>
<text x="490.2" y="75.2">13.1</text>
</g>
<text transform="translate(10,82) rotate(-90)" font-size="13" font-weight="bold" fill="#1f3ee0">flood sum</text>
<text transform="translate(12.2,356) rotate(-90)" font-size="11.2" font-weight="bold" fill="#1f3ee0" textLength="219" lengthAdjust="spacingAndGlyphs">flood occurrence along sub-basins</text>
<line x1="28.5" y1="417.5" x2="497.5" y2="417.5" stroke="#a6a6a6" stroke-width="1.2"/>
<g stroke="#a6a6a6" stroke-width="1">
<line x1="29.0" y1="417.5" x2="29.0" y2="421.5"/>
<line x1="52.0" y1="417.5" x2="52.0" y2="421.5"/>
<line x1="75.0" y1="417.5" x2="75.0" y2="421.5"/>
<line x1="97.9" y1="417.5" x2="97.9" y2="421.5"/>
<line x1="120.9" y1="417.5" x2="120.9" y2="421.5"/>
<line x1="143.9" y1="417.5" x2="143.9" y2="421.5"/>
<line x1="166.9" y1="417.5" x2="166.9" y2="421.5"/>
<line x1="189.9" y1="417.5" x2="189.9" y2="421.5"/>
<line x1="212.8" y1="417.5" x2="212.8" y2="421.5"/>
<line x1="235.8" y1="417.5" x2="235.8" y2="421.5"/>
<line x1="258.8" y1="417.5" x2="258.8" y2="421.5"/>
<line x1="281.8" y1="417.5" x2="281.8" y2="421.5"/>
<line x1="304.8" y1="417.5" x2="304.8" y2="421.5"/>
<line x1="327.7" y1="417.5" x2="327.7" y2="421.5"/>
<line x1="350.7" y1="417.5" x2="350.7" y2="421.5"/>
<line x1="373.7" y1="417.5" x2="373.7" y2="421.5"/>
<line x1="396.7" y1="417.5" x2="396.7" y2="421.5"/>
<line x1="419.7" y1="417.5" x2="419.7" y2="421.5"/>
<line x1="442.6" y1="417.5" x2="442.6" y2="421.5"/>
<line x1="465.6" y1="417.5" x2="465.6" y2="421.5"/>
<line x1="488.6" y1="417.5" x2="488.6" y2="421.5"/>
</g><g font-size="8.7" fill="#4a4a4a" text-anchor="middle">
<text x="29.0" y="430.5">1000</text>
<text x="75.0" y="430.5">1100</text>
<text x="120.9" y="430.5">1200</text>
<text x="166.9" y="430.5">1300</text>
<text x="212.8" y="430.5">1400</text>
<text x="258.8" y="430.5">1500</text>
<text x="304.8" y="430.5">1600</text>
<text x="350.7" y="430.5">1700</text>
<text x="396.7" y="430.5">1800</text>
<text x="442.6" y="430.5">1900</text>
<text x="488.6" y="430.5">2000</text>
</g>
<text x="239.7" y="450.7" font-size="13" font-weight="bold" fill="#5f5f5f" text-anchor="middle">Calendar Year</text>
<rect x="489.5" y="79.0" width="27.3" height="7.6" fill="url(#hatch)" stroke="#3f4f3f" stroke-width="0.7"/>
<rect x="514.4" y="79.0" width="2.2" height="7.6" fill="#b9c8b7"/>
<rect x="489.5" y="86.9" width="9.3" height="7.6" fill="url(#hatch)" stroke="#3f4f3f" stroke-width="0.7"/>
<rect x="489.5" y="94.8" width="1.3" height="7.6" fill="url(#hatch)" stroke="#3f4f3f" stroke-width="0.7"/>
<rect x="489.5" y="109.8" width="43.9" height="7.6" fill="url(#hatch)" stroke="#3f4f3f" stroke-width="0.7"/>
<rect x="531.0" y="109.8" width="2.2" height="7.6" fill="#b9c8b7"/>
<rect x="489.5" y="117.7" width="18.8" height="7.6" fill="url(#hatch)" stroke="#3f4f3f" stroke-width="0.7"/>
<rect x="505.9" y="117.7" width="2.2" height="7.6" fill="#b9c8b7"/>
<rect x="489.5" y="125.6" width="3.6" height="7.6" fill="url(#hatch)" stroke="#3f4f3f" stroke-width="0.7"/>
<rect x="489.5" y="141.5" width="42.0" height="7.6" fill="url(#hatch)" stroke="#3f4f3f" stroke-width="0.7"/>
<rect x="529.1" y="141.5" width="2.2" height="7.6" fill="#b9c8b7"/>
<rect x="489.5" y="149.4" width="17.3" height="7.6" fill="url(#hatch)" stroke="#3f4f3f" stroke-width="0.7"/>
<rect x="504.4" y="149.4" width="2.2" height="7.6" fill="#b9c8b7"/>
<rect x="489.5" y="157.3" width="3.1" height="7.6" fill="url(#hatch)" stroke="#3f4f3f" stroke-width="0.7"/>
<rect x="489.5" y="173.1" width="31.1" height="7.6" fill="url(#hatch)" stroke="#3f4f3f" stroke-width="0.7"/>
<rect x="518.2" y="173.1" width="2.2" height="7.6" fill="#b9c8b7"/>
<rect x="489.5" y="181.0" width="14.7" height="7.6" fill="url(#hatch)" stroke="#3f4f3f" stroke-width="0.7"/>
<rect x="501.8" y="181.0" width="2.2" height="7.6" fill="#b9c8b7"/>
<rect x="489.5" y="188.9" width="5.3" height="7.6" fill="url(#hatch)" stroke="#3f4f3f" stroke-width="0.7"/>
<rect x="489.5" y="204.4" width="23.4" height="7.6" fill="url(#hatch)" stroke="#3f4f3f" stroke-width="0.7"/>
<rect x="510.5" y="204.4" width="2.2" height="7.6" fill="#b9c8b7"/>
<rect x="489.5" y="212.3" width="11.4" height="7.6" fill="url(#hatch)" stroke="#3f4f3f" stroke-width="0.7"/>
<rect x="489.5" y="236.5" width="52.9" height="7.6" fill="url(#hatch)" stroke="#3f4f3f" stroke-width="0.7"/>
<rect x="540.0" y="236.5" width="2.2" height="7.6" fill="#b9c8b7"/>
<rect x="489.5" y="244.4" width="23.2" height="7.6" fill="url(#hatch)" stroke="#3f4f3f" stroke-width="0.7"/>
<rect x="510.3" y="244.4" width="2.2" height="7.6" fill="#b9c8b7"/>
<rect x="489.5" y="252.3" width="6.8" height="7.6" fill="url(#hatch)" stroke="#3f4f3f" stroke-width="0.7"/>
<rect x="489.5" y="268.1" width="45.2" height="7.6" fill="url(#hatch)" stroke="#3f4f3f" stroke-width="0.7"/>
<rect x="532.3" y="268.1" width="2.2" height="7.6" fill="#b9c8b7"/>
<rect x="489.5" y="276.0" width="30.0" height="7.6" fill="url(#hatch)" stroke="#3f4f3f" stroke-width="0.7"/>
<rect x="517.1" y="276.0" width="2.2" height="7.6" fill="#b9c8b7"/>
<rect x="489.5" y="283.9" width="8.2" height="7.6" fill="url(#hatch)" stroke="#3f4f3f" stroke-width="0.7"/>
<rect x="489.5" y="299.2" width="27.1" height="7.6" fill="url(#hatch)" stroke="#3f4f3f" stroke-width="0.7"/>
<rect x="514.2" y="299.2" width="2.2" height="7.6" fill="#b9c8b7"/>
<rect x="489.5" y="307.1" width="23.2" height="7.6" fill="url(#hatch)" stroke="#3f4f3f" stroke-width="0.7"/>
<rect x="510.3" y="307.1" width="2.2" height="7.6" fill="#b9c8b7"/>
<rect x="489.5" y="315.0" width="7.9" height="7.6" fill="url(#hatch)" stroke="#3f4f3f" stroke-width="0.7"/>
<rect x="489.5" y="330.8" width="53.3" height="7.6" fill="url(#hatch)" stroke="#3f4f3f" stroke-width="0.7"/>
<rect x="540.4" y="330.8" width="2.2" height="7.6" fill="#b9c8b7"/>
<rect x="489.5" y="338.7" width="34.3" height="7.6" fill="url(#hatch)" stroke="#3f4f3f" stroke-width="0.7"/>
<rect x="521.4" y="338.7" width="2.2" height="7.6" fill="#b9c8b7"/>
<rect x="489.5" y="346.6" width="4.7" height="7.6" fill="url(#hatch)" stroke="#3f4f3f" stroke-width="0.7"/>
<rect x="489.5" y="362.7" width="18.0" height="7.6" fill="url(#hatch)" stroke="#3f4f3f" stroke-width="0.7"/>
<rect x="505.1" y="362.7" width="2.2" height="7.6" fill="#b9c8b7"/>
<rect x="489.5" y="370.6" width="21.7" height="7.6" fill="url(#hatch)" stroke="#3f4f3f" stroke-width="0.7"/>
<rect x="508.8" y="370.6" width="2.2" height="7.6" fill="#b9c8b7"/>
<rect x="489.5" y="378.5" width="4.7" height="7.6" fill="url(#hatch)" stroke="#3f4f3f" stroke-width="0.7"/>
<rect x="489.5" y="394.0" width="28.2" height="7.6" fill="url(#hatch)" stroke="#3f4f3f" stroke-width="0.7"/>
<rect x="515.3" y="394.0" width="2.2" height="7.6" fill="#b9c8b7"/>
<rect x="489.5" y="401.9" width="21.1" height="7.6" fill="url(#hatch)" stroke="#3f4f3f" stroke-width="0.7"/>
<rect x="508.2" y="401.9" width="2.2" height="7.6" fill="#b9c8b7"/>
<rect x="489.5" y="409.8" width="7.0" height="7.6" fill="url(#hatch)" stroke="#3f4f3f" stroke-width="0.7"/>
<line x1="489.3" y1="78" x2="489.3" y2="417.5" stroke="#b0b0b0" stroke-width="0.8"/>
<g stroke="#4a6b3a" fill="none">
<line x1="555.2" y1="27.8" x2="519.5" y2="77" stroke-width="1.8"/>
<path d="M553.6 51.2 L517.1 90.8 L505 90.8" stroke-width="1"/>
<path d="M555.7 65.8 L516.5 99.7 L497 99.7" stroke-width="1"/>
</g><g fill="#4a6b3a">
<path d="M516.8 81.6 L518.2 73.2 L524.5 77.8 Z"/>
<path d="M499 90.8 L506 87.3 L506 94.3 Z"/>
<path d="M492 99.7 L499 96.2 L499 103.2 Z"/>
</g>
<g font-family="Liberation Serif, serif" font-size="13.1" fill="#5b7a5b">
<text x="563.4" y="32">mild flood</text>
<text x="563.4" y="51.2">severe flood</text>
<text x="563.4" y="70.6">extreme flood</text>
</g>
<g font-size="13.2" font-weight="bold">
<text x="547.8" y="91.3" fill="#1b2f6e">Jinsha River Basin</text>
<text x="547.8" y="120.5" fill="#1b2f6e">Mintuo River Basin</text>
<text x="547.8" y="154.8" fill="#1b2f6e">Jialing River Basin</text>
<text x="547.8" y="186.6" fill="#1414e6">Upper-mainstream</text>
<text x="547.8" y="217.2" fill="#1b2f6e">Wu River Basin</text>
<text x="547.8" y="246.9" fill="#1b2f6e">Dongting Lake Basin</text>
<text x="547.8" y="279.7" fill="#1b2f6e">Han River Basin</text>
<text x="547.8" y="309.6" fill="#1414e6">Mid-mainstream</text>
<text x="547.8" y="342.4" fill="#1b2f6e">Poyang Lake Basin</text>
<text x="547.8" y="373.7" fill="#1b2f6e">Down-mainstream</text>
<text x="547.8" y="405.0" fill="#1414e6">Yangtze Delta Region</text>
</g>
<rect x="458.3" y="435.5" width="230" height="30" fill="#fff" stroke="#222" stroke-width="1"/>
<rect x="460" y="437.3" width="110" height="25" fill="#f3f3f3"/>
<defs><linearGradient id="lg" x1="0" x2="1"><stop offset="0" stop-color="#8a48d8"/><stop offset="0.2" stop-color="#4a6af0"/><stop offset="0.35" stop-color="#30b0d8"/><stop offset="0.5" stop-color="#50d060"/><stop offset="0.65" stop-color="#c8d030"/><stop offset="0.8" stop-color="#f0a040"/><stop offset="1" stop-color="#f04040"/></linearGradient></defs>
<rect x="469" y="441.8" width="91" height="1.4" fill="url(#lg)"/>
<g font-size="12">
<text x="469.0" y="451.3" fill="#8a50d0" textLength="9.6" lengthAdjust="spacingAndGlyphs">.1</text>
<text x="479.1" y="451.3" fill="#6262ee" textLength="9.6" lengthAdjust="spacingAndGlyphs">.2</text>
<text x="489.2" y="451.3" fill="#40a0e0" textLength="9.6" lengthAdjust="spacingAndGlyphs">.3</text>
<text x="499.4" y="451.3" fill="#20b090" textLength="9.6" lengthAdjust="spacingAndGlyphs">.4</text>
<text x="509.5" y="451.3" fill="#60c840" textLength="9.6" lengthAdjust="spacingAndGlyphs">.5</text>
<text x="519.6" y="451.3" fill="#a8d040" textLength="9.6" lengthAdjust="spacingAndGlyphs">.6</text>
<text x="529.7" y="451.3" fill="#f0c040" textLength="9.6" lengthAdjust="spacingAndGlyphs">.7</text>
<text x="539.8" y="451.3" fill="#f09050" textLength="9.6" lengthAdjust="spacingAndGlyphs">.8</text>
<text x="550.0" y="451.3" fill="#f04848" textLength="9.6" lengthAdjust="spacingAndGlyphs">.9</text>
</g>
<text x="570.8" y="451" font-size="11" fill="#111" textLength="110" lengthAdjust="spacingAndGlyphs">quantile density contours</text>
</svg></body></html>
